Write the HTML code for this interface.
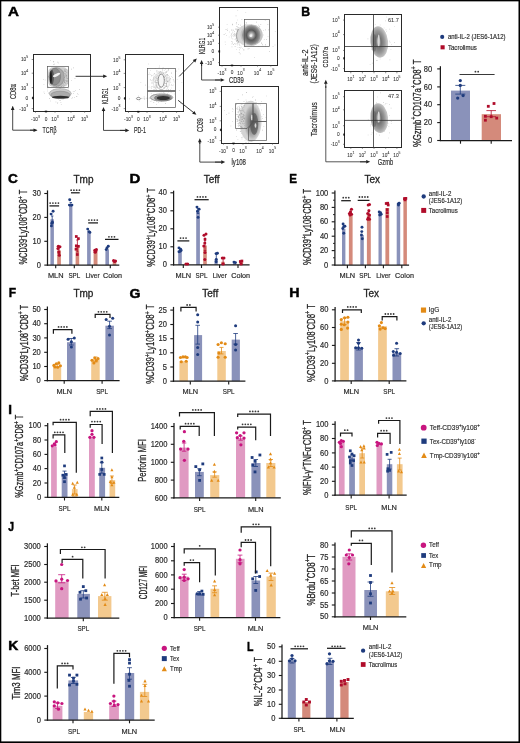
<!DOCTYPE html>
<html><head><meta charset="utf-8"><style>
html,body{margin:0;padding:0;background:#fff;}
svg{display:block;font-family:"Liberation Sans", sans-serif;will-change:transform;}
text{stroke:#2a2a2a;stroke-width:0.3px;}
text[font-weight="bold"]{stroke-width:0;}
</style></head><body>
<svg width="520" height="743" viewBox="0 0 520 743">
<defs>
<filter id="fb" x="-20%" y="-20%" width="140%" height="140%"><feGaussianBlur stdDeviation="0.55"/></filter>
<filter id="fb2" x="-20%" y="-20%" width="140%" height="140%"><feGaussianBlur stdDeviation="0.9"/></filter>
<radialGradient id="gsoft" cx="0.5" cy="0.5" r="0.5">
<stop offset="0" stop-color="#606060"/>
<stop offset="0.45" stop-color="#8a8a8a"/>
<stop offset="0.8" stop-color="#b8b8b8"/>
<stop offset="1" stop-color="#d8d8d8" stop-opacity="0.3"/>
</radialGradient>
<radialGradient id="gring" cx="0.5" cy="0.5" r="0.5">
<stop offset="0" stop-color="#f2f2f2"/>
<stop offset="0.2" stop-color="#b0b0b0"/>
<stop offset="0.5" stop-color="#585858"/>
<stop offset="0.75" stop-color="#7a7a7a"/>
<stop offset="1" stop-color="#a8a8a8"/>
</radialGradient>
<radialGradient id="gbean" cx="0.45" cy="0.5" r="0.5">
<stop offset="0" stop-color="#b4b4b4"/>
<stop offset="0.35" stop-color="#747474"/>
<stop offset="0.7" stop-color="#979797"/>
<stop offset="1" stop-color="#c2c2c2"/>
</radialGradient>
<radialGradient id="gcore" cx="0.5" cy="0.5" r="0.5">
<stop offset="0" stop-color="#f0f0f0"/>
<stop offset="0.18" stop-color="#9a9a9a"/>
<stop offset="0.45" stop-color="#4a4a4a"/>
<stop offset="0.75" stop-color="#8a8a8a"/>
<stop offset="1" stop-color="#cfcfcf" stop-opacity="0.3"/>
</radialGradient>
<radialGradient id="gdark" cx="0.5" cy="0.5" r="0.5">
<stop offset="0" stop-color="#333"/>
<stop offset="0.55" stop-color="#555"/>
<stop offset="1" stop-color="#aaa" stop-opacity="0.2"/>
</radialGradient>
<radialGradient id="ghalo" cx="0.5" cy="0.5" r="0.5">
<stop offset="0" stop-color="#9a9a9a" stop-opacity="0.9"/>
<stop offset="0.6" stop-color="#b5b5b5" stop-opacity="0.6"/>
<stop offset="1" stop-color="#e0e0e0" stop-opacity="0"/>
</radialGradient>
<radialGradient id="glight" cx="0.5" cy="0.5" r="0.5">
<stop offset="0" stop-color="#ffffff"/>
<stop offset="0.35" stop-color="#c8c8c8"/>
<stop offset="0.8" stop-color="#b0b0b0" stop-opacity="0.6"/>
<stop offset="1" stop-color="#e0e0e0" stop-opacity="0"/>
</radialGradient>
</defs>
<rect x="0" y="0" width="520" height="743" fill="#ffffff"/>
<text x="0" y="0" transform="translate(7.92 16.23) scale(1.15 1)" font-size="13.2" font-weight="bold" fill="#000" style="stroke:#000;stroke-width:0.45px">A</text>
<rect x="33.5" y="54.5" width="57" height="57" fill="none" stroke="#2a2a2a" stroke-width="1"/>
<line x1="31.7" y1="59.5" x2="33.1" y2="59.5" stroke="#444" stroke-width="0.6" />
<text x="28.2" y="59.9" font-size="4.8" text-anchor="end" dominant-baseline="central" fill="#333" style="stroke-width:0.06px">10<tspan font-size="3.46" dy="-2.64">5</tspan></text>
<line x1="31.7" y1="73.2" x2="33.1" y2="73.2" stroke="#444" stroke-width="0.6" />
<text x="28.2" y="73.6" font-size="4.8" text-anchor="end" dominant-baseline="central" fill="#333" style="stroke-width:0.06px">10<tspan font-size="3.46" dy="-2.64">4</tspan></text>
<line x1="31.7" y1="87.6" x2="33.1" y2="87.6" stroke="#444" stroke-width="0.6" />
<text x="28.2" y="88" font-size="4.8" text-anchor="end" dominant-baseline="central" fill="#333" style="stroke-width:0.06px">10<tspan font-size="3.46" dy="-2.64">3</tspan></text>
<line x1="31.7" y1="98" x2="33.1" y2="98" stroke="#444" stroke-width="0.6" />
<rect x="32.2" y="96.8" width="1.5" height="2.4" fill="#111" stroke="none" stroke-width="0"/>
<text x="28.2" y="98" font-size="4.8" text-anchor="end" dominant-baseline="central" fill="#333" style="stroke-width:0.06px">0</text>
<line x1="31.7" y1="108.6" x2="33.1" y2="108.6" stroke="#444" stroke-width="0.6" />
<text x="28.2" y="109" font-size="4.8" text-anchor="end" dominant-baseline="central" fill="#333" style="stroke-width:0.06px">-10<tspan font-size="3.46" dy="-2.64">3</tspan></text>
<line x1="35.5" y1="111.3" x2="35.5" y2="112.7" stroke="#444" stroke-width="0.6" />
<text x="35.5" y="119.7" font-size="4.8" text-anchor="middle" dominant-baseline="central" fill="#333" style="stroke-width:0.06px">-10<tspan font-size="3.46" dy="-2.64">3</tspan></text>
<line x1="46" y1="111.3" x2="46" y2="112.7" stroke="#444" stroke-width="0.6" />
<rect x="44.8" y="110.7" width="2.4" height="1.5" fill="#111" stroke="none" stroke-width="0"/>
<text x="46" y="119.3" font-size="4.8" text-anchor="middle" dominant-baseline="central" fill="#333" style="stroke-width:0.06px">0</text>
<line x1="55" y1="111.3" x2="55" y2="112.7" stroke="#444" stroke-width="0.6" />
<text x="55" y="119.7" font-size="4.8" text-anchor="middle" dominant-baseline="central" fill="#333" style="stroke-width:0.06px">10<tspan font-size="3.46" dy="-2.64">3</tspan></text>
<line x1="71" y1="111.3" x2="71" y2="112.7" stroke="#444" stroke-width="0.6" />
<text x="71" y="119.7" font-size="4.8" text-anchor="middle" dominant-baseline="central" fill="#333" style="stroke-width:0.06px">10<tspan font-size="3.46" dy="-2.64">4</tspan></text>
<line x1="84.6" y1="111.3" x2="84.6" y2="112.7" stroke="#444" stroke-width="0.6" />
<text x="84.6" y="119.7" font-size="4.8" text-anchor="middle" dominant-baseline="central" fill="#333" style="stroke-width:0.06px">10<tspan font-size="3.46" dy="-2.64">5</tspan></text>
<rect x="48.3" y="67.3" width="19.8" height="19.6" rx="5" fill="#cdcdcd" filter="url(#fb)"/>
<path d="M54.38 79.27h0.55v0.55h-0.55zM65.47 73.92h0.55v0.55h-0.55zM53.86 76.61h0.55v0.55h-0.55zM62.89 83.59h0.55v0.55h-0.55zM54.42 69.24h0.55v0.55h-0.55zM64.03 79.84h0.55v0.55h-0.55zM59.99 75.35h0.55v0.55h-0.55zM56.58 70.17h0.55v0.55h-0.55zM60.98 77.87h0.55v0.55h-0.55zM58.78 76.63h0.55v0.55h-0.55zM61.87 81.15h0.55v0.55h-0.55zM65.98 78.26h0.55v0.55h-0.55zM51.55 81.21h0.55v0.55h-0.55zM53.4 75.97h0.55v0.55h-0.55zM53.13 77.01h0.55v0.55h-0.55zM56.61 78.28h0.55v0.55h-0.55zM64.71 69.06h0.55v0.55h-0.55zM59.06 80.97h0.55v0.55h-0.55zM60.04 79.22h0.55v0.55h-0.55zM61.02 70.96h0.55v0.55h-0.55zM63.32 72.13h0.55v0.55h-0.55zM63.93 77.01h0.55v0.55h-0.55zM65.26 73.39h0.55v0.55h-0.55zM65.49 76.26h0.55v0.55h-0.55zM66.82 80.75h0.55v0.55h-0.55zM61.21 72.32h0.55v0.55h-0.55zM64.34 79.81h0.55v0.55h-0.55zM63.27 80.05h0.55v0.55h-0.55zM61.91 78.25h0.55v0.55h-0.55zM61.41 73.41h0.55v0.55h-0.55zM55.43 74.62h0.55v0.55h-0.55zM63.45 86.07h0.55v0.55h-0.55zM65.39 83.32h0.55v0.55h-0.55zM64.39 81.19h0.55v0.55h-0.55zM61.42 81.63h0.55v0.55h-0.55zM61.72 82.83h0.55v0.55h-0.55zM64.87 70.19h0.55v0.55h-0.55zM61.38 81.51h0.55v0.55h-0.55zM61.13 71.7h0.55v0.55h-0.55zM59.94 79.24h0.55v0.55h-0.55zM66.08 81.26h0.55v0.55h-0.55zM60.8 85.13h0.55v0.55h-0.55zM56.7 81.76h0.55v0.55h-0.55zM66.06 75.25h0.55v0.55h-0.55zM51.55 71.56h0.55v0.55h-0.55zM61.69 80.17h0.55v0.55h-0.55zM60.51 80.89h0.55v0.55h-0.55zM65.52 71.5h0.55v0.55h-0.55zM58.44 78.33h0.55v0.55h-0.55zM61.07 86.34h0.55v0.55h-0.55zM57.07 74.15h0.55v0.55h-0.55zM64.1 85.55h0.55v0.55h-0.55zM63.77 78.81h0.55v0.55h-0.55zM51.39 72.72h0.55v0.55h-0.55zM57.45 73.8h0.55v0.55h-0.55zM63.43 74.99h0.55v0.55h-0.55zM64.44 77.49h0.55v0.55h-0.55zM58.84 77.71h0.55v0.55h-0.55zM62.64 82.15h0.55v0.55h-0.55zM58.11 75.6h0.55v0.55h-0.55zM53.68 86.62h0.55v0.55h-0.55zM58.11 69.58h0.55v0.55h-0.55zM61.35 78.24h0.55v0.55h-0.55zM67.55 78.14h0.55v0.55h-0.55zM52.45 78.08h0.55v0.55h-0.55zM66.09 80.43h0.55v0.55h-0.55zM55.96 84.32h0.55v0.55h-0.55zM52.83 82.28h0.55v0.55h-0.55zM64.77 71.08h0.55v0.55h-0.55zM57.03 72.84h0.55v0.55h-0.55zM54.55 72.92h0.55v0.55h-0.55zM66.75 81.14h0.55v0.55h-0.55zM59.82 71.11h0.55v0.55h-0.55zM59.88 69.12h0.55v0.55h-0.55zM51.61 81.18h0.55v0.55h-0.55zM67.16 78.51h0.55v0.55h-0.55zM56.91 77.52h0.55v0.55h-0.55zM58.63 70.33h0.55v0.55h-0.55zM52.04 68.1h0.55v0.55h-0.55zM60.47 77.9h0.55v0.55h-0.55zM58.13 85.57h0.55v0.55h-0.55zM61.39 80.5h0.55v0.55h-0.55zM66.59 72.08h0.55v0.55h-0.55zM50.65 81.51h0.55v0.55h-0.55zM57.06 84.87h0.55v0.55h-0.55zM62.19 83.04h0.55v0.55h-0.55zM64.1 72.96h0.55v0.55h-0.55zM56.72 74.39h0.55v0.55h-0.55zM64.34 82.31h0.55v0.55h-0.55zM59.99 80.6h0.55v0.55h-0.55zM56.68 78.47h0.55v0.55h-0.55zM61.66 83.05h0.55v0.55h-0.55zM56.39 72.03h0.55v0.55h-0.55zM65.95 76.26h0.55v0.55h-0.55zM61.63 77.69h0.55v0.55h-0.55zM61.52 75.75h0.55v0.55h-0.55zM58.83 69.46h0.55v0.55h-0.55zM63.18 77.39h0.55v0.55h-0.55zM59.43 77.38h0.55v0.55h-0.55zM62.27 73.12h0.55v0.55h-0.55zM61.48 78.44h0.55v0.55h-0.55zM56.76 72.27h0.55v0.55h-0.55zM55.51 70.62h0.55v0.55h-0.55zM59.17 73.33h0.55v0.55h-0.55zM57.4 77.59h0.55v0.55h-0.55zM66.14 77.46h0.55v0.55h-0.55zM59.8 73.33h0.55v0.55h-0.55zM59.86 82.47h0.55v0.55h-0.55zM58.53 70.12h0.55v0.55h-0.55zM54.18 70.36h0.55v0.55h-0.55zM53.55 83.59h0.55v0.55h-0.55zM62.28 75.58h0.55v0.55h-0.55zM64.27 81.81h0.55v0.55h-0.55zM55.86 82.44h0.55v0.55h-0.55zM66.98 69.63h0.55v0.55h-0.55zM65.74 74.7h0.55v0.55h-0.55zM58.53 73.69h0.55v0.55h-0.55zM55.49 69.59h0.55v0.55h-0.55zM51.89 74.56h0.55v0.55h-0.55zM63.35 72.63h0.55v0.55h-0.55zM65.18 80.22h0.55v0.55h-0.55zM52.37 73.81h0.55v0.55h-0.55zM59.3 77.11h0.55v0.55h-0.55zM61.16 74.97h0.55v0.55h-0.55zM61.45 73.48h0.55v0.55h-0.55zM56.02 86.09h0.55v0.55h-0.55zM62.3 79.63h0.55v0.55h-0.55zM52.53 76h0.55v0.55h-0.55zM64.6 69.25h0.55v0.55h-0.55zM65.99 74.66h0.55v0.55h-0.55zM62.51 76.2h0.55v0.55h-0.55zM61.59 84.22h0.55v0.55h-0.55zM58.48 86.39h0.55v0.55h-0.55zM56.59 71.41h0.55v0.55h-0.55zM64.06 70.6h0.55v0.55h-0.55zM58.65 82.44h0.55v0.55h-0.55zM66.47 75.56h0.55v0.55h-0.55zM57.5 75.22h0.55v0.55h-0.55zM54.74 75.41h0.55v0.55h-0.55zM59.56 76.13h0.55v0.55h-0.55zM66.41 75.62h0.55v0.55h-0.55zM53.21 83.31h0.55v0.55h-0.55zM55.14 74.32h0.55v0.55h-0.55zM59.83 74.94h0.55v0.55h-0.55zM55.48 75.51h0.55v0.55h-0.55zM59.82 83.74h0.55v0.55h-0.55zM64.22 81.58h0.55v0.55h-0.55zM56.18 77.77h0.55v0.55h-0.55zM62.99 84.77h0.55v0.55h-0.55zM62.85 75.57h0.55v0.55h-0.55zM60.7 75.73h0.55v0.55h-0.55zM61.74 81.05h0.55v0.55h-0.55zM58.8 72.12h0.55v0.55h-0.55zM56.23 83.58h0.55v0.55h-0.55zM66.9 82.95h0.55v0.55h-0.55zM64.78 82h0.55v0.55h-0.55zM60.49 80.98h0.55v0.55h-0.55zM55.24 75.78h0.55v0.55h-0.55zM56.83 81.36h0.55v0.55h-0.55zM57.6 76.35h0.55v0.55h-0.55zM62.5 85.13h0.55v0.55h-0.55z" fill="#8a8a8a" opacity="0.9"/>
<path d="M51.37 70.61h0.6v0.6h-0.6zM65.86 68.94h0.6v0.6h-0.6zM62.57 74.3h0.6v0.6h-0.6zM57.55 61.79h0.6v0.6h-0.6zM64.92 75h0.6v0.6h-0.6zM50.41 100.77h0.6v0.6h-0.6zM62.17 76.52h0.6v0.6h-0.6zM59.47 96.07h0.6v0.6h-0.6zM58.26 84.51h0.6v0.6h-0.6zM63.15 70.9h0.6v0.6h-0.6zM59.66 74.97h0.6v0.6h-0.6zM47.29 88.72h0.6v0.6h-0.6zM64.49 80.75h0.6v0.6h-0.6zM50.33 59.94h0.6v0.6h-0.6zM62.87 79.02h0.6v0.6h-0.6zM43.35 79.4h0.6v0.6h-0.6zM44.81 79.73h0.6v0.6h-0.6zM59.79 83.55h0.6v0.6h-0.6zM60.45 81.71h0.6v0.6h-0.6zM48.24 76.16h0.6v0.6h-0.6zM53.9 77.64h0.6v0.6h-0.6zM60.93 86.19h0.6v0.6h-0.6zM62.11 78.02h0.6v0.6h-0.6zM78.99 89.34h0.6v0.6h-0.6zM43.62 84.02h0.6v0.6h-0.6zM53.81 89.94h0.6v0.6h-0.6zM49 78.98h0.6v0.6h-0.6zM57.32 79.03h0.6v0.6h-0.6zM53.24 61.62h0.6v0.6h-0.6zM62.64 89.99h0.6v0.6h-0.6zM57.89 69.83h0.6v0.6h-0.6zM60.33 85.65h0.6v0.6h-0.6zM56.92 79.86h0.6v0.6h-0.6zM71.18 68.81h0.6v0.6h-0.6zM53.48 60.94h0.6v0.6h-0.6zM52.2 72.6h0.6v0.6h-0.6zM49.86 73.06h0.6v0.6h-0.6zM74.67 78.04h0.6v0.6h-0.6zM57.47 101.98h0.6v0.6h-0.6zM57.95 62.66h0.6v0.6h-0.6zM62.13 70.63h0.6v0.6h-0.6zM73.25 67.54h0.6v0.6h-0.6zM53.28 63.94h0.6v0.6h-0.6zM59.38 69.84h0.6v0.6h-0.6zM57.91 76.23h0.6v0.6h-0.6zM52.98 89.43h0.6v0.6h-0.6zM66.92 80.62h0.6v0.6h-0.6zM50.4 69.3h0.6v0.6h-0.6zM60.93 103.91h0.6v0.6h-0.6zM54.39 72.15h0.6v0.6h-0.6zM52.22 69.05h0.6v0.6h-0.6zM49.75 77.95h0.6v0.6h-0.6zM71.4 79.99h0.6v0.6h-0.6zM53.9 63.85h0.6v0.6h-0.6zM60.42 79.73h0.6v0.6h-0.6zM47.46 69.13h0.6v0.6h-0.6zM58.12 90.12h0.6v0.6h-0.6zM64.14 82.06h0.6v0.6h-0.6z" fill="#9a9a9a" opacity="0.9"/>
<path d="M58.24 94.96h0.55v0.55h-0.55zM60.42 100.52h0.55v0.55h-0.55zM52.57 92.89h0.55v0.55h-0.55zM69.38 93.2h0.55v0.55h-0.55zM70.47 93.87h0.55v0.55h-0.55zM61.52 92.89h0.55v0.55h-0.55zM50.84 91.09h0.55v0.55h-0.55zM76.01 95.94h0.55v0.55h-0.55zM64.74 96.86h0.55v0.55h-0.55zM64.48 97.07h0.55v0.55h-0.55zM58.64 93.33h0.55v0.55h-0.55zM67.39 92.94h0.55v0.55h-0.55zM51.19 93.32h0.55v0.55h-0.55zM56.69 95.84h0.55v0.55h-0.55zM55.46 90.82h0.55v0.55h-0.55zM58.18 98.66h0.55v0.55h-0.55zM60.16 94.48h0.55v0.55h-0.55zM60.56 94.89h0.55v0.55h-0.55zM67 98.19h0.55v0.55h-0.55zM48.99 98.08h0.55v0.55h-0.55zM60.48 93.04h0.55v0.55h-0.55zM77.29 93.49h0.55v0.55h-0.55zM74.11 96.9h0.55v0.55h-0.55zM53.29 95.47h0.55v0.55h-0.55zM65.66 93.62h0.55v0.55h-0.55zM44.2 92.97h0.55v0.55h-0.55zM59.16 90.68h0.55v0.55h-0.55zM73.28 93.27h0.55v0.55h-0.55zM57.75 93.1h0.55v0.55h-0.55zM55.02 91.67h0.55v0.55h-0.55zM61.16 94.94h0.55v0.55h-0.55zM56.95 93.73h0.55v0.55h-0.55zM50.77 95.56h0.55v0.55h-0.55zM55.25 94.64h0.55v0.55h-0.55zM54.15 92.45h0.55v0.55h-0.55zM62.01 90.37h0.55v0.55h-0.55zM77.79 93.89h0.55v0.55h-0.55zM59.99 91.8h0.55v0.55h-0.55zM71.66 98.16h0.55v0.55h-0.55zM62.6 89.9h0.55v0.55h-0.55zM56.97 95.85h0.55v0.55h-0.55zM56.92 90.45h0.55v0.55h-0.55zM52.19 91.69h0.55v0.55h-0.55zM60.6 92.05h0.55v0.55h-0.55zM60.63 102.38h0.55v0.55h-0.55zM72.91 90.89h0.55v0.55h-0.55zM62.9 94.26h0.55v0.55h-0.55zM59.53 97.13h0.55v0.55h-0.55zM58.17 93.02h0.55v0.55h-0.55zM57.88 93.7h0.55v0.55h-0.55zM69.5 96.33h0.55v0.55h-0.55zM51.11 92.67h0.55v0.55h-0.55zM54.92 96.45h0.55v0.55h-0.55zM62.07 96.67h0.55v0.55h-0.55zM60.07 88.27h0.55v0.55h-0.55zM63.66 94.68h0.55v0.55h-0.55zM64.06 90.09h0.55v0.55h-0.55zM61.07 91.94h0.55v0.55h-0.55zM55.69 95.06h0.55v0.55h-0.55zM62.97 91.32h0.55v0.55h-0.55zM48.52 86.58h0.55v0.55h-0.55zM56.47 97.37h0.55v0.55h-0.55zM60.11 87.25h0.55v0.55h-0.55zM54.46 95.26h0.55v0.55h-0.55zM72.21 97.5h0.55v0.55h-0.55zM63.07 94.59h0.55v0.55h-0.55zM53.08 92.64h0.55v0.55h-0.55zM58.17 91.68h0.55v0.55h-0.55zM60.94 92.82h0.55v0.55h-0.55zM62.86 98.3h0.55v0.55h-0.55zM65.69 95.25h0.55v0.55h-0.55zM58.81 89.44h0.55v0.55h-0.55zM59.7 95.63h0.55v0.55h-0.55zM53.44 97.76h0.55v0.55h-0.55zM58.16 95.12h0.55v0.55h-0.55zM58.2 90.23h0.55v0.55h-0.55zM74.97 90.52h0.55v0.55h-0.55zM66.93 92.33h0.55v0.55h-0.55zM62.45 91.58h0.55v0.55h-0.55zM57.59 96.76h0.55v0.55h-0.55zM74.12 91.46h0.55v0.55h-0.55zM60.57 96.84h0.55v0.55h-0.55zM56.08 96.13h0.55v0.55h-0.55zM55.01 95.81h0.55v0.55h-0.55zM63.56 97.64h0.55v0.55h-0.55zM63.05 90.42h0.55v0.55h-0.55zM65.15 90.7h0.55v0.55h-0.55zM65.76 98.53h0.55v0.55h-0.55zM64.67 92.34h0.55v0.55h-0.55zM68.85 94.5h0.55v0.55h-0.55zM51.78 92.94h0.55v0.55h-0.55zM70.43 93.09h0.55v0.55h-0.55zM61.35 92.97h0.55v0.55h-0.55zM48.7 92.47h0.55v0.55h-0.55zM63 94.62h0.55v0.55h-0.55zM59.28 87.6h0.55v0.55h-0.55zM69.05 96.16h0.55v0.55h-0.55zM67.67 97.9h0.55v0.55h-0.55zM57.39 92.19h0.55v0.55h-0.55zM62.7 99.02h0.55v0.55h-0.55zM48.7 93.31h0.55v0.55h-0.55zM55.49 95.68h0.55v0.55h-0.55zM70.75 93.11h0.55v0.55h-0.55zM51.82 94.15h0.55v0.55h-0.55zM58.5 89.37h0.55v0.55h-0.55zM66.69 92.43h0.55v0.55h-0.55zM65.28 90.05h0.55v0.55h-0.55zM68.17 89.68h0.55v0.55h-0.55zM67.87 88.57h0.55v0.55h-0.55zM70.16 92.88h0.55v0.55h-0.55zM49.61 93.3h0.55v0.55h-0.55zM62.86 91.03h0.55v0.55h-0.55zM57.05 94.81h0.55v0.55h-0.55zM59.32 84.8h0.55v0.55h-0.55zM57.49 95.28h0.55v0.55h-0.55zM62.58 97.03h0.55v0.55h-0.55zM55.67 101.66h0.55v0.55h-0.55zM66.1 94.94h0.55v0.55h-0.55zM68.1 96.86h0.55v0.55h-0.55zM61.21 92.14h0.55v0.55h-0.55zM67.67 95.27h0.55v0.55h-0.55zM47.25 90.69h0.55v0.55h-0.55zM63.77 94.33h0.55v0.55h-0.55zM62.46 95.93h0.55v0.55h-0.55zM61.52 98.75h0.55v0.55h-0.55zM56.37 92.8h0.55v0.55h-0.55zM62.76 96.24h0.55v0.55h-0.55zM66.01 98.46h0.55v0.55h-0.55zM57.16 97.5h0.55v0.55h-0.55zM63.77 90.87h0.55v0.55h-0.55zM59.54 100.26h0.55v0.55h-0.55zM66 92.59h0.55v0.55h-0.55zM43.71 91.79h0.55v0.55h-0.55zM55.58 94.23h0.55v0.55h-0.55zM76.67 96.24h0.55v0.55h-0.55zM62.69 91.2h0.55v0.55h-0.55zM52.2 93.38h0.55v0.55h-0.55zM57.23 103.02h0.55v0.55h-0.55zM57.67 92.15h0.55v0.55h-0.55zM68.4 94.23h0.55v0.55h-0.55z" fill="#8a8a8a" opacity="0.9"/>
<g filter="url(#fb)">
<ellipse cx="56.5" cy="77" rx="7.8" ry="9.4" fill="#aaaaaa" stroke="#7a7a7a" stroke-width="0.4" opacity="1"/>
<ellipse cx="55" cy="76.6" rx="5.6" ry="8.4" fill="#8e8e8e" stroke="#666" stroke-width="0.4" opacity="1"/>
<ellipse cx="51.9" cy="77.2" rx="2" ry="7.4" fill="#555555" stroke="none" stroke-width="0.5" opacity="1"/>
<ellipse cx="50.9" cy="77.4" rx="1" ry="6.6" fill="#1a1a1a" stroke="none" stroke-width="0.5" opacity="1"/>
<ellipse cx="56.6" cy="75" rx="3.9" ry="1.3" fill="#f0f0f0" stroke="none" stroke-width="0.5" opacity="1" transform="rotate(-25 56.6 75)"/>
<ellipse cx="60.2" cy="93.6" rx="11" ry="5" fill="#cbcbcb" stroke="#888" stroke-width="0.4" opacity="1"/>
<ellipse cx="60.4" cy="94.8" rx="9.6" ry="3.6" fill="#ababab" stroke="#777" stroke-width="0.4" opacity="1"/>
<ellipse cx="60.6" cy="97.2" rx="8.8" ry="1.4" fill="#2e2e2e" stroke="none" stroke-width="0.5" opacity="1"/>
</g>
<rect x="47.5" y="66.5" width="21" height="21" fill="none" stroke="#555" stroke-width="0.7"/>
<line x1="75.6" y1="76.3" x2="104.8" y2="76.3" stroke="#222" stroke-width="0.9" />
<polygon points="107.2,76.3 103.2,74.5 103.2,78.1" fill="#222"/>
<text x="13.3" y="91.6" font-size="8.4" text-anchor="middle" dominant-baseline="central" fill="#2a2a2a" textLength="15" lengthAdjust="spacingAndGlyphs" transform="rotate(-90 13.3 91.6)" style="stroke-width:0.16px">CD8&#945;</text>
<polyline points="12.7,106.5 12.7,130.2 36.5,130.2" stroke="#333" stroke-width="0.9" fill="none" />
<line x1="12.7" y1="110" x2="12.7" y2="108.4" stroke="#222" stroke-width="0.9" />
<polygon points="12.7,106 10.9,110 14.5,110" fill="#222"/>
<line x1="30" y1="130.2" x2="35.1" y2="130.2" stroke="#222" stroke-width="0.9" />
<polygon points="37.5,130.2 33.5,128.4 33.5,132" fill="#222"/>
<text x="42.6" y="130.3" font-size="8.4" text-anchor="start" dominant-baseline="central" fill="#2a2a2a" textLength="13.9" lengthAdjust="spacingAndGlyphs" style="stroke-width:0.16px">TCR&#946;</text>
<rect x="125.5" y="54.5" width="58" height="57" fill="none" stroke="#2a2a2a" stroke-width="1"/>
<line x1="123.7" y1="59.8" x2="125.1" y2="59.8" stroke="#444" stroke-width="0.6" />
<text x="120.3" y="60.2" font-size="4.8" text-anchor="end" dominant-baseline="central" fill="#333" style="stroke-width:0.06px">10<tspan font-size="3.46" dy="-2.64">5</tspan></text>
<line x1="123.7" y1="73.4" x2="125.1" y2="73.4" stroke="#444" stroke-width="0.6" />
<text x="120.3" y="73.8" font-size="4.8" text-anchor="end" dominant-baseline="central" fill="#333" style="stroke-width:0.06px">10<tspan font-size="3.46" dy="-2.64">4</tspan></text>
<line x1="123.7" y1="87.6" x2="125.1" y2="87.6" stroke="#444" stroke-width="0.6" />
<text x="120.3" y="88" font-size="4.8" text-anchor="end" dominant-baseline="central" fill="#333" style="stroke-width:0.06px">10<tspan font-size="3.46" dy="-2.64">3</tspan></text>
<line x1="123.7" y1="98.4" x2="125.1" y2="98.4" stroke="#444" stroke-width="0.6" />
<rect x="124.2" y="97.2" width="1.5" height="2.4" fill="#111" stroke="none" stroke-width="0"/>
<text x="120.3" y="98.4" font-size="4.8" text-anchor="end" dominant-baseline="central" fill="#333" style="stroke-width:0.06px">0</text>
<line x1="123.7" y1="108.6" x2="125.1" y2="108.6" stroke="#444" stroke-width="0.6" />
<text x="120.3" y="109" font-size="4.8" text-anchor="end" dominant-baseline="central" fill="#333" style="stroke-width:0.06px">-10<tspan font-size="3.46" dy="-2.64">3</tspan></text>
<line x1="128.5" y1="111.5" x2="128.5" y2="112.9" stroke="#444" stroke-width="0.6" />
<text x="128.5" y="119.7" font-size="4.8" text-anchor="middle" dominant-baseline="central" fill="#333" style="stroke-width:0.06px">-10<tspan font-size="3.46" dy="-2.64">3</tspan></text>
<line x1="138.3" y1="111.5" x2="138.3" y2="112.9" stroke="#444" stroke-width="0.6" />
<rect x="137.1" y="110.9" width="2.4" height="1.5" fill="#111" stroke="none" stroke-width="0"/>
<text x="138.3" y="119.3" font-size="4.8" text-anchor="middle" dominant-baseline="central" fill="#333" style="stroke-width:0.06px">0</text>
<line x1="147" y1="111.5" x2="147" y2="112.9" stroke="#444" stroke-width="0.6" />
<text x="147" y="119.7" font-size="4.8" text-anchor="middle" dominant-baseline="central" fill="#333" style="stroke-width:0.06px">10<tspan font-size="3.46" dy="-2.64">3</tspan></text>
<line x1="163" y1="111.5" x2="163" y2="112.9" stroke="#444" stroke-width="0.6" />
<text x="163" y="119.7" font-size="4.8" text-anchor="middle" dominant-baseline="central" fill="#333" style="stroke-width:0.06px">10<tspan font-size="3.46" dy="-2.64">4</tspan></text>
<line x1="176.6" y1="111.5" x2="176.6" y2="112.9" stroke="#444" stroke-width="0.6" />
<text x="176.6" y="119.7" font-size="4.8" text-anchor="middle" dominant-baseline="central" fill="#333" style="stroke-width:0.06px">10<tspan font-size="3.46" dy="-2.64">5</tspan></text>
<path d="M153.47 89.53h0.6v0.6h-0.6zM159.47 71.2h0.6v0.6h-0.6zM163.59 83.92h0.6v0.6h-0.6zM159.3 85.38h0.6v0.6h-0.6zM166.83 74.32h0.6v0.6h-0.6zM148.13 63.75h0.6v0.6h-0.6zM160.67 89.11h0.6v0.6h-0.6zM168.02 90.24h0.6v0.6h-0.6zM173.56 80.61h0.6v0.6h-0.6zM168.36 69.8h0.6v0.6h-0.6zM165.98 83.25h0.6v0.6h-0.6zM160.89 77.4h0.6v0.6h-0.6zM154.25 81.48h0.6v0.6h-0.6zM169.8 77.93h0.6v0.6h-0.6zM164.95 75.85h0.6v0.6h-0.6zM163.15 73.45h0.6v0.6h-0.6zM163.96 78.97h0.6v0.6h-0.6zM163.55 76.25h0.6v0.6h-0.6zM153.85 78.2h0.6v0.6h-0.6zM168.24 91.55h0.6v0.6h-0.6zM159.39 86.1h0.6v0.6h-0.6zM166.43 83.25h0.6v0.6h-0.6zM151.42 82.77h0.6v0.6h-0.6zM155.2 88.73h0.6v0.6h-0.6zM166.62 84.82h0.6v0.6h-0.6zM145.02 84.85h0.6v0.6h-0.6zM166.05 71.56h0.6v0.6h-0.6zM167.81 81.03h0.6v0.6h-0.6zM160.31 75.51h0.6v0.6h-0.6zM154.88 77.46h0.6v0.6h-0.6zM181.56 81.92h0.6v0.6h-0.6zM162.85 75.96h0.6v0.6h-0.6zM157.49 76.64h0.6v0.6h-0.6zM155.74 86.63h0.6v0.6h-0.6zM159.74 86.56h0.6v0.6h-0.6zM153.99 87h0.6v0.6h-0.6zM161.32 85.17h0.6v0.6h-0.6zM160.82 74.28h0.6v0.6h-0.6zM169.37 77.45h0.6v0.6h-0.6zM160.54 74.3h0.6v0.6h-0.6zM162.83 77.77h0.6v0.6h-0.6zM163.33 82.91h0.6v0.6h-0.6zM157.02 70.63h0.6v0.6h-0.6zM164.31 86.92h0.6v0.6h-0.6zM166.03 72.48h0.6v0.6h-0.6zM165.43 83.19h0.6v0.6h-0.6zM163.34 83.51h0.6v0.6h-0.6zM159.4 82h0.6v0.6h-0.6zM167.52 76.97h0.6v0.6h-0.6zM152.14 79.77h0.6v0.6h-0.6zM162.78 67.59h0.6v0.6h-0.6zM157.1 84.63h0.6v0.6h-0.6zM160.52 81.15h0.6v0.6h-0.6zM153.31 86.84h0.6v0.6h-0.6zM172.9 79.1h0.6v0.6h-0.6zM156.74 72.4h0.6v0.6h-0.6zM167.29 81.23h0.6v0.6h-0.6zM156.34 89h0.6v0.6h-0.6zM166.47 84.72h0.6v0.6h-0.6zM150.06 79.77h0.6v0.6h-0.6zM165.57 71.93h0.6v0.6h-0.6zM167.54 90.51h0.6v0.6h-0.6zM168.22 75.45h0.6v0.6h-0.6zM156.9 87.09h0.6v0.6h-0.6zM167.96 89.1h0.6v0.6h-0.6zM169.3 79.8h0.6v0.6h-0.6zM158.84 67.51h0.6v0.6h-0.6zM166.6 96.43h0.6v0.6h-0.6zM158.49 77.17h0.6v0.6h-0.6zM165.72 83.12h0.6v0.6h-0.6zM152.59 75.5h0.6v0.6h-0.6zM154.36 94.65h0.6v0.6h-0.6zM156.84 86.48h0.6v0.6h-0.6zM173.97 93.76h0.6v0.6h-0.6zM170.77 91.91h0.6v0.6h-0.6zM153.47 78.08h0.6v0.6h-0.6zM156.77 78.47h0.6v0.6h-0.6zM178.54 68.75h0.6v0.6h-0.6zM165.13 71.85h0.6v0.6h-0.6zM170.2 89.6h0.6v0.6h-0.6zM158.17 94.99h0.6v0.6h-0.6zM161.99 89.62h0.6v0.6h-0.6zM163.52 76.58h0.6v0.6h-0.6zM159.03 79.67h0.6v0.6h-0.6zM165.51 81.38h0.6v0.6h-0.6zM176.84 79.15h0.6v0.6h-0.6zM158.47 75.46h0.6v0.6h-0.6zM156.45 70.42h0.6v0.6h-0.6zM155.1 86.84h0.6v0.6h-0.6zM161.89 79.3h0.6v0.6h-0.6zM163.78 87.97h0.6v0.6h-0.6zM165.5 85.91h0.6v0.6h-0.6zM157.86 78.67h0.6v0.6h-0.6zM156.45 79.82h0.6v0.6h-0.6zM156.19 77.89h0.6v0.6h-0.6zM160.36 78.99h0.6v0.6h-0.6zM159.77 77.06h0.6v0.6h-0.6zM170.01 78.1h0.6v0.6h-0.6zM154.93 81.85h0.6v0.6h-0.6zM154.42 72.99h0.6v0.6h-0.6zM162.05 68.83h0.6v0.6h-0.6zM140.57 82.52h0.6v0.6h-0.6zM168.23 68.8h0.6v0.6h-0.6zM155.67 84.54h0.6v0.6h-0.6zM148.58 74.38h0.6v0.6h-0.6zM153.67 79.11h0.6v0.6h-0.6zM148.68 86.76h0.6v0.6h-0.6zM160.56 82.62h0.6v0.6h-0.6zM159.37 65.65h0.6v0.6h-0.6zM160.51 71.12h0.6v0.6h-0.6zM161.57 74.53h0.6v0.6h-0.6zM159.44 79.02h0.6v0.6h-0.6zM166.52 85.87h0.6v0.6h-0.6zM154.97 80.38h0.6v0.6h-0.6zM170.99 83.96h0.6v0.6h-0.6zM156.76 79.65h0.6v0.6h-0.6zM159.24 87.09h0.6v0.6h-0.6zM161.72 83.13h0.6v0.6h-0.6zM175.87 70.85h0.6v0.6h-0.6zM154.91 68.38h0.6v0.6h-0.6zM151.15 86.5h0.6v0.6h-0.6zM163.4 91.92h0.6v0.6h-0.6zM148.67 74.33h0.6v0.6h-0.6zM170.88 87.7h0.6v0.6h-0.6zM167.25 86.6h0.6v0.6h-0.6zM161.71 80.43h0.6v0.6h-0.6zM161.71 86.4h0.6v0.6h-0.6zM160.44 82.74h0.6v0.6h-0.6zM170.95 72.62h0.6v0.6h-0.6zM156.62 84.45h0.6v0.6h-0.6z" fill="#a0a0a0" opacity="0.9"/>
<path d="M159.92 78.64h0.5v0.5h-0.5zM174.09 81.79h0.5v0.5h-0.5zM158.99 85.54h0.5v0.5h-0.5zM157.48 80.14h0.5v0.5h-0.5zM164.65 77.31h0.5v0.5h-0.5zM164.44 75.12h0.5v0.5h-0.5zM157.87 80.08h0.5v0.5h-0.5zM164.02 86.93h0.5v0.5h-0.5zM165.94 90.07h0.5v0.5h-0.5zM164.2 80.31h0.5v0.5h-0.5zM160.71 74.79h0.5v0.5h-0.5zM171.31 72.99h0.5v0.5h-0.5zM160.76 76.62h0.5v0.5h-0.5zM159.21 80.25h0.5v0.5h-0.5zM162.36 84.15h0.5v0.5h-0.5zM160.53 75.97h0.5v0.5h-0.5zM163.35 83.16h0.5v0.5h-0.5zM156.08 71.14h0.5v0.5h-0.5zM155.35 85.32h0.5v0.5h-0.5zM167.49 74.62h0.5v0.5h-0.5zM162.17 84.11h0.5v0.5h-0.5zM169.47 75.88h0.5v0.5h-0.5zM160.06 87.25h0.5v0.5h-0.5zM154.66 81.97h0.5v0.5h-0.5zM159.71 79.18h0.5v0.5h-0.5zM157.52 76.86h0.5v0.5h-0.5zM161.44 89.42h0.5v0.5h-0.5zM165.7 81.85h0.5v0.5h-0.5zM161.66 75.37h0.5v0.5h-0.5zM160.12 86.32h0.5v0.5h-0.5zM163.06 79.39h0.5v0.5h-0.5zM151.79 81.69h0.5v0.5h-0.5zM151.16 87.89h0.5v0.5h-0.5zM157.72 79.5h0.5v0.5h-0.5zM153.39 76.77h0.5v0.5h-0.5zM155.91 85.72h0.5v0.5h-0.5zM162.99 73.01h0.5v0.5h-0.5zM149.91 79.12h0.5v0.5h-0.5zM158.58 73.39h0.5v0.5h-0.5zM165.04 78.48h0.5v0.5h-0.5zM162.17 76.25h0.5v0.5h-0.5zM158.08 76.97h0.5v0.5h-0.5zM151.88 82.96h0.5v0.5h-0.5zM163.92 70.02h0.5v0.5h-0.5zM162.11 85.85h0.5v0.5h-0.5zM162.92 86.63h0.5v0.5h-0.5zM159.89 79.51h0.5v0.5h-0.5zM153.7 74.52h0.5v0.5h-0.5zM150.56 74.58h0.5v0.5h-0.5zM162.97 82.36h0.5v0.5h-0.5zM168.48 80.22h0.5v0.5h-0.5zM155.56 81.87h0.5v0.5h-0.5zM160.63 89.31h0.5v0.5h-0.5zM173.25 84.78h0.5v0.5h-0.5zM154.68 76.61h0.5v0.5h-0.5zM162.64 75.58h0.5v0.5h-0.5zM164.64 83.27h0.5v0.5h-0.5zM166.53 80.76h0.5v0.5h-0.5zM156.2 74.87h0.5v0.5h-0.5zM160.76 86.8h0.5v0.5h-0.5zM170.95 84.88h0.5v0.5h-0.5zM163.68 83.22h0.5v0.5h-0.5zM166.43 86.61h0.5v0.5h-0.5zM166.63 71.05h0.5v0.5h-0.5zM167.22 81.62h0.5v0.5h-0.5zM158.74 82.39h0.5v0.5h-0.5zM163.23 79.2h0.5v0.5h-0.5zM151.37 80.11h0.5v0.5h-0.5zM164.84 79.23h0.5v0.5h-0.5zM151.97 82.02h0.5v0.5h-0.5zM165.82 80.5h0.5v0.5h-0.5zM164.06 77.56h0.5v0.5h-0.5zM157.55 82.38h0.5v0.5h-0.5zM159.37 80.5h0.5v0.5h-0.5zM162.31 70.58h0.5v0.5h-0.5zM162.08 83.67h0.5v0.5h-0.5zM157.27 78.19h0.5v0.5h-0.5zM157.93 83.26h0.5v0.5h-0.5zM169.69 78.61h0.5v0.5h-0.5zM167.41 80.88h0.5v0.5h-0.5zM160.27 77.96h0.5v0.5h-0.5zM156.39 86.56h0.5v0.5h-0.5zM166.78 73.97h0.5v0.5h-0.5zM166.55 75.49h0.5v0.5h-0.5zM152.47 86.1h0.5v0.5h-0.5zM153.82 86.02h0.5v0.5h-0.5zM162.7 84.46h0.5v0.5h-0.5zM164.57 85.85h0.5v0.5h-0.5zM163.59 82.68h0.5v0.5h-0.5zM162.99 85.52h0.5v0.5h-0.5zM159.15 85.09h0.5v0.5h-0.5zM170.54 79.15h0.5v0.5h-0.5zM164.14 76.67h0.5v0.5h-0.5zM159.77 80.93h0.5v0.5h-0.5zM159.45 74.63h0.5v0.5h-0.5zM161.32 80.55h0.5v0.5h-0.5zM163.44 83.41h0.5v0.5h-0.5zM150.86 87.27h0.5v0.5h-0.5zM160.47 75.25h0.5v0.5h-0.5zM159.27 81.93h0.5v0.5h-0.5zM166.72 77.49h0.5v0.5h-0.5zM162.45 70.72h0.5v0.5h-0.5zM162.52 78.88h0.5v0.5h-0.5zM158.91 84.37h0.5v0.5h-0.5zM172.26 85.18h0.5v0.5h-0.5zM156.81 87.9h0.5v0.5h-0.5zM159.5 79.28h0.5v0.5h-0.5zM158.02 82.01h0.5v0.5h-0.5zM164.82 80.3h0.5v0.5h-0.5zM160.24 78.71h0.5v0.5h-0.5zM159.1 84.84h0.5v0.5h-0.5zM158.38 78.69h0.5v0.5h-0.5zM160.25 75.39h0.5v0.5h-0.5zM160.14 71.45h0.5v0.5h-0.5zM163.95 82.47h0.5v0.5h-0.5zM159.7 88.03h0.5v0.5h-0.5zM156.59 82.55h0.5v0.5h-0.5zM164.36 76.56h0.5v0.5h-0.5zM160.06 84.38h0.5v0.5h-0.5zM161.87 81.05h0.5v0.5h-0.5zM169.87 80.69h0.5v0.5h-0.5zM151.51 75.47h0.5v0.5h-0.5zM166.49 78.79h0.5v0.5h-0.5zM163.43 87.72h0.5v0.5h-0.5zM164.47 76.54h0.5v0.5h-0.5zM159.75 77.73h0.5v0.5h-0.5zM156.12 81.91h0.5v0.5h-0.5zM166.98 81.49h0.5v0.5h-0.5zM158.18 85.19h0.5v0.5h-0.5zM160.84 82.68h0.5v0.5h-0.5zM155.93 83.09h0.5v0.5h-0.5zM165.94 86.55h0.5v0.5h-0.5zM161.67 81.93h0.5v0.5h-0.5zM158.07 84.33h0.5v0.5h-0.5zM166.13 85.4h0.5v0.5h-0.5zM159.21 72.84h0.5v0.5h-0.5zM161.1 78.37h0.5v0.5h-0.5zM157.07 82.8h0.5v0.5h-0.5zM167.14 81.66h0.5v0.5h-0.5zM168.11 81.67h0.5v0.5h-0.5zM155.71 76.32h0.5v0.5h-0.5zM159.4 83.24h0.5v0.5h-0.5zM166.98 80.25h0.5v0.5h-0.5zM167.53 75.03h0.5v0.5h-0.5zM160.83 87.65h0.5v0.5h-0.5zM164.14 85.2h0.5v0.5h-0.5zM150.32 70.44h0.5v0.5h-0.5zM156.39 84.98h0.5v0.5h-0.5zM171.14 76.15h0.5v0.5h-0.5zM155.68 74h0.5v0.5h-0.5zM156.23 82.53h0.5v0.5h-0.5zM159.65 89.71h0.5v0.5h-0.5zM165.78 75.8h0.5v0.5h-0.5zM162.91 78.68h0.5v0.5h-0.5zM166.19 84.43h0.5v0.5h-0.5zM159.46 84.35h0.5v0.5h-0.5zM164.88 79.05h0.5v0.5h-0.5zM163.03 83.21h0.5v0.5h-0.5zM159.64 75.86h0.5v0.5h-0.5zM169.02 79.54h0.5v0.5h-0.5zM158.01 82.02h0.5v0.5h-0.5zM152.81 79.82h0.5v0.5h-0.5zM153.48 77.21h0.5v0.5h-0.5zM151 75.64h0.5v0.5h-0.5zM166.8 78.54h0.5v0.5h-0.5zM154.36 88.92h0.5v0.5h-0.5zM157.81 87.54h0.5v0.5h-0.5zM158.43 71.61h0.5v0.5h-0.5zM172.4 77.19h0.5v0.5h-0.5zM166.01 85.96h0.5v0.5h-0.5zM153.78 79.92h0.5v0.5h-0.5zM158.14 82.8h0.5v0.5h-0.5zM161.45 72.7h0.5v0.5h-0.5zM161.87 83.65h0.5v0.5h-0.5zM159.8 82.57h0.5v0.5h-0.5zM158.4 79.25h0.5v0.5h-0.5zM163.59 80.3h0.5v0.5h-0.5zM169 84.65h0.5v0.5h-0.5zM166.49 83.42h0.5v0.5h-0.5zM162.45 73.26h0.5v0.5h-0.5zM167.78 88.91h0.5v0.5h-0.5zM162.86 78.17h0.5v0.5h-0.5zM161.33 86.04h0.5v0.5h-0.5zM163.22 74.24h0.5v0.5h-0.5zM160.53 75.41h0.5v0.5h-0.5zM160.36 74.72h0.5v0.5h-0.5zM156.41 87.52h0.5v0.5h-0.5zM167.7 70.87h0.5v0.5h-0.5zM155.79 77.14h0.5v0.5h-0.5zM159.26 72.1h0.5v0.5h-0.5zM166.76 70.87h0.5v0.5h-0.5zM165.62 83.29h0.5v0.5h-0.5zM159.39 76.01h0.5v0.5h-0.5zM161.9 80.34h0.5v0.5h-0.5zM149.24 72.8h0.5v0.5h-0.5zM164.66 78.96h0.5v0.5h-0.5zM159.11 74.2h0.5v0.5h-0.5zM157.41 75.43h0.5v0.5h-0.5zM170.54 82.12h0.5v0.5h-0.5zM162.8 80.6h0.5v0.5h-0.5zM159.32 88.19h0.5v0.5h-0.5zM164.53 79.39h0.5v0.5h-0.5zM160.83 80.62h0.5v0.5h-0.5zM154.85 77.83h0.5v0.5h-0.5zM157.89 82.88h0.5v0.5h-0.5zM165.07 69.52h0.5v0.5h-0.5zM160.24 84.86h0.5v0.5h-0.5zM153.95 73.19h0.5v0.5h-0.5zM167.42 78.85h0.5v0.5h-0.5z" fill="#9a9a9a" opacity="0.9"/>
<path d="M156.11 93.96h0.6v0.6h-0.6zM161.57 95.89h0.6v0.6h-0.6zM161.94 98.77h0.6v0.6h-0.6zM166.26 96.57h0.6v0.6h-0.6zM155.45 97.61h0.6v0.6h-0.6zM159.21 98.03h0.6v0.6h-0.6zM155.41 96.83h0.6v0.6h-0.6zM154.92 95.8h0.6v0.6h-0.6zM161.45 100.91h0.6v0.6h-0.6zM155.36 99.24h0.6v0.6h-0.6zM163.11 97.85h0.6v0.6h-0.6zM166.05 95.89h0.6v0.6h-0.6zM165.03 98.4h0.6v0.6h-0.6zM129.35 98.57h0.6v0.6h-0.6zM165.35 103.26h0.6v0.6h-0.6zM150.73 97.81h0.6v0.6h-0.6zM163.17 94.68h0.6v0.6h-0.6zM170.64 98.84h0.6v0.6h-0.6zM153.06 94.01h0.6v0.6h-0.6zM156.39 104.49h0.6v0.6h-0.6zM179.08 90.25h0.6v0.6h-0.6zM144.03 99.49h0.6v0.6h-0.6zM159.12 95.66h0.6v0.6h-0.6zM165.4 97.81h0.6v0.6h-0.6zM162.6 98.3h0.6v0.6h-0.6zM150.48 101.39h0.6v0.6h-0.6zM156.02 100.85h0.6v0.6h-0.6zM166.17 97.64h0.6v0.6h-0.6zM161.3 97.39h0.6v0.6h-0.6zM143.83 96.57h0.6v0.6h-0.6zM163.85 92.78h0.6v0.6h-0.6zM146.92 100.7h0.6v0.6h-0.6zM167.21 92.97h0.6v0.6h-0.6zM164.13 97.38h0.6v0.6h-0.6zM168.69 96.57h0.6v0.6h-0.6zM158.1 95.31h0.6v0.6h-0.6zM161.65 97.15h0.6v0.6h-0.6zM154.28 96.5h0.6v0.6h-0.6zM153.4 99.36h0.6v0.6h-0.6zM150.94 92.93h0.6v0.6h-0.6zM151.53 100.71h0.6v0.6h-0.6zM155.57 99.43h0.6v0.6h-0.6zM166.56 96.02h0.6v0.6h-0.6zM166.75 99.01h0.6v0.6h-0.6zM159.67 95.44h0.6v0.6h-0.6zM159.52 93.73h0.6v0.6h-0.6zM157.61 95.8h0.6v0.6h-0.6zM163.93 98.53h0.6v0.6h-0.6zM154.37 100.07h0.6v0.6h-0.6zM170.62 97.71h0.6v0.6h-0.6zM153.49 99.01h0.6v0.6h-0.6zM138.4 95.79h0.6v0.6h-0.6zM165.21 103.43h0.6v0.6h-0.6zM153.5 102.03h0.6v0.6h-0.6zM180.7 103.09h0.6v0.6h-0.6zM139.11 100.77h0.6v0.6h-0.6zM161.75 100.52h0.6v0.6h-0.6zM158.46 95.69h0.6v0.6h-0.6zM158.02 101.96h0.6v0.6h-0.6zM167.51 96.65h0.6v0.6h-0.6z" fill="#a0a0a0" opacity="0.9"/>
<g filter="url(#fb)">
<ellipse cx="161.3" cy="82" rx="8" ry="10" fill="none" stroke="#c4c4c4" stroke-width="0.45" opacity="1"/>
<ellipse cx="161.3" cy="81.2" rx="5.6" ry="8.6" fill="none" stroke="#aaa" stroke-width="0.45" opacity="1"/>
<ellipse cx="161.2" cy="80.6" rx="3.1" ry="6.6" fill="#f6f6f6" stroke="#555" stroke-width="0.6" opacity="1"/>
<ellipse cx="161.5" cy="97.5" rx="11.3" ry="3.6" fill="#d2d2d2" stroke="#555" stroke-width="0.5" opacity="1"/>
<ellipse cx="163" cy="97.9" rx="8.6" ry="3" fill="#8a8a8a" stroke="#555" stroke-width="0.4" opacity="1"/>
<ellipse cx="163.3" cy="98" rx="6.6" ry="2.1" fill="#303030" stroke="none" stroke-width="0.5" opacity="1"/>
<ellipse cx="138.5" cy="98.6" rx="2.1" ry="1.1" fill="none" stroke="#555" stroke-width="0.6" opacity="1"/>
</g>
<line x1="141" y1="98.4" x2="150" y2="98.2" stroke="#999" stroke-width="0.5" stroke-dasharray="0.8 0.8"/>
<rect x="147.5" y="68.5" width="28" height="22.5" fill="none" stroke="#555" stroke-width="0.7"/>
<rect x="147.5" y="91" width="28" height="16.5" fill="none" stroke="#555" stroke-width="0.7"/>
<line x1="147.1" y1="91" x2="175.7" y2="91" stroke="#777" stroke-width="1.6" />
<line x1="179.2" y1="76.4" x2="195.12" y2="60.12" stroke="#222" stroke-width="0.9" />
<polygon points="196.8,58.4 195.29,62.52 192.72,60" fill="#222"/>
<line x1="178.1" y1="100.3" x2="194.52" y2="113.31" stroke="#222" stroke-width="0.9" />
<polygon points="196.4,114.8 192.15,113.73 194.38,110.91" fill="#222"/>
<text x="105.5" y="96.2" font-size="8.4" text-anchor="middle" dominant-baseline="central" fill="#2a2a2a" textLength="16.2" lengthAdjust="spacingAndGlyphs" transform="rotate(-90 105.5 96.2)" style="stroke-width:0.16px">KLRG1</text>
<polyline points="103.5,110 103.5,130.4 125,130.4" stroke="#333" stroke-width="0.9" fill="none" />
<line x1="103.5" y1="112" x2="103.5" y2="109.5" stroke="#222" stroke-width="0.9" />
<polygon points="103.5,107.1 101.7,111.1 105.3,111.1" fill="#222"/>
<line x1="120" y1="130.4" x2="126.9" y2="130.4" stroke="#222" stroke-width="0.9" />
<polygon points="129.3,130.4 125.3,128.6 125.3,132.2" fill="#222"/>
<text x="133.9" y="130.1" font-size="8.4" text-anchor="start" dominant-baseline="central" fill="#2a2a2a" textLength="12.2" lengthAdjust="spacingAndGlyphs" style="stroke-width:0.16px">PD-1</text>
<rect x="219.5" y="7.5" width="58" height="58" fill="none" stroke="#2a2a2a" stroke-width="1"/>
<line x1="218.1" y1="27.2" x2="219.5" y2="27.2" stroke="#444" stroke-width="0.6" />
<text x="214.2" y="27.6" font-size="4.8" text-anchor="end" dominant-baseline="central" fill="#333" style="stroke-width:0.06px">10<tspan font-size="3.46" dy="-2.64">5</tspan></text>
<line x1="218.1" y1="35.2" x2="219.5" y2="35.2" stroke="#444" stroke-width="0.6" />
<text x="214.2" y="35.6" font-size="4.8" text-anchor="end" dominant-baseline="central" fill="#333" style="stroke-width:0.06px">10<tspan font-size="3.46" dy="-2.64">4</tspan></text>
<line x1="218.1" y1="43.4" x2="219.5" y2="43.4" stroke="#444" stroke-width="0.6" />
<text x="214.2" y="43.8" font-size="4.8" text-anchor="end" dominant-baseline="central" fill="#333" style="stroke-width:0.06px">10<tspan font-size="3.46" dy="-2.64">3</tspan></text>
<line x1="218.1" y1="51.4" x2="219.5" y2="51.4" stroke="#444" stroke-width="0.6" />
<rect x="218.6" y="50.2" width="1.5" height="2.4" fill="#111" stroke="none" stroke-width="0"/>
<text x="214.2" y="51.4" font-size="4.8" text-anchor="end" dominant-baseline="central" fill="#333" style="stroke-width:0.06px">0</text>
<line x1="218.1" y1="62.6" x2="219.5" y2="62.6" stroke="#444" stroke-width="0.6" />
<text x="214.2" y="63" font-size="4.8" text-anchor="end" dominant-baseline="central" fill="#333" style="stroke-width:0.06px">-10<tspan font-size="3.46" dy="-2.64">3</tspan></text>
<line x1="222" y1="65.25" x2="222" y2="66.65" stroke="#444" stroke-width="0.6" />
<text x="222" y="73" font-size="4.8" text-anchor="middle" dominant-baseline="central" fill="#333" style="stroke-width:0.06px">-10<tspan font-size="3.46" dy="-2.64">3</tspan></text>
<line x1="232" y1="65.25" x2="232" y2="66.65" stroke="#444" stroke-width="0.6" />
<rect x="230.8" y="64.65" width="2.4" height="1.5" fill="#111" stroke="none" stroke-width="0"/>
<text x="232" y="72.6" font-size="4.8" text-anchor="middle" dominant-baseline="central" fill="#333" style="stroke-width:0.06px">0</text>
<line x1="241" y1="65.25" x2="241" y2="66.65" stroke="#444" stroke-width="0.6" />
<text x="241" y="73" font-size="4.8" text-anchor="middle" dominant-baseline="central" fill="#333" style="stroke-width:0.06px">10<tspan font-size="3.46" dy="-2.64">3</tspan></text>
<line x1="257.5" y1="65.25" x2="257.5" y2="66.65" stroke="#444" stroke-width="0.6" />
<text x="257.5" y="73" font-size="4.8" text-anchor="middle" dominant-baseline="central" fill="#333" style="stroke-width:0.06px">10<tspan font-size="3.46" dy="-2.64">4</tspan></text>
<line x1="270.8" y1="65.25" x2="270.8" y2="66.65" stroke="#444" stroke-width="0.6" />
<text x="270.8" y="73" font-size="4.8" text-anchor="middle" dominant-baseline="central" fill="#333" style="stroke-width:0.06px">10<tspan font-size="3.46" dy="-2.64">5</tspan></text>
<path d="M251.82 41.44h0.6v0.6h-0.6zM253.65 34.72h0.6v0.6h-0.6zM241.54 29.52h0.6v0.6h-0.6zM243.73 30.93h0.6v0.6h-0.6zM232.43 24.54h0.6v0.6h-0.6zM256.72 26.71h0.6v0.6h-0.6zM235.05 34.7h0.6v0.6h-0.6zM262.37 44.4h0.6v0.6h-0.6zM243.94 27.34h0.6v0.6h-0.6zM242.72 28.26h0.6v0.6h-0.6zM242.59 38.6h0.6v0.6h-0.6zM237.48 29.22h0.6v0.6h-0.6zM245.45 34.82h0.6v0.6h-0.6zM240.42 29.15h0.6v0.6h-0.6zM236.81 29.42h0.6v0.6h-0.6zM253.22 33.21h0.6v0.6h-0.6zM247.35 28.52h0.6v0.6h-0.6zM245.49 12.46h0.6v0.6h-0.6zM231.58 43.7h0.6v0.6h-0.6zM269.25 51.28h0.6v0.6h-0.6zM240.71 35.31h0.6v0.6h-0.6zM255.77 25.84h0.6v0.6h-0.6zM265.38 29.62h0.6v0.6h-0.6zM251.53 26.42h0.6v0.6h-0.6zM251.66 34.89h0.6v0.6h-0.6zM258.8 26.38h0.6v0.6h-0.6zM247.92 48.61h0.6v0.6h-0.6zM236.11 37.65h0.6v0.6h-0.6zM252.39 31.3h0.6v0.6h-0.6zM245.34 45.59h0.6v0.6h-0.6zM259.39 39.26h0.6v0.6h-0.6zM250.69 26.52h0.6v0.6h-0.6zM248.92 48.44h0.6v0.6h-0.6zM258.52 24.83h0.6v0.6h-0.6zM227.3 30.03h0.6v0.6h-0.6zM249.66 30.88h0.6v0.6h-0.6zM244.94 37.57h0.6v0.6h-0.6zM256.97 36.58h0.6v0.6h-0.6zM260.52 24.33h0.6v0.6h-0.6zM252.69 38.19h0.6v0.6h-0.6zM233.12 44.4h0.6v0.6h-0.6zM232.03 24.16h0.6v0.6h-0.6zM274.72 44.72h0.6v0.6h-0.6zM251.78 45.18h0.6v0.6h-0.6zM259.52 26.53h0.6v0.6h-0.6zM252.85 45.53h0.6v0.6h-0.6zM246.4 35.56h0.6v0.6h-0.6zM243.36 40.52h0.6v0.6h-0.6zM242.46 30.59h0.6v0.6h-0.6zM235.71 28.03h0.6v0.6h-0.6zM250.21 38.56h0.6v0.6h-0.6zM244.12 27.11h0.6v0.6h-0.6zM251.42 37.7h0.6v0.6h-0.6zM260.79 31.27h0.6v0.6h-0.6zM243.87 38.87h0.6v0.6h-0.6zM263.33 34.63h0.6v0.6h-0.6zM247.18 27.94h0.6v0.6h-0.6zM244.21 42.14h0.6v0.6h-0.6zM256.57 43.42h0.6v0.6h-0.6zM231.51 41.33h0.6v0.6h-0.6zM238.71 39.48h0.6v0.6h-0.6zM224.18 34.27h0.6v0.6h-0.6zM239.12 44.62h0.6v0.6h-0.6zM249.23 44.83h0.6v0.6h-0.6zM243.59 49.86h0.6v0.6h-0.6zM243.54 49.34h0.6v0.6h-0.6zM243.1 27.6h0.6v0.6h-0.6zM257.06 31.99h0.6v0.6h-0.6zM247.43 24.84h0.6v0.6h-0.6zM244.55 35.87h0.6v0.6h-0.6zM240.9 37.97h0.6v0.6h-0.6zM224.83 41.77h0.6v0.6h-0.6zM243.89 46.14h0.6v0.6h-0.6zM244.48 30.04h0.6v0.6h-0.6zM243.48 37.11h0.6v0.6h-0.6zM254.03 31.51h0.6v0.6h-0.6zM239.97 38.28h0.6v0.6h-0.6zM256.35 21.8h0.6v0.6h-0.6zM237.42 29.91h0.6v0.6h-0.6zM265.28 44.34h0.6v0.6h-0.6zM256.08 38.76h0.6v0.6h-0.6zM236.71 43.53h0.6v0.6h-0.6zM243.54 28.98h0.6v0.6h-0.6zM267.59 24.03h0.6v0.6h-0.6zM262.01 36.54h0.6v0.6h-0.6zM238.7 36.37h0.6v0.6h-0.6zM239.5 36.43h0.6v0.6h-0.6zM241.49 26.01h0.6v0.6h-0.6zM274.91 31.2h0.6v0.6h-0.6zM258.02 34.65h0.6v0.6h-0.6zM254.87 25.43h0.6v0.6h-0.6zM237.47 10.15h0.6v0.6h-0.6zM258.18 38.39h0.6v0.6h-0.6zM236.11 41.37h0.6v0.6h-0.6zM254.03 57.25h0.6v0.6h-0.6zM250.42 41.98h0.6v0.6h-0.6zM254.24 40.88h0.6v0.6h-0.6zM247.79 31.87h0.6v0.6h-0.6zM255.22 44.4h0.6v0.6h-0.6zM236.21 26.38h0.6v0.6h-0.6zM247.61 48.69h0.6v0.6h-0.6zM245.93 22.12h0.6v0.6h-0.6zM256.21 40.76h0.6v0.6h-0.6zM267.72 36.47h0.6v0.6h-0.6zM267.99 29.55h0.6v0.6h-0.6zM257.19 36.06h0.6v0.6h-0.6zM235.96 32.93h0.6v0.6h-0.6zM261.51 43.51h0.6v0.6h-0.6zM244.21 43.46h0.6v0.6h-0.6zM257.18 41.85h0.6v0.6h-0.6zM250.95 37.35h0.6v0.6h-0.6zM239.68 34.52h0.6v0.6h-0.6zM249.29 29.44h0.6v0.6h-0.6zM245.14 36.29h0.6v0.6h-0.6zM250.21 43.05h0.6v0.6h-0.6zM237.64 32.03h0.6v0.6h-0.6zM250.78 32.16h0.6v0.6h-0.6zM251.41 31.48h0.6v0.6h-0.6zM259.99 33.3h0.6v0.6h-0.6zM236.55 40.72h0.6v0.6h-0.6zM264.89 20.42h0.6v0.6h-0.6zM246.74 35.57h0.6v0.6h-0.6zM258.5 46.4h0.6v0.6h-0.6zM246.46 23.21h0.6v0.6h-0.6zM254.82 42.68h0.6v0.6h-0.6zM252.76 35.65h0.6v0.6h-0.6zM239.84 53.54h0.6v0.6h-0.6zM235.92 23.61h0.6v0.6h-0.6zM257.94 37.22h0.6v0.6h-0.6zM254.85 37.76h0.6v0.6h-0.6zM265.11 45.86h0.6v0.6h-0.6zM242.5 42.65h0.6v0.6h-0.6zM236.16 22.11h0.6v0.6h-0.6zM260.23 31.79h0.6v0.6h-0.6zM226.36 34.9h0.6v0.6h-0.6zM241.35 38.89h0.6v0.6h-0.6zM247.48 29.22h0.6v0.6h-0.6zM240.85 40.86h0.6v0.6h-0.6zM238.68 36.02h0.6v0.6h-0.6zM238.08 38.47h0.6v0.6h-0.6zM266.09 39.37h0.6v0.6h-0.6zM259.34 38.48h0.6v0.6h-0.6zM238.34 32.77h0.6v0.6h-0.6zM248.78 38.38h0.6v0.6h-0.6zM241.98 39.7h0.6v0.6h-0.6zM240.8 35.54h0.6v0.6h-0.6zM247.96 26.33h0.6v0.6h-0.6zM258.2 35.43h0.6v0.6h-0.6zM249.17 34.81h0.6v0.6h-0.6zM226.8 24.43h0.6v0.6h-0.6zM239.03 42.57h0.6v0.6h-0.6zM242.25 39.66h0.6v0.6h-0.6zM237.68 28.66h0.6v0.6h-0.6zM243.33 43.07h0.6v0.6h-0.6zM231.34 33.72h0.6v0.6h-0.6zM252.17 36.08h0.6v0.6h-0.6zM247.9 40.95h0.6v0.6h-0.6zM250.98 27.43h0.6v0.6h-0.6zM254.47 29.14h0.6v0.6h-0.6zM244.64 46.04h0.6v0.6h-0.6zM272.73 46.04h0.6v0.6h-0.6zM252.37 29.17h0.6v0.6h-0.6zM240.4 47.65h0.6v0.6h-0.6zM251.42 24.56h0.6v0.6h-0.6zM263.92 39.45h0.6v0.6h-0.6zM261.37 38.12h0.6v0.6h-0.6zM226.32 29.48h0.6v0.6h-0.6zM246.63 33.78h0.6v0.6h-0.6zM263.31 29.97h0.6v0.6h-0.6zM247.07 34.62h0.6v0.6h-0.6zM247.14 27.22h0.6v0.6h-0.6zM235.73 15.55h0.6v0.6h-0.6zM251.42 33.52h0.6v0.6h-0.6zM250.11 27.07h0.6v0.6h-0.6zM248.1 27.69h0.6v0.6h-0.6zM237.86 37.6h0.6v0.6h-0.6zM254.48 39.45h0.6v0.6h-0.6zM247.63 32.13h0.6v0.6h-0.6zM262.15 44.46h0.6v0.6h-0.6zM241.67 26.83h0.6v0.6h-0.6zM251.8 37.46h0.6v0.6h-0.6zM238.86 52.29h0.6v0.6h-0.6zM226.99 28.74h0.6v0.6h-0.6zM250.5 42.53h0.6v0.6h-0.6zM229.38 31.76h0.6v0.6h-0.6zM262.53 45.68h0.6v0.6h-0.6zM245.51 35.33h0.6v0.6h-0.6zM239.14 38.03h0.6v0.6h-0.6zM237.5 19.69h0.6v0.6h-0.6zM232.72 35.46h0.6v0.6h-0.6zM234.76 43.43h0.6v0.6h-0.6zM261 42.58h0.6v0.6h-0.6zM254.65 43.62h0.6v0.6h-0.6zM250.73 41.6h0.6v0.6h-0.6zM252.78 40.96h0.6v0.6h-0.6zM237.83 30.06h0.6v0.6h-0.6zM238.01 41.32h0.6v0.6h-0.6zM253.16 29.09h0.6v0.6h-0.6zM238.11 30.69h0.6v0.6h-0.6z" fill="#a0a0a0" opacity="0.9"/>
<path d="M242.43 34.35h0.55v0.55h-0.55zM236.82 30.86h0.55v0.55h-0.55zM237.43 44.69h0.55v0.55h-0.55zM234.57 32.9h0.55v0.55h-0.55zM246.58 39.39h0.55v0.55h-0.55zM232.3 41.63h0.55v0.55h-0.55zM231.68 38.41h0.55v0.55h-0.55zM225.31 29.02h0.55v0.55h-0.55zM242.65 31.44h0.55v0.55h-0.55zM234.39 35.36h0.55v0.55h-0.55zM238.05 32.21h0.55v0.55h-0.55zM234.63 45.91h0.55v0.55h-0.55zM245.56 37.03h0.55v0.55h-0.55zM232.24 31.85h0.55v0.55h-0.55zM236.57 37.98h0.55v0.55h-0.55zM246.1 31.9h0.55v0.55h-0.55zM238.78 32.44h0.55v0.55h-0.55zM238.75 30.88h0.55v0.55h-0.55zM239.94 42.05h0.55v0.55h-0.55zM236.04 33.06h0.55v0.55h-0.55zM238.62 27.1h0.55v0.55h-0.55zM247.16 26.95h0.55v0.55h-0.55zM236.23 29.7h0.55v0.55h-0.55zM245.59 32.11h0.55v0.55h-0.55zM235.49 46.46h0.55v0.55h-0.55zM237.43 30.34h0.55v0.55h-0.55zM238.01 36.22h0.55v0.55h-0.55zM234.28 33.94h0.55v0.55h-0.55zM236.98 39.41h0.55v0.55h-0.55zM241.9 40.08h0.55v0.55h-0.55zM237.42 39.87h0.55v0.55h-0.55zM236.97 42.05h0.55v0.55h-0.55zM240.07 32.48h0.55v0.55h-0.55zM244.24 25.9h0.55v0.55h-0.55zM233.16 30.23h0.55v0.55h-0.55zM237.38 27.62h0.55v0.55h-0.55zM231.99 23.64h0.55v0.55h-0.55zM238.61 30.4h0.55v0.55h-0.55zM249.07 39.72h0.55v0.55h-0.55zM232.28 43.02h0.55v0.55h-0.55zM238.57 41.55h0.55v0.55h-0.55zM232.45 42.05h0.55v0.55h-0.55zM243.57 32.53h0.55v0.55h-0.55zM233.76 32.76h0.55v0.55h-0.55zM239.37 49.59h0.55v0.55h-0.55zM247.14 44.1h0.55v0.55h-0.55zM236.94 33.07h0.55v0.55h-0.55zM239.89 33.39h0.55v0.55h-0.55zM235.69 33.79h0.55v0.55h-0.55zM242.29 34.64h0.55v0.55h-0.55zM239.24 33.46h0.55v0.55h-0.55zM237.06 33.05h0.55v0.55h-0.55zM244.39 36.45h0.55v0.55h-0.55zM245.56 34.02h0.55v0.55h-0.55zM243.39 26.7h0.55v0.55h-0.55zM236.01 34.68h0.55v0.55h-0.55zM234.85 34.35h0.55v0.55h-0.55zM233.39 34.06h0.55v0.55h-0.55zM234.68 35.03h0.55v0.55h-0.55zM236.55 29.01h0.55v0.55h-0.55zM235.98 35.22h0.55v0.55h-0.55zM231.64 35.63h0.55v0.55h-0.55zM244.32 33.68h0.55v0.55h-0.55zM240.8 38.8h0.55v0.55h-0.55zM234.01 43.02h0.55v0.55h-0.55zM250.66 28.86h0.55v0.55h-0.55zM248.83 30.77h0.55v0.55h-0.55zM245.37 24.12h0.55v0.55h-0.55zM243.75 35.88h0.55v0.55h-0.55zM231.59 30.08h0.55v0.55h-0.55zM232.77 29.62h0.55v0.55h-0.55zM239.94 33.96h0.55v0.55h-0.55zM225.43 33.17h0.55v0.55h-0.55zM240.39 35.58h0.55v0.55h-0.55zM246.54 23.96h0.55v0.55h-0.55zM239.26 35.23h0.55v0.55h-0.55zM241.67 26.96h0.55v0.55h-0.55zM231.46 34.02h0.55v0.55h-0.55zM238.42 24.11h0.55v0.55h-0.55zM239.88 35.01h0.55v0.55h-0.55zM241.73 19.29h0.55v0.55h-0.55zM240.56 29.68h0.55v0.55h-0.55zM235.64 39.76h0.55v0.55h-0.55zM246.54 35.97h0.55v0.55h-0.55zM237.49 42.94h0.55v0.55h-0.55zM233.54 34.11h0.55v0.55h-0.55zM235.5 29.11h0.55v0.55h-0.55zM239.01 47.34h0.55v0.55h-0.55zM239.28 38.05h0.55v0.55h-0.55zM237.88 41.85h0.55v0.55h-0.55zM238.94 29.72h0.55v0.55h-0.55zM238.54 43.72h0.55v0.55h-0.55zM237.61 42.28h0.55v0.55h-0.55zM237.68 47.28h0.55v0.55h-0.55zM239.45 39h0.55v0.55h-0.55zM236.58 40.09h0.55v0.55h-0.55zM236.9 26.11h0.55v0.55h-0.55zM239.56 27.76h0.55v0.55h-0.55zM245.48 39.83h0.55v0.55h-0.55zM238.12 39.2h0.55v0.55h-0.55zM225 44.31h0.55v0.55h-0.55zM234.77 39.09h0.55v0.55h-0.55zM250.93 25.29h0.55v0.55h-0.55zM235.95 37.11h0.55v0.55h-0.55zM240.15 24.85h0.55v0.55h-0.55zM233.35 44.02h0.55v0.55h-0.55zM235.01 38.39h0.55v0.55h-0.55zM231.15 29.54h0.55v0.55h-0.55zM228.87 36.67h0.55v0.55h-0.55zM243.86 35.61h0.55v0.55h-0.55zM236.66 36.5h0.55v0.55h-0.55zM240.39 33.29h0.55v0.55h-0.55zM240.83 46.83h0.55v0.55h-0.55zM249.22 31.59h0.55v0.55h-0.55zM231.69 46.62h0.55v0.55h-0.55zM242.98 42.39h0.55v0.55h-0.55zM241.08 33.68h0.55v0.55h-0.55zM242.95 41.8h0.55v0.55h-0.55zM243.96 28.5h0.55v0.55h-0.55zM243.22 32.93h0.55v0.55h-0.55zM236.24 37.18h0.55v0.55h-0.55zM236.3 49.04h0.55v0.55h-0.55zM240.88 36.67h0.55v0.55h-0.55zM237.09 36.56h0.55v0.55h-0.55zM236.89 38.57h0.55v0.55h-0.55zM242.39 40.12h0.55v0.55h-0.55zM231.73 33.05h0.55v0.55h-0.55zM238.47 27.68h0.55v0.55h-0.55zM239.95 34.19h0.55v0.55h-0.55zM238.34 37.36h0.55v0.55h-0.55zM234.92 44.45h0.55v0.55h-0.55zM243.26 31.74h0.55v0.55h-0.55zM240.39 39.54h0.55v0.55h-0.55zM234.2 32.91h0.55v0.55h-0.55zM241.56 19.49h0.55v0.55h-0.55zM231.42 37.04h0.55v0.55h-0.55zM241.17 29.47h0.55v0.55h-0.55zM242.36 48.42h0.55v0.55h-0.55zM239.1 34.82h0.55v0.55h-0.55zM238.4 28.95h0.55v0.55h-0.55zM240.82 36.15h0.55v0.55h-0.55zM241.8 43.67h0.55v0.55h-0.55zM238.24 36.16h0.55v0.55h-0.55zM239.69 45.56h0.55v0.55h-0.55zM230.73 35.05h0.55v0.55h-0.55zM234.9 35.83h0.55v0.55h-0.55zM242.24 35.49h0.55v0.55h-0.55zM241.75 36.2h0.55v0.55h-0.55zM234.47 31.09h0.55v0.55h-0.55zM231.11 36.42h0.55v0.55h-0.55zM236.08 40.14h0.55v0.55h-0.55zM242.92 29.73h0.55v0.55h-0.55zM232.6 38.73h0.55v0.55h-0.55zM233.64 36.33h0.55v0.55h-0.55zM241.12 32.74h0.55v0.55h-0.55zM247.01 30.39h0.55v0.55h-0.55zM240.2 32.59h0.55v0.55h-0.55zM223.58 34.04h0.55v0.55h-0.55zM237.26 38.57h0.55v0.55h-0.55zM237.39 30.67h0.55v0.55h-0.55z" fill="#a8a8a8" opacity="0.9"/>
<g filter="url(#fb)">
<ellipse cx="249.5" cy="35.2" rx="13.3" ry="11" fill="#d8d8d8" stroke="none" stroke-width="0.5" opacity="1"/>
<ellipse cx="251.5" cy="35" rx="11" ry="10.5" fill="#c4c4c4" stroke="none" stroke-width="0.5" opacity="1"/>
<path d="M238.5 29 Q234.5 36 238.5 42.5" fill="none" stroke="#666" stroke-width="0.5"/>
<ellipse cx="251.3" cy="35.1" rx="9.4" ry="10.1" fill="url(#gring)" stroke="none" stroke-width="0.5" opacity="1"/>
<ellipse cx="250.8" cy="35.8" rx="1.3" ry="1.3" fill="#f4f4f4" stroke="none" stroke-width="0.5" opacity="1"/>
</g>
<rect x="244.5" y="19.5" width="25" height="27" fill="none" stroke="#555" stroke-width="0.7"/>
<text x="202.1" y="45.9" font-size="8.4" text-anchor="middle" dominant-baseline="central" fill="#2a2a2a" textLength="16.4" lengthAdjust="spacingAndGlyphs" transform="rotate(-90 202.1 45.9)" style="stroke-width:0.16px">KLRG1</text>
<polyline points="201.6,64 201.6,80 220,80" stroke="#333" stroke-width="0.9" fill="none" />
<line x1="201.6" y1="66" x2="201.6" y2="62.3" stroke="#222" stroke-width="0.9" />
<polygon points="201.6,59.9 199.8,63.9 203.4,63.9" fill="#222"/>
<line x1="215" y1="80" x2="222.2" y2="80" stroke="#222" stroke-width="0.9" />
<polygon points="224.6,80 220.6,78.2 220.6,81.8" fill="#222"/>
<text x="228.9" y="80.3" font-size="8.4" text-anchor="start" dominant-baseline="central" fill="#2a2a2a" textLength="15" lengthAdjust="spacingAndGlyphs" style="stroke-width:0.16px">CD39</text>
<rect x="221.5" y="86.5" width="57" height="57" fill="none" stroke="#2a2a2a" stroke-width="1"/>
<line x1="219.7" y1="91.4" x2="221.1" y2="91.4" stroke="#444" stroke-width="0.6" />
<text x="216.4" y="91.8" font-size="4.8" text-anchor="end" dominant-baseline="central" fill="#333" style="stroke-width:0.06px">10<tspan font-size="3.46" dy="-2.64">5</tspan></text>
<line x1="219.7" y1="106.4" x2="221.1" y2="106.4" stroke="#444" stroke-width="0.6" />
<text x="216.4" y="106.8" font-size="4.8" text-anchor="end" dominant-baseline="central" fill="#333" style="stroke-width:0.06px">10<tspan font-size="3.46" dy="-2.64">4</tspan></text>
<line x1="219.7" y1="120.8" x2="221.1" y2="120.8" stroke="#444" stroke-width="0.6" />
<text x="216.4" y="121.2" font-size="4.8" text-anchor="end" dominant-baseline="central" fill="#333" style="stroke-width:0.06px">10<tspan font-size="3.46" dy="-2.64">3</tspan></text>
<line x1="219.7" y1="129.9" x2="221.1" y2="129.9" stroke="#444" stroke-width="0.6" />
<rect x="220.2" y="128.7" width="1.5" height="2.4" fill="#111" stroke="none" stroke-width="0"/>
<text x="216.4" y="129.9" font-size="4.8" text-anchor="end" dominant-baseline="central" fill="#333" style="stroke-width:0.06px">0</text>
<line x1="219.7" y1="140.6" x2="221.1" y2="140.6" stroke="#444" stroke-width="0.6" />
<text x="216.4" y="141" font-size="4.8" text-anchor="end" dominant-baseline="central" fill="#333" style="stroke-width:0.06px">-10<tspan font-size="3.46" dy="-2.64">3</tspan></text>
<line x1="223.5" y1="143.25" x2="223.5" y2="144.65" stroke="#444" stroke-width="0.6" />
<text x="223.5" y="151.1" font-size="4.8" text-anchor="middle" dominant-baseline="central" fill="#333" style="stroke-width:0.06px">-10<tspan font-size="3.46" dy="-2.64">3</tspan></text>
<line x1="233.5" y1="143.25" x2="233.5" y2="144.65" stroke="#444" stroke-width="0.6" />
<rect x="232.3" y="142.65" width="2.4" height="1.5" fill="#111" stroke="none" stroke-width="0"/>
<text x="233.5" y="150.7" font-size="4.8" text-anchor="middle" dominant-baseline="central" fill="#333" style="stroke-width:0.06px">0</text>
<line x1="243" y1="143.25" x2="243" y2="144.65" stroke="#444" stroke-width="0.6" />
<text x="243" y="151.1" font-size="4.8" text-anchor="middle" dominant-baseline="central" fill="#333" style="stroke-width:0.06px">10<tspan font-size="3.46" dy="-2.64">3</tspan></text>
<line x1="260" y1="143.25" x2="260" y2="144.65" stroke="#444" stroke-width="0.6" />
<text x="260" y="151.1" font-size="4.8" text-anchor="middle" dominant-baseline="central" fill="#333" style="stroke-width:0.06px">10<tspan font-size="3.46" dy="-2.64">4</tspan></text>
<line x1="272.5" y1="143.25" x2="272.5" y2="144.65" stroke="#444" stroke-width="0.6" />
<text x="272.5" y="151.1" font-size="4.8" text-anchor="middle" dominant-baseline="central" fill="#333" style="stroke-width:0.06px">10<tspan font-size="3.46" dy="-2.64">5</tspan></text>
<path d="M245.2 117.47h0.6v0.6h-0.6zM254.8 117.82h0.6v0.6h-0.6zM258.38 131.47h0.6v0.6h-0.6zM243.5 133.59h0.6v0.6h-0.6zM232.04 121.47h0.6v0.6h-0.6zM241.71 119.96h0.6v0.6h-0.6zM257.79 121.15h0.6v0.6h-0.6zM247.83 136.57h0.6v0.6h-0.6zM243.35 111.15h0.6v0.6h-0.6zM256.43 128.54h0.6v0.6h-0.6zM238.33 122.96h0.6v0.6h-0.6zM254.97 119.18h0.6v0.6h-0.6zM246.05 122.78h0.6v0.6h-0.6zM250.69 112.66h0.6v0.6h-0.6zM255.39 102.13h0.6v0.6h-0.6zM241.1 120.69h0.6v0.6h-0.6zM231.96 111.15h0.6v0.6h-0.6zM240.41 121.88h0.6v0.6h-0.6zM242.13 120.79h0.6v0.6h-0.6zM250.72 128.89h0.6v0.6h-0.6zM255.82 102.31h0.6v0.6h-0.6zM265.59 117.42h0.6v0.6h-0.6zM243.69 101.31h0.6v0.6h-0.6zM245.74 99.77h0.6v0.6h-0.6zM250.48 113.91h0.6v0.6h-0.6zM251.52 111.63h0.6v0.6h-0.6zM257.89 123.06h0.6v0.6h-0.6zM241.66 138.72h0.6v0.6h-0.6zM236.32 104.11h0.6v0.6h-0.6zM258.83 113.9h0.6v0.6h-0.6zM259.22 128.02h0.6v0.6h-0.6zM253.47 113.52h0.6v0.6h-0.6zM253.52 138h0.6v0.6h-0.6zM246.22 116.67h0.6v0.6h-0.6zM248.62 116.88h0.6v0.6h-0.6zM257.65 105.83h0.6v0.6h-0.6zM252.36 97.19h0.6v0.6h-0.6zM232.69 108.89h0.6v0.6h-0.6zM243.4 110.29h0.6v0.6h-0.6zM243.76 128.44h0.6v0.6h-0.6zM253.4 122.02h0.6v0.6h-0.6zM250.53 112.71h0.6v0.6h-0.6zM241.62 103.95h0.6v0.6h-0.6zM245.91 107.42h0.6v0.6h-0.6zM246.59 129.77h0.6v0.6h-0.6zM253.16 137.01h0.6v0.6h-0.6zM242.02 94.61h0.6v0.6h-0.6zM254.28 115.75h0.6v0.6h-0.6zM258.95 116.05h0.6v0.6h-0.6zM261.58 116.17h0.6v0.6h-0.6zM245.97 129.41h0.6v0.6h-0.6zM240.41 119.04h0.6v0.6h-0.6zM263.57 126.27h0.6v0.6h-0.6zM240.72 118h0.6v0.6h-0.6zM248.81 111.91h0.6v0.6h-0.6zM252.1 136.03h0.6v0.6h-0.6zM249.36 131.67h0.6v0.6h-0.6zM251.22 122.67h0.6v0.6h-0.6zM243.36 132.58h0.6v0.6h-0.6zM259.17 115.59h0.6v0.6h-0.6zM242.42 127.28h0.6v0.6h-0.6zM249.78 134.54h0.6v0.6h-0.6zM252.7 119.44h0.6v0.6h-0.6zM238.59 128.46h0.6v0.6h-0.6zM249.74 105.77h0.6v0.6h-0.6zM237.81 99.04h0.6v0.6h-0.6zM253.67 115.75h0.6v0.6h-0.6zM224.04 110.42h0.6v0.6h-0.6zM244.21 119.65h0.6v0.6h-0.6zM249.26 116.91h0.6v0.6h-0.6zM254.57 133.31h0.6v0.6h-0.6zM247.31 139.95h0.6v0.6h-0.6zM248.04 110.59h0.6v0.6h-0.6zM250.15 103.76h0.6v0.6h-0.6zM246.74 108.25h0.6v0.6h-0.6zM245.76 123.35h0.6v0.6h-0.6zM230.58 125.7h0.6v0.6h-0.6zM250.95 118.37h0.6v0.6h-0.6zM254.36 125.1h0.6v0.6h-0.6zM246.25 108.9h0.6v0.6h-0.6zM254.48 130.09h0.6v0.6h-0.6zM237.9 112.21h0.6v0.6h-0.6zM240.09 130.95h0.6v0.6h-0.6zM244.66 105.93h0.6v0.6h-0.6zM260.31 126.43h0.6v0.6h-0.6zM250.74 123.91h0.6v0.6h-0.6zM247.64 121.36h0.6v0.6h-0.6zM255.7 126.28h0.6v0.6h-0.6zM245.53 122.11h0.6v0.6h-0.6zM263.05 114.27h0.6v0.6h-0.6zM239.05 122.34h0.6v0.6h-0.6zM253.66 127.99h0.6v0.6h-0.6zM241.3 120.32h0.6v0.6h-0.6zM236.4 135.88h0.6v0.6h-0.6zM248.38 142.22h0.6v0.6h-0.6zM246.87 108.36h0.6v0.6h-0.6zM243.65 130.6h0.6v0.6h-0.6zM242.75 124.04h0.6v0.6h-0.6zM243.5 112.33h0.6v0.6h-0.6zM244.73 140.49h0.6v0.6h-0.6zM240.84 124.78h0.6v0.6h-0.6zM255 111.93h0.6v0.6h-0.6zM237.6 139.02h0.6v0.6h-0.6zM262.02 117.89h0.6v0.6h-0.6zM239.89 131.39h0.6v0.6h-0.6zM248.64 110.96h0.6v0.6h-0.6zM246.02 92.04h0.6v0.6h-0.6zM242.78 106.2h0.6v0.6h-0.6zM238.98 127.93h0.6v0.6h-0.6zM250.93 141.35h0.6v0.6h-0.6zM228.66 112.83h0.6v0.6h-0.6zM242.56 136.87h0.6v0.6h-0.6zM256.74 122.31h0.6v0.6h-0.6zM249.6 111.75h0.6v0.6h-0.6zM244.99 115.45h0.6v0.6h-0.6zM258.23 126.82h0.6v0.6h-0.6zM255.19 100.39h0.6v0.6h-0.6zM241.23 131.12h0.6v0.6h-0.6zM246.01 101.25h0.6v0.6h-0.6zM248.79 105.22h0.6v0.6h-0.6zM248.88 139.76h0.6v0.6h-0.6zM240.29 115.35h0.6v0.6h-0.6zM253.05 120.47h0.6v0.6h-0.6zM250.27 110.56h0.6v0.6h-0.6zM246.31 91.91h0.6v0.6h-0.6zM247.52 136.35h0.6v0.6h-0.6zM240.37 118.52h0.6v0.6h-0.6zM254.23 135.58h0.6v0.6h-0.6zM257.68 110.01h0.6v0.6h-0.6zM245.69 142.08h0.6v0.6h-0.6zM245.32 124.24h0.6v0.6h-0.6zM242.44 112.77h0.6v0.6h-0.6zM226.34 114.13h0.6v0.6h-0.6zM232.16 108.44h0.6v0.6h-0.6zM241.4 137.18h0.6v0.6h-0.6zM254.64 125.62h0.6v0.6h-0.6zM244.9 103.84h0.6v0.6h-0.6zM252.47 110.66h0.6v0.6h-0.6zM247.95 132.18h0.6v0.6h-0.6zM247.39 120.38h0.6v0.6h-0.6zM241.26 133.45h0.6v0.6h-0.6zM252.85 129.33h0.6v0.6h-0.6zM261.16 100.95h0.6v0.6h-0.6zM249.01 128.51h0.6v0.6h-0.6zM251.35 124.42h0.6v0.6h-0.6zM252.36 102.08h0.6v0.6h-0.6zM248.21 134.85h0.6v0.6h-0.6zM248.4 118.3h0.6v0.6h-0.6zM255.23 99.42h0.6v0.6h-0.6zM251.82 139.16h0.6v0.6h-0.6zM246.87 110.67h0.6v0.6h-0.6zM252.8 115.17h0.6v0.6h-0.6zM242.58 122.7h0.6v0.6h-0.6zM236.19 128.84h0.6v0.6h-0.6zM239.7 114h0.6v0.6h-0.6zM254.32 120.3h0.6v0.6h-0.6zM250.78 137.44h0.6v0.6h-0.6zM244.62 131.86h0.6v0.6h-0.6zM236.23 130.43h0.6v0.6h-0.6zM258.72 111.85h0.6v0.6h-0.6zM252.33 130.9h0.6v0.6h-0.6zM247.58 112.94h0.6v0.6h-0.6zM260.27 104.64h0.6v0.6h-0.6zM250.05 132.3h0.6v0.6h-0.6zM250.59 139.94h0.6v0.6h-0.6zM260.07 126.4h0.6v0.6h-0.6zM262.29 129.83h0.6v0.6h-0.6zM239.44 116.74h0.6v0.6h-0.6zM250.86 123.03h0.6v0.6h-0.6zM236.92 106.94h0.6v0.6h-0.6zM252.21 123.13h0.6v0.6h-0.6zM260.49 123.43h0.6v0.6h-0.6zM251.67 129.57h0.6v0.6h-0.6zM243.24 104.95h0.6v0.6h-0.6zM245.3 133.1h0.6v0.6h-0.6zM246.66 135.94h0.6v0.6h-0.6zM244.63 129.92h0.6v0.6h-0.6zM249.04 130.98h0.6v0.6h-0.6zM248.91 123.17h0.6v0.6h-0.6zM245.28 135.93h0.6v0.6h-0.6zM248.57 126.84h0.6v0.6h-0.6zM253.79 109.88h0.6v0.6h-0.6zM242.53 120.23h0.6v0.6h-0.6zM258.53 107.91h0.6v0.6h-0.6zM241.1 108.73h0.6v0.6h-0.6zM245.87 107.78h0.6v0.6h-0.6zM242.63 127.19h0.6v0.6h-0.6zM240.57 120.65h0.6v0.6h-0.6zM239.9 118.32h0.6v0.6h-0.6zM252.8 96.39h0.6v0.6h-0.6zM249.26 123.51h0.6v0.6h-0.6zM248.4 123.9h0.6v0.6h-0.6zM252 105h0.6v0.6h-0.6zM247.92 128.62h0.6v0.6h-0.6zM258.67 104.23h0.6v0.6h-0.6zM244.34 104.17h0.6v0.6h-0.6zM248.72 107.79h0.6v0.6h-0.6zM241.39 130.15h0.6v0.6h-0.6zM265.9 95.75h0.6v0.6h-0.6zM261.35 109.64h0.6v0.6h-0.6zM254.04 125.07h0.6v0.6h-0.6zM258.24 118.28h0.6v0.6h-0.6zM242.57 120.04h0.6v0.6h-0.6zM254.85 109.96h0.6v0.6h-0.6zM251.97 120.71h0.6v0.6h-0.6zM250.23 120.92h0.6v0.6h-0.6zM253.45 130.57h0.6v0.6h-0.6zM246.68 116.53h0.6v0.6h-0.6z" fill="#9a9a9a" opacity="0.9"/>
<path d="M238.02 111.23h0.55v0.55h-0.55zM245.33 124.91h0.55v0.55h-0.55zM248.46 109.98h0.55v0.55h-0.55zM244.01 125.52h0.55v0.55h-0.55zM239.07 115.04h0.55v0.55h-0.55zM237.38 111.69h0.55v0.55h-0.55zM246.15 117.63h0.55v0.55h-0.55zM241.27 112.37h0.55v0.55h-0.55zM249.84 122.98h0.55v0.55h-0.55zM241.06 115.67h0.55v0.55h-0.55zM240.71 112.27h0.55v0.55h-0.55zM245.84 105.2h0.55v0.55h-0.55zM243.08 114.26h0.55v0.55h-0.55zM250.86 120.05h0.55v0.55h-0.55zM244.92 121.15h0.55v0.55h-0.55zM245.64 117.89h0.55v0.55h-0.55zM241.49 122.59h0.55v0.55h-0.55zM244.35 112.49h0.55v0.55h-0.55zM238.89 108.7h0.55v0.55h-0.55zM244.24 116.05h0.55v0.55h-0.55zM238.92 113.96h0.55v0.55h-0.55zM244.53 111.54h0.55v0.55h-0.55zM242.37 112h0.55v0.55h-0.55zM243.23 123.46h0.55v0.55h-0.55zM248.86 111.06h0.55v0.55h-0.55zM245.65 119.07h0.55v0.55h-0.55zM243.3 123.6h0.55v0.55h-0.55zM246.91 106.71h0.55v0.55h-0.55zM249.64 115.49h0.55v0.55h-0.55zM239.93 111.34h0.55v0.55h-0.55zM241.93 107.86h0.55v0.55h-0.55zM247.88 120.37h0.55v0.55h-0.55zM238.87 123.55h0.55v0.55h-0.55zM244.02 117.57h0.55v0.55h-0.55zM247.31 116.17h0.55v0.55h-0.55zM241.77 120.97h0.55v0.55h-0.55zM245.25 125.53h0.55v0.55h-0.55zM239.95 114.65h0.55v0.55h-0.55zM250.94 124.54h0.55v0.55h-0.55zM245.85 118.08h0.55v0.55h-0.55zM237.56 107.96h0.55v0.55h-0.55zM250.97 121.76h0.55v0.55h-0.55zM244.61 120.81h0.55v0.55h-0.55zM244.05 117.45h0.55v0.55h-0.55zM246.15 111.53h0.55v0.55h-0.55zM244.19 118.28h0.55v0.55h-0.55zM246.48 108.08h0.55v0.55h-0.55zM244.07 115.89h0.55v0.55h-0.55zM245.81 121.27h0.55v0.55h-0.55zM243.8 120.64h0.55v0.55h-0.55zM244.35 121.23h0.55v0.55h-0.55zM238.74 115.28h0.55v0.55h-0.55zM246.44 125.37h0.55v0.55h-0.55zM238.55 116.6h0.55v0.55h-0.55zM241.73 117.37h0.55v0.55h-0.55zM240.79 113.53h0.55v0.55h-0.55zM242.68 117.94h0.55v0.55h-0.55zM247.56 110.1h0.55v0.55h-0.55zM238.62 123.27h0.55v0.55h-0.55zM245.23 115.43h0.55v0.55h-0.55zM237.75 125.39h0.55v0.55h-0.55zM238.11 126.02h0.55v0.55h-0.55zM244.09 115.74h0.55v0.55h-0.55zM242.19 123.5h0.55v0.55h-0.55zM244.77 124.35h0.55v0.55h-0.55zM247.62 106.13h0.55v0.55h-0.55zM239.03 125.31h0.55v0.55h-0.55zM251.6 116.9h0.55v0.55h-0.55zM245.83 123.39h0.55v0.55h-0.55zM240.8 115.33h0.55v0.55h-0.55zM243.31 114.19h0.55v0.55h-0.55zM240.48 112.31h0.55v0.55h-0.55zM240.28 126.81h0.55v0.55h-0.55zM244.76 125.13h0.55v0.55h-0.55zM242.66 124.61h0.55v0.55h-0.55zM241.99 112.13h0.55v0.55h-0.55zM244.75 112.67h0.55v0.55h-0.55zM239.16 114.46h0.55v0.55h-0.55zM243.2 117h0.55v0.55h-0.55zM247.01 117.09h0.55v0.55h-0.55zM241.93 114.76h0.55v0.55h-0.55zM242.31 111.31h0.55v0.55h-0.55zM239.54 120.33h0.55v0.55h-0.55zM239.88 121.16h0.55v0.55h-0.55zM242.74 108.09h0.55v0.55h-0.55zM241.98 112.78h0.55v0.55h-0.55zM244.81 127.6h0.55v0.55h-0.55zM243.63 118.83h0.55v0.55h-0.55zM240.54 119.62h0.55v0.55h-0.55zM242.29 106.65h0.55v0.55h-0.55zM244.91 118.3h0.55v0.55h-0.55zM247.87 118.98h0.55v0.55h-0.55zM246.08 106.17h0.55v0.55h-0.55zM241.47 119.82h0.55v0.55h-0.55zM242.35 115.58h0.55v0.55h-0.55zM243.14 118.95h0.55v0.55h-0.55zM243.86 119.47h0.55v0.55h-0.55zM240.69 116.18h0.55v0.55h-0.55zM236.32 107.97h0.55v0.55h-0.55zM241.73 120.36h0.55v0.55h-0.55zM239.55 105.63h0.55v0.55h-0.55zM247.27 110.23h0.55v0.55h-0.55zM239.6 110.34h0.55v0.55h-0.55zM248.11 117.62h0.55v0.55h-0.55zM237.63 116.43h0.55v0.55h-0.55zM245.23 118.53h0.55v0.55h-0.55zM237.67 109.46h0.55v0.55h-0.55zM250.97 116.16h0.55v0.55h-0.55zM241.76 125.55h0.55v0.55h-0.55zM238.49 117.81h0.55v0.55h-0.55zM238.8 117.95h0.55v0.55h-0.55zM244.39 116.99h0.55v0.55h-0.55zM241.52 118.92h0.55v0.55h-0.55zM241.87 112.89h0.55v0.55h-0.55zM245.8 123.76h0.55v0.55h-0.55zM236.88 108.87h0.55v0.55h-0.55zM239.46 119.29h0.55v0.55h-0.55zM243.16 118.18h0.55v0.55h-0.55zM246.89 110.96h0.55v0.55h-0.55zM244.64 120.2h0.55v0.55h-0.55zM248.78 108.55h0.55v0.55h-0.55zM249.2 121.72h0.55v0.55h-0.55zM244.1 125.47h0.55v0.55h-0.55zM241.85 115.41h0.55v0.55h-0.55zM246.74 114.15h0.55v0.55h-0.55zM243.96 118.39h0.55v0.55h-0.55zM240.07 109.64h0.55v0.55h-0.55zM249.46 108.73h0.55v0.55h-0.55zM243.37 119.34h0.55v0.55h-0.55zM238.96 111.54h0.55v0.55h-0.55zM252.14 125.09h0.55v0.55h-0.55zM248.92 113.49h0.55v0.55h-0.55zM249.58 108.88h0.55v0.55h-0.55zM248.16 119.4h0.55v0.55h-0.55zM246.61 124.75h0.55v0.55h-0.55zM251.56 112.06h0.55v0.55h-0.55zM243.04 127.14h0.55v0.55h-0.55zM241.88 121.43h0.55v0.55h-0.55zM240.56 124.14h0.55v0.55h-0.55zM240.6 104.82h0.55v0.55h-0.55zM240.8 117.91h0.55v0.55h-0.55zM245.26 119.76h0.55v0.55h-0.55zM245.43 108.69h0.55v0.55h-0.55zM240.36 111h0.55v0.55h-0.55zM241.1 120.65h0.55v0.55h-0.55zM249.06 115.27h0.55v0.55h-0.55zM247.84 126.01h0.55v0.55h-0.55zM237.93 110.64h0.55v0.55h-0.55zM243.77 106.13h0.55v0.55h-0.55zM237.58 123.4h0.55v0.55h-0.55zM239.74 122.84h0.55v0.55h-0.55zM238.67 125.61h0.55v0.55h-0.55zM240.48 122.96h0.55v0.55h-0.55zM247.61 105.22h0.55v0.55h-0.55zM238.13 124.53h0.55v0.55h-0.55zM242.97 123.96h0.55v0.55h-0.55zM249.5 125.46h0.55v0.55h-0.55zM246.36 113.78h0.55v0.55h-0.55zM241.38 119.76h0.55v0.55h-0.55zM247.02 125.89h0.55v0.55h-0.55zM244.47 114.9h0.55v0.55h-0.55zM239.93 124.24h0.55v0.55h-0.55zM244.12 123.33h0.55v0.55h-0.55zM239.77 119.95h0.55v0.55h-0.55zM242.85 115.04h0.55v0.55h-0.55zM237.79 105.97h0.55v0.55h-0.55zM241.65 121.63h0.55v0.55h-0.55zM244.32 119.2h0.55v0.55h-0.55zM244.6 106.5h0.55v0.55h-0.55zM247.92 117.83h0.55v0.55h-0.55zM239.79 112.92h0.55v0.55h-0.55zM247.59 118.82h0.55v0.55h-0.55zM246.97 109.29h0.55v0.55h-0.55zM248.74 127.34h0.55v0.55h-0.55zM247.85 122.48h0.55v0.55h-0.55zM244.62 119.02h0.55v0.55h-0.55zM240.78 119.49h0.55v0.55h-0.55z" fill="#9a9a9a" opacity="0.9"/>
<g filter="url(#fb)">
<ellipse cx="250.5" cy="121.3" rx="11" ry="20.5" fill="#d4d4d4" stroke="none" stroke-width="0.5" opacity="1"/>
<ellipse cx="252.3" cy="122" rx="9" ry="19" fill="url(#gsoft)" stroke="none" stroke-width="0.5" opacity="1"/>
<ellipse cx="254.2" cy="124" rx="4" ry="11" fill="#555555" stroke="none" stroke-width="0.5" opacity="0.7"/>
<ellipse cx="252" cy="117.5" rx="1" ry="3" fill="#e4e4e4" stroke="none" stroke-width="0.5" opacity="1"/>
<ellipse cx="255.5" cy="125.5" rx="0.9" ry="2.2" fill="#d8d8d8" stroke="none" stroke-width="0.5" opacity="1"/>
</g>
<path d="M241.23 105.93h0.55v0.55h-0.55zM240.09 112.41h0.55v0.55h-0.55zM237.75 114.64h0.55v0.55h-0.55zM239.45 107.57h0.55v0.55h-0.55zM242.5 118.15h0.55v0.55h-0.55zM242.81 117.21h0.55v0.55h-0.55zM243.66 114.46h0.55v0.55h-0.55zM237.68 118.93h0.55v0.55h-0.55zM238.62 113.77h0.55v0.55h-0.55zM241.51 109.82h0.55v0.55h-0.55zM244.26 105.58h0.55v0.55h-0.55zM243.29 118.33h0.55v0.55h-0.55zM241.5 106.71h0.55v0.55h-0.55zM239.35 109.74h0.55v0.55h-0.55zM238.86 115.39h0.55v0.55h-0.55zM238.6 117.26h0.55v0.55h-0.55zM240.31 113.03h0.55v0.55h-0.55zM242.38 119.53h0.55v0.55h-0.55zM236.87 114.1h0.55v0.55h-0.55zM242.6 110.12h0.55v0.55h-0.55zM244.24 127h0.55v0.55h-0.55zM242.98 115.37h0.55v0.55h-0.55zM243.02 114.16h0.55v0.55h-0.55zM242.39 118.88h0.55v0.55h-0.55zM244.06 111.75h0.55v0.55h-0.55zM243.08 120.69h0.55v0.55h-0.55zM241.26 126.11h0.55v0.55h-0.55zM237.74 118.98h0.55v0.55h-0.55zM237.99 117.35h0.55v0.55h-0.55zM236.33 118.96h0.55v0.55h-0.55zM240.31 109.96h0.55v0.55h-0.55zM239.36 114.4h0.55v0.55h-0.55zM244.04 117.94h0.55v0.55h-0.55zM240.48 117.39h0.55v0.55h-0.55zM243.96 119.53h0.55v0.55h-0.55zM243.74 117.15h0.55v0.55h-0.55zM239.13 120.44h0.55v0.55h-0.55zM243.79 123.1h0.55v0.55h-0.55zM242.67 110.18h0.55v0.55h-0.55zM241.67 118.95h0.55v0.55h-0.55zM241.62 127.15h0.55v0.55h-0.55zM241.34 113.17h0.55v0.55h-0.55zM242.04 121.65h0.55v0.55h-0.55zM241.62 104.64h0.55v0.55h-0.55zM239.86 123.26h0.55v0.55h-0.55zM238.78 122.25h0.55v0.55h-0.55zM241.67 110.75h0.55v0.55h-0.55zM242.81 114.37h0.55v0.55h-0.55zM243.14 115.75h0.55v0.55h-0.55zM241.55 112.65h0.55v0.55h-0.55zM239.88 123.15h0.55v0.55h-0.55zM243.57 107.04h0.55v0.55h-0.55zM243.53 109.74h0.55v0.55h-0.55zM243.49 117.8h0.55v0.55h-0.55zM240.12 123.03h0.55v0.55h-0.55zM241.52 113.56h0.55v0.55h-0.55zM241.15 127.34h0.55v0.55h-0.55zM239.76 120.24h0.55v0.55h-0.55zM241.95 116.87h0.55v0.55h-0.55zM237.57 120.61h0.55v0.55h-0.55zM237.66 121.31h0.55v0.55h-0.55zM240.85 117.25h0.55v0.55h-0.55zM239.68 110.37h0.55v0.55h-0.55zM237.89 116.37h0.55v0.55h-0.55zM240.87 118.26h0.55v0.55h-0.55zM240.22 121.64h0.55v0.55h-0.55zM241.59 117.13h0.55v0.55h-0.55zM240.37 116.17h0.55v0.55h-0.55zM243.19 111.44h0.55v0.55h-0.55zM237.33 118.96h0.55v0.55h-0.55zM242.46 116.49h0.55v0.55h-0.55zM241.9 107.29h0.55v0.55h-0.55zM238.07 116.27h0.55v0.55h-0.55zM241.03 107.72h0.55v0.55h-0.55zM239.36 109.08h0.55v0.55h-0.55zM236.88 114.08h0.55v0.55h-0.55zM241.66 114.22h0.55v0.55h-0.55zM241.06 106.31h0.55v0.55h-0.55zM244.46 118.44h0.55v0.55h-0.55zM243.1 123.74h0.55v0.55h-0.55zM244.3 125.23h0.55v0.55h-0.55zM243.28 116.22h0.55v0.55h-0.55zM241.44 110.47h0.55v0.55h-0.55zM240.87 113.54h0.55v0.55h-0.55zM244.6 112.59h0.55v0.55h-0.55zM244.58 117.67h0.55v0.55h-0.55zM240.21 118.79h0.55v0.55h-0.55zM243.47 121.35h0.55v0.55h-0.55zM240.3 126.34h0.55v0.55h-0.55zM243.22 120.01h0.55v0.55h-0.55zM237.94 120.23h0.55v0.55h-0.55zM237.04 119.73h0.55v0.55h-0.55zM241.32 121.19h0.55v0.55h-0.55zM236.55 118.51h0.55v0.55h-0.55zM238.67 111.98h0.55v0.55h-0.55zM243.77 115.69h0.55v0.55h-0.55zM242.39 116.37h0.55v0.55h-0.55zM242.31 126.97h0.55v0.55h-0.55zM241.5 114.28h0.55v0.55h-0.55zM241.19 121.2h0.55v0.55h-0.55zM240.88 119.24h0.55v0.55h-0.55zM240.25 108.25h0.55v0.55h-0.55zM238.46 115.67h0.55v0.55h-0.55zM236.34 114.38h0.55v0.55h-0.55zM238.94 124.93h0.55v0.55h-0.55zM241.55 120.87h0.55v0.55h-0.55zM244.45 105.43h0.55v0.55h-0.55zM239.85 114.88h0.55v0.55h-0.55zM241.5 114.22h0.55v0.55h-0.55zM244.48 115.56h0.55v0.55h-0.55zM238.86 106.76h0.55v0.55h-0.55zM239.94 109.71h0.55v0.55h-0.55zM240.23 113.98h0.55v0.55h-0.55zM242.16 108.62h0.55v0.55h-0.55zM241.98 123.37h0.55v0.55h-0.55zM239.3 108h0.55v0.55h-0.55zM241.21 116.38h0.55v0.55h-0.55zM239.08 119.14h0.55v0.55h-0.55zM241.33 120.9h0.55v0.55h-0.55zM236.74 121.45h0.55v0.55h-0.55z" fill="#8e8e8e" opacity="0.9"/>
<polygon points="235.5,103.5 253,103.5 253,122.5 247,128.5 235.5,128.5" stroke="#555" stroke-width="0.7" fill="none" />
<polygon points="253,103.5 266.5,103.5 266.5,121.5 253,121.5" stroke="#555" stroke-width="0.7" fill="none" />
<polygon points="253,121.5 266.5,121.5 266.5,140.5 248.5,140.5 248.5,128.5" stroke="#555" stroke-width="0.7" fill="none" />
<text x="200.3" y="125.1" font-size="8.4" text-anchor="middle" dominant-baseline="central" fill="#2a2a2a" textLength="13.8" lengthAdjust="spacingAndGlyphs" transform="rotate(-90 200.3 125.1)" style="stroke-width:0.16px">CD39</text>
<polyline points="199.8,142 199.8,162.1 221,162.1" stroke="#333" stroke-width="0.9" fill="none" />
<line x1="199.8" y1="144" x2="199.8" y2="140.7" stroke="#222" stroke-width="0.9" />
<polygon points="199.8,138.3 198,142.3 201.6,142.3" fill="#222"/>
<line x1="215" y1="162.1" x2="222.8" y2="162.1" stroke="#222" stroke-width="0.9" />
<polygon points="225.2,162.1 221.2,160.3 221.2,163.9" fill="#222"/>
<text x="231.5" y="161.9" font-size="8.4" text-anchor="start" dominant-baseline="central" fill="#2a2a2a" textLength="14.5" lengthAdjust="spacingAndGlyphs" style="stroke-width:0.16px">ly108</text>
<text x="0" y="0" transform="translate(301.27 16.13) scale(0.93 1)" font-size="13.2" font-weight="bold" fill="#000" style="stroke:#000;stroke-width:0.45px">B</text>
<rect x="344.5" y="14.5" width="57" height="57" fill="none" stroke="#2a2a2a" stroke-width="1"/>
<line x1="343" y1="20.1" x2="344.4" y2="20.1" stroke="#444" stroke-width="0.6" />
<text x="339.6" y="20.5" font-size="4.8" text-anchor="end" dominant-baseline="central" fill="#333" style="stroke-width:0.06px">10<tspan font-size="3.46" dy="-2.64">5</tspan></text>
<line x1="343" y1="34.6" x2="344.4" y2="34.6" stroke="#444" stroke-width="0.6" />
<text x="339.6" y="35" font-size="4.8" text-anchor="end" dominant-baseline="central" fill="#333" style="stroke-width:0.06px">10<tspan font-size="3.46" dy="-2.64">4</tspan></text>
<line x1="343" y1="50.4" x2="344.4" y2="50.4" stroke="#444" stroke-width="0.6" />
<text x="339.6" y="50.8" font-size="4.8" text-anchor="end" dominant-baseline="central" fill="#333" style="stroke-width:0.06px">10<tspan font-size="3.46" dy="-2.64">3</tspan></text>
<line x1="343" y1="58.3" x2="344.4" y2="58.3" stroke="#444" stroke-width="0.6" />
<rect x="343.5" y="57.1" width="1.5" height="2.4" fill="#111" stroke="none" stroke-width="0"/>
<text x="339.6" y="58.3" font-size="4.8" text-anchor="end" dominant-baseline="central" fill="#333" style="stroke-width:0.06px">0</text>
<line x1="343" y1="68.6" x2="344.4" y2="68.6" stroke="#444" stroke-width="0.6" />
<text x="339.6" y="69" font-size="4.8" text-anchor="end" dominant-baseline="central" fill="#333" style="stroke-width:0.06px">-10<tspan font-size="3.46" dy="-2.64">3</tspan></text>
<line x1="350.8" y1="71.9" x2="350.8" y2="73.3" stroke="#444" stroke-width="0.6" />
<text x="350.8" y="79.5" font-size="4.8" text-anchor="middle" dominant-baseline="central" fill="#333" style="stroke-width:0.06px">10<tspan font-size="3.46" dy="-2.64">1</tspan></text>
<line x1="362.4" y1="71.9" x2="362.4" y2="73.3" stroke="#444" stroke-width="0.6" />
<text x="362.4" y="79.5" font-size="4.8" text-anchor="middle" dominant-baseline="central" fill="#333" style="stroke-width:0.06px">10<tspan font-size="3.46" dy="-2.64">2</tspan></text>
<line x1="374" y1="71.9" x2="374" y2="73.3" stroke="#444" stroke-width="0.6" />
<text x="374" y="79.5" font-size="4.8" text-anchor="middle" dominant-baseline="central" fill="#333" style="stroke-width:0.06px">10<tspan font-size="3.46" dy="-2.64">3</tspan></text>
<line x1="385.7" y1="71.9" x2="385.7" y2="73.3" stroke="#444" stroke-width="0.6" />
<text x="385.7" y="79.5" font-size="4.8" text-anchor="middle" dominant-baseline="central" fill="#333" style="stroke-width:0.06px">10<tspan font-size="3.46" dy="-2.64">4</tspan></text>
<line x1="396.9" y1="71.9" x2="396.9" y2="73.3" stroke="#444" stroke-width="0.6" />
<text x="396.9" y="79.5" font-size="4.8" text-anchor="middle" dominant-baseline="central" fill="#333" style="stroke-width:0.06px">10<tspan font-size="3.46" dy="-2.64">5</tspan></text>
<path d="M390.97 44.25h0.6v0.6h-0.6zM373.09 32.67h0.6v0.6h-0.6zM376.11 36.39h0.6v0.6h-0.6zM378.87 44.83h0.6v0.6h-0.6zM379.06 39.33h0.6v0.6h-0.6zM374.92 23.93h0.6v0.6h-0.6zM376.3 31.21h0.6v0.6h-0.6zM384.97 20.6h0.6v0.6h-0.6zM386.4 16.66h0.6v0.6h-0.6zM379.09 42.29h0.6v0.6h-0.6zM374.09 33.45h0.6v0.6h-0.6zM384.94 32.51h0.6v0.6h-0.6zM379.65 42.56h0.6v0.6h-0.6zM383.74 30.88h0.6v0.6h-0.6zM387.35 40.79h0.6v0.6h-0.6zM385.69 29.53h0.6v0.6h-0.6zM386.12 41.32h0.6v0.6h-0.6zM384.42 36.45h0.6v0.6h-0.6zM384.87 42.46h0.6v0.6h-0.6zM369.8 64.49h0.6v0.6h-0.6zM376.52 46.33h0.6v0.6h-0.6zM379.09 38.11h0.6v0.6h-0.6zM378.12 50.38h0.6v0.6h-0.6zM385.27 50.46h0.6v0.6h-0.6zM371.24 49.44h0.6v0.6h-0.6zM371.93 62.85h0.6v0.6h-0.6zM382.27 52.33h0.6v0.6h-0.6zM380.14 43.41h0.6v0.6h-0.6zM376.28 60.03h0.6v0.6h-0.6zM378.36 51.97h0.6v0.6h-0.6zM375.72 40.84h0.6v0.6h-0.6zM378.03 41.18h0.6v0.6h-0.6zM377.37 47.88h0.6v0.6h-0.6zM383.77 27.76h0.6v0.6h-0.6zM377.75 30.37h0.6v0.6h-0.6zM386.04 30.89h0.6v0.6h-0.6zM382.73 43.52h0.6v0.6h-0.6zM379.86 24.67h0.6v0.6h-0.6zM389.48 40.86h0.6v0.6h-0.6zM383.9 51.65h0.6v0.6h-0.6zM374.68 33.27h0.6v0.6h-0.6zM389.6 59.59h0.6v0.6h-0.6zM375.66 41.44h0.6v0.6h-0.6zM385.38 40.84h0.6v0.6h-0.6zM387.4 47.6h0.6v0.6h-0.6zM379.77 48.2h0.6v0.6h-0.6zM377.56 53.54h0.6v0.6h-0.6zM376.55 53.94h0.6v0.6h-0.6zM393.96 26.45h0.6v0.6h-0.6zM389.51 28.86h0.6v0.6h-0.6zM379.8 58.67h0.6v0.6h-0.6zM386.14 48.25h0.6v0.6h-0.6zM382.24 43.78h0.6v0.6h-0.6zM382.72 40.42h0.6v0.6h-0.6zM378.62 31.12h0.6v0.6h-0.6zM389.76 42.02h0.6v0.6h-0.6zM390.65 48.89h0.6v0.6h-0.6zM382.69 32.32h0.6v0.6h-0.6zM378.77 42.61h0.6v0.6h-0.6zM379.52 39.48h0.6v0.6h-0.6zM367.64 38.55h0.6v0.6h-0.6zM378.8 37.87h0.6v0.6h-0.6zM378.45 28.13h0.6v0.6h-0.6zM375.49 55.49h0.6v0.6h-0.6zM375 37.48h0.6v0.6h-0.6zM375.64 40.73h0.6v0.6h-0.6zM377.33 60.25h0.6v0.6h-0.6zM374.47 54.43h0.6v0.6h-0.6zM377.61 46.24h0.6v0.6h-0.6zM394.15 42.1h0.6v0.6h-0.6z" fill="#aaaaaa" opacity="0.9"/>
<g filter="url(#fb)">
<ellipse cx="379.2" cy="41.9" rx="8.8" ry="15.8" fill="url(#gbean)" stroke="none" stroke-width="0.5" opacity="1" transform="rotate(-6 379.2 41.9)"/>
<ellipse cx="374.8" cy="42.9" rx="1.6" ry="8.8" fill="#606060" stroke="none" stroke-width="0.5" opacity="0.6"/>
<ellipse cx="378.7" cy="40.9" rx="1.1" ry="6.3" fill="#d8d8d8" stroke="none" stroke-width="0.5" opacity="1"/>
</g>
<line x1="373.5" y1="14.4" x2="373.5" y2="71.9" stroke="#333" stroke-width="0.8" />
<line x1="344.4" y1="46.5" x2="401.9" y2="46.5" stroke="#333" stroke-width="0.8" />
<text x="393.4" y="20.2" font-size="5.6" text-anchor="middle" dominant-baseline="central" fill="#333" style="stroke-width:0.05px">61.7</text>
<rect x="344.5" y="90.5" width="57" height="57" fill="none" stroke="#2a2a2a" stroke-width="1"/>
<line x1="343" y1="96.7" x2="344.4" y2="96.7" stroke="#444" stroke-width="0.6" />
<text x="339.6" y="97.1" font-size="4.8" text-anchor="end" dominant-baseline="central" fill="#333" style="stroke-width:0.06px">10<tspan font-size="3.46" dy="-2.64">5</tspan></text>
<line x1="343" y1="109.8" x2="344.4" y2="109.8" stroke="#444" stroke-width="0.6" />
<text x="339.6" y="110.2" font-size="4.8" text-anchor="end" dominant-baseline="central" fill="#333" style="stroke-width:0.06px">10<tspan font-size="3.46" dy="-2.64">4</tspan></text>
<line x1="343" y1="125.7" x2="344.4" y2="125.7" stroke="#444" stroke-width="0.6" />
<text x="339.6" y="126.1" font-size="4.8" text-anchor="end" dominant-baseline="central" fill="#333" style="stroke-width:0.06px">10<tspan font-size="3.46" dy="-2.64">3</tspan></text>
<line x1="343" y1="134.6" x2="344.4" y2="134.6" stroke="#444" stroke-width="0.6" />
<rect x="343.5" y="133.4" width="1.5" height="2.4" fill="#111" stroke="none" stroke-width="0"/>
<text x="339.6" y="134.6" font-size="4.8" text-anchor="end" dominant-baseline="central" fill="#333" style="stroke-width:0.06px">0</text>
<line x1="343" y1="144.3" x2="344.4" y2="144.3" stroke="#444" stroke-width="0.6" />
<text x="339.6" y="144.7" font-size="4.8" text-anchor="end" dominant-baseline="central" fill="#333" style="stroke-width:0.06px">-10<tspan font-size="3.46" dy="-2.64">3</tspan></text>
<line x1="350.8" y1="147.5" x2="350.8" y2="148.9" stroke="#444" stroke-width="0.6" />
<text x="350.8" y="155.4" font-size="4.8" text-anchor="middle" dominant-baseline="central" fill="#333" style="stroke-width:0.06px">10<tspan font-size="3.46" dy="-2.64">1</tspan></text>
<line x1="362.4" y1="147.5" x2="362.4" y2="148.9" stroke="#444" stroke-width="0.6" />
<text x="362.4" y="155.4" font-size="4.8" text-anchor="middle" dominant-baseline="central" fill="#333" style="stroke-width:0.06px">10<tspan font-size="3.46" dy="-2.64">2</tspan></text>
<line x1="374" y1="147.5" x2="374" y2="148.9" stroke="#444" stroke-width="0.6" />
<text x="374" y="155.4" font-size="4.8" text-anchor="middle" dominant-baseline="central" fill="#333" style="stroke-width:0.06px">10<tspan font-size="3.46" dy="-2.64">3</tspan></text>
<line x1="385.7" y1="147.5" x2="385.7" y2="148.9" stroke="#444" stroke-width="0.6" />
<text x="385.7" y="155.4" font-size="4.8" text-anchor="middle" dominant-baseline="central" fill="#333" style="stroke-width:0.06px">10<tspan font-size="3.46" dy="-2.64">4</tspan></text>
<line x1="396.9" y1="147.5" x2="396.9" y2="148.9" stroke="#444" stroke-width="0.6" />
<text x="396.9" y="155.4" font-size="4.8" text-anchor="middle" dominant-baseline="central" fill="#333" style="stroke-width:0.06px">10<tspan font-size="3.46" dy="-2.64">5</tspan></text>
<path d="M380.16 92.61h0.6v0.6h-0.6zM378.33 116.39h0.6v0.6h-0.6zM380.91 120.55h0.6v0.6h-0.6zM374.16 109.96h0.6v0.6h-0.6zM384.43 116.02h0.6v0.6h-0.6zM380.41 124.43h0.6v0.6h-0.6zM380.8 119.83h0.6v0.6h-0.6zM374.26 118.47h0.6v0.6h-0.6zM370.87 134.41h0.6v0.6h-0.6zM375.98 133.63h0.6v0.6h-0.6zM377.49 117.25h0.6v0.6h-0.6zM387.41 120.38h0.6v0.6h-0.6zM381.24 116.05h0.6v0.6h-0.6zM378.81 111.85h0.6v0.6h-0.6zM376 102.38h0.6v0.6h-0.6zM379.41 111.43h0.6v0.6h-0.6zM388 137.64h0.6v0.6h-0.6zM390.76 107.79h0.6v0.6h-0.6zM378.27 117.35h0.6v0.6h-0.6zM371.8 132.6h0.6v0.6h-0.6zM384.2 121.18h0.6v0.6h-0.6zM390.94 122.97h0.6v0.6h-0.6zM378.62 121.07h0.6v0.6h-0.6zM377.7 122.87h0.6v0.6h-0.6zM373.05 123.16h0.6v0.6h-0.6zM378.65 114.71h0.6v0.6h-0.6zM378.17 117.44h0.6v0.6h-0.6zM370.67 123.97h0.6v0.6h-0.6zM379.2 134.78h0.6v0.6h-0.6zM380.2 127.09h0.6v0.6h-0.6zM380.12 117.36h0.6v0.6h-0.6zM373.57 114.38h0.6v0.6h-0.6zM377.07 96.75h0.6v0.6h-0.6zM378.66 112.08h0.6v0.6h-0.6zM381.98 127.9h0.6v0.6h-0.6zM378.63 129.3h0.6v0.6h-0.6zM387.16 125.49h0.6v0.6h-0.6zM378.47 119.54h0.6v0.6h-0.6zM389.34 132.57h0.6v0.6h-0.6zM386.62 103.01h0.6v0.6h-0.6zM367.79 134.68h0.6v0.6h-0.6zM384.26 130.79h0.6v0.6h-0.6zM383.51 115.9h0.6v0.6h-0.6zM382.86 118.22h0.6v0.6h-0.6zM388.59 126.24h0.6v0.6h-0.6zM375.08 111.77h0.6v0.6h-0.6zM385.93 126.61h0.6v0.6h-0.6zM381.92 121.75h0.6v0.6h-0.6zM373.43 110.91h0.6v0.6h-0.6zM383.24 102.1h0.6v0.6h-0.6zM383.05 123.92h0.6v0.6h-0.6zM383.95 126.32h0.6v0.6h-0.6zM390.89 121.31h0.6v0.6h-0.6zM375.84 103.22h0.6v0.6h-0.6zM367.9 119.55h0.6v0.6h-0.6zM385.26 103.53h0.6v0.6h-0.6zM381.32 112.2h0.6v0.6h-0.6zM378.94 120.63h0.6v0.6h-0.6zM380.56 107.95h0.6v0.6h-0.6zM384.53 117.46h0.6v0.6h-0.6zM369.98 125.67h0.6v0.6h-0.6zM389.07 115.16h0.6v0.6h-0.6zM389.23 104.36h0.6v0.6h-0.6zM378.97 130.45h0.6v0.6h-0.6zM387.61 123.36h0.6v0.6h-0.6zM386.24 114.96h0.6v0.6h-0.6zM384.35 127.36h0.6v0.6h-0.6zM385.61 122.1h0.6v0.6h-0.6zM385.01 122.61h0.6v0.6h-0.6zM383.73 104.66h0.6v0.6h-0.6z" fill="#aaaaaa" opacity="0.9"/>
<g filter="url(#fb)">
<ellipse cx="379.2" cy="118.1" rx="8.8" ry="15" fill="url(#gbean)" stroke="none" stroke-width="0.5" opacity="1" transform="rotate(-6 379.2 118.1)"/>
<ellipse cx="374.8" cy="119.1" rx="1.6" ry="8" fill="#606060" stroke="none" stroke-width="0.5" opacity="0.6"/>
<ellipse cx="378.7" cy="117.1" rx="1.1" ry="5.5" fill="#d8d8d8" stroke="none" stroke-width="0.5" opacity="1"/>
</g>
<line x1="373.5" y1="90.25" x2="373.5" y2="147.5" stroke="#333" stroke-width="0.8" />
<line x1="344.4" y1="120.4" x2="401.9" y2="120.4" stroke="#333" stroke-width="0.8" />
<text x="393.4" y="96.05" font-size="5.6" text-anchor="middle" dominant-baseline="central" fill="#333" style="stroke-width:0.05px">47.3</text>
<text x="305.5" y="62.8" font-size="8.4" text-anchor="middle" dominant-baseline="central" fill="#2a2a2a" textLength="26.4" lengthAdjust="spacingAndGlyphs" transform="rotate(-90 305.5 62.8)" style="stroke-width:0.16px">anti-IL-2</text>
<text x="313.6" y="63.9" font-size="8.4" text-anchor="middle" dominant-baseline="central" fill="#2a2a2a" textLength="39.4" lengthAdjust="spacingAndGlyphs" transform="rotate(-90 313.6 63.9)" style="stroke-width:0.16px">(JES6-1A12)</text>
<text x="325.5" y="57.2" font-size="7.6" text-anchor="middle" dominant-baseline="central" fill="#2a2a2a" textLength="20.4" lengthAdjust="spacingAndGlyphs" transform="rotate(-90 325.5 57.2)" style="stroke-width:0.16px">CD107a</text>
<text x="313.8" y="119.3" font-size="8.4" text-anchor="middle" dominant-baseline="central" fill="#2a2a2a" textLength="34" lengthAdjust="spacingAndGlyphs" transform="rotate(-90 313.8 119.3)" style="stroke-width:0.16px">Tacrolimus</text>
<polyline points="325.8,86 325.8,161.8 366,161.8" stroke="#444" stroke-width="0.9" fill="none" />
<line x1="325.8" y1="88" x2="325.8" y2="82.2" stroke="#222" stroke-width="0.9" />
<polygon points="325.8,79.8 324,83.8 327.6,83.8" fill="#222"/>
<line x1="360" y1="161.8" x2="367.8" y2="161.8" stroke="#222" stroke-width="0.9" />
<polygon points="370.2,161.8 366.2,160 366.2,163.6" fill="#222"/>
<text x="377.8" y="161.5" font-size="8.4" text-anchor="start" dominant-baseline="central" fill="#2a2a2a" textLength="15.3" lengthAdjust="spacingAndGlyphs" style="stroke-width:0.16px">Gzmb</text>
<circle cx="442.2" cy="36.9" r="2.05" fill="#1e3b7d"/>
<text x="448" y="36.9" font-size="6.6" text-anchor="start" dominant-baseline="central" fill="#2a2a2a" textLength="57.5" lengthAdjust="spacingAndGlyphs" style="stroke-width:0.16px">anti-IL-2 (JES6-1A12)</text>
<rect x="440.55" y="45.25" width="4.1" height="4.1" fill="#b00c2a"/>
<text x="448" y="47.1" font-size="6.6" text-anchor="start" dominant-baseline="central" fill="#2a2a2a" textLength="28.8" lengthAdjust="spacingAndGlyphs" style="stroke-width:0.16px">Tacrolimus</text>
<rect x="451" y="90.6" width="19" height="49.9" fill="#8a92ba" stroke="none" stroke-width="0"/>
<rect x="481.7" y="114.2" width="19.3" height="26.3" fill="#d48a7b" stroke="none" stroke-width="0"/>
<line x1="440.4" y1="66.2" x2="440.4" y2="141.12" stroke="#1a1a1a" stroke-width="1.25" />
<line x1="439.77" y1="140.5" x2="512" y2="140.5" stroke="#1a1a1a" stroke-width="1.25" />
<line x1="437.2" y1="68.9" x2="440.4" y2="68.9" stroke="#1a1a1a" stroke-width="1.12" />
<text x="0" y="0" transform="translate(432.2 68.9) scale(0.92 1)" font-size="8.2" text-anchor="end" dominant-baseline="central" fill="#2a2a2a" style="stroke-width:0.18px">80</text>
<line x1="437.2" y1="86.9" x2="440.4" y2="86.9" stroke="#1a1a1a" stroke-width="1.12" />
<text x="0" y="0" transform="translate(432.2 86.9) scale(0.92 1)" font-size="8.2" text-anchor="end" dominant-baseline="central" fill="#2a2a2a" style="stroke-width:0.18px">60</text>
<line x1="437.2" y1="104.7" x2="440.4" y2="104.7" stroke="#1a1a1a" stroke-width="1.12" />
<text x="0" y="0" transform="translate(432.2 104.7) scale(0.92 1)" font-size="8.2" text-anchor="end" dominant-baseline="central" fill="#2a2a2a" style="stroke-width:0.18px">40</text>
<line x1="437.2" y1="122.6" x2="440.4" y2="122.6" stroke="#1a1a1a" stroke-width="1.12" />
<text x="0" y="0" transform="translate(432.2 122.6) scale(0.92 1)" font-size="8.2" text-anchor="end" dominant-baseline="central" fill="#2a2a2a" style="stroke-width:0.18px">20</text>
<line x1="437.2" y1="140.5" x2="440.4" y2="140.5" stroke="#1a1a1a" stroke-width="1.12" />
<text x="0" y="0" transform="translate(432.2 140.5) scale(0.92 1)" font-size="8.2" text-anchor="end" dominant-baseline="central" fill="#2a2a2a" style="stroke-width:0.18px">0</text>
<line x1="460.5" y1="140.5" x2="460.5" y2="143.7" stroke="#1a1a1a" stroke-width="1.12" />
<line x1="491.2" y1="140.5" x2="491.2" y2="143.7" stroke="#1a1a1a" stroke-width="1.12" />
<line x1="460.3" y1="85.4" x2="460.3" y2="94.1" stroke="#1e3b7d" stroke-width="0.8" />
<line x1="455.3" y1="85.4" x2="465.3" y2="85.4" stroke="#1e3b7d" stroke-width="0.8" />
<line x1="455.3" y1="94.1" x2="465.3" y2="94.1" stroke="#1e3b7d" stroke-width="0.8" />
<circle cx="460.3" cy="80.6" r="1.62" fill="#1e3b7d"/>
<circle cx="460.3" cy="85.4" r="1.62" fill="#1e3b7d"/>
<circle cx="457.7" cy="98.1" r="1.62" fill="#1e3b7d"/>
<circle cx="463.1" cy="95.6" r="1.62" fill="#1e3b7d"/>
<line x1="491.2" y1="110.6" x2="491.2" y2="116.7" stroke="#b00c2a" stroke-width="0.8" />
<line x1="486.4" y1="110.6" x2="496" y2="110.6" stroke="#b00c2a" stroke-width="0.8" />
<line x1="486.4" y1="116.7" x2="496" y2="116.7" stroke="#b00c2a" stroke-width="0.8" />
<rect x="486.9" y="104.9" width="2.81" height="2.81" fill="#b00c2a"/>
<rect x="492.6" y="102.1" width="2.81" height="2.81" fill="#b00c2a"/>
<rect x="484" y="114.9" width="2.81" height="2.81" fill="#b00c2a"/>
<rect x="489.8" y="115.3" width="2.81" height="2.81" fill="#b00c2a"/>
<rect x="495.3" y="116.7" width="2.81" height="2.81" fill="#b00c2a"/>
<rect x="484" y="118.8" width="2.81" height="2.81" fill="#b00c2a"/>
<line x1="459.5" y1="74.5" x2="494.6" y2="74.5" stroke="#222" stroke-width="0.9" />
<circle cx="475.43" cy="71.7" r="0.9" fill="#3a3a3a"/>
<circle cx="478.18" cy="71.7" r="0.9" fill="#3a3a3a"/>
<text x="416.6" y="103.3" font-size="10.62" text-anchor="middle" dominant-baseline="central" fill="#222" textLength="87.5" lengthAdjust="spacingAndGlyphs" transform="rotate(-90 416.6 103.3)">%Gzmb<tspan font-size="7.65" dy="-3.19">+</tspan><tspan dy="3.19">&#8203;</tspan>CD107a<tspan font-size="7.65" dy="-3.19">+</tspan><tspan dy="3.19">&#8203;</tspan>CD8<tspan font-size="7.65" dy="-3.19">+</tspan><tspan dy="3.19">&#8203;</tspan> T</text>
<text x="0" y="0" transform="translate(7.94 183.43) scale(1.03 1)" font-size="13.2" font-weight="bold" fill="#000" style="stroke:#000;stroke-width:0.45px">C</text>
<text x="83.5" y="179.8" font-size="10" text-anchor="middle" dominant-baseline="central" fill="#1a1a1a">Tmp</text>
<rect x="50.4" y="219.3" width="3.5" height="45.8" fill="#8a92ba" stroke="none" stroke-width="0"/>
<rect x="57.2" y="250.4" width="3.7" height="14.7" fill="#d48a7b" stroke="none" stroke-width="0"/>
<rect x="69.1" y="204.6" width="3.3" height="60.5" fill="#8a92ba" stroke="none" stroke-width="0"/>
<rect x="75.6" y="246.3" width="3.6" height="18.8" fill="#d48a7b" stroke="none" stroke-width="0"/>
<rect x="87.1" y="231.6" width="3.6" height="33.5" fill="#8a92ba" stroke="none" stroke-width="0"/>
<rect x="93.6" y="251.2" width="3.9" height="13.9" fill="#d48a7b" stroke="none" stroke-width="0"/>
<rect x="105.4" y="249.2" width="3.6" height="15.9" fill="#8a92ba" stroke="none" stroke-width="0"/>
<rect x="112.7" y="261" width="3.6" height="4.1" fill="#d48a7b" stroke="none" stroke-width="0"/>
<line x1="47.5" y1="190.4" x2="47.5" y2="265.73" stroke="#1a1a1a" stroke-width="1.25" />
<line x1="46.88" y1="265.1" x2="119.3" y2="265.1" stroke="#1a1a1a" stroke-width="1.25" />
<line x1="44.3" y1="193.5" x2="47.5" y2="193.5" stroke="#1a1a1a" stroke-width="1.12" />
<text x="0" y="0" transform="translate(40.9 193.5) scale(0.92 1)" font-size="8.2" text-anchor="end" dominant-baseline="central" fill="#2a2a2a" style="stroke-width:0.18px">30</text>
<line x1="44.3" y1="217.4" x2="47.5" y2="217.4" stroke="#1a1a1a" stroke-width="1.12" />
<text x="0" y="0" transform="translate(40.9 217.4) scale(0.92 1)" font-size="8.2" text-anchor="end" dominant-baseline="central" fill="#2a2a2a" style="stroke-width:0.18px">20</text>
<line x1="44.3" y1="241.3" x2="47.5" y2="241.3" stroke="#1a1a1a" stroke-width="1.12" />
<text x="0" y="0" transform="translate(40.9 241.3) scale(0.92 1)" font-size="8.2" text-anchor="end" dominant-baseline="central" fill="#2a2a2a" style="stroke-width:0.18px">10</text>
<line x1="44.3" y1="265.1" x2="47.5" y2="265.1" stroke="#1a1a1a" stroke-width="1.12" />
<text x="0" y="0" transform="translate(40.9 265.1) scale(0.92 1)" font-size="8.2" text-anchor="end" dominant-baseline="central" fill="#2a2a2a" style="stroke-width:0.18px">0</text>
<line x1="55.7" y1="265.1" x2="55.7" y2="268.3" stroke="#1a1a1a" stroke-width="1.12" />
<line x1="74.3" y1="265.1" x2="74.3" y2="268.3" stroke="#1a1a1a" stroke-width="1.12" />
<line x1="92.3" y1="265.1" x2="92.3" y2="268.3" stroke="#1a1a1a" stroke-width="1.12" />
<line x1="110.3" y1="265.1" x2="110.3" y2="268.3" stroke="#1a1a1a" stroke-width="1.12" />
<line x1="52.2" y1="216" x2="52.2" y2="223.5" stroke="#1e3b7d" stroke-width="0.8" />
<line x1="51" y1="216" x2="53.4" y2="216" stroke="#1e3b7d" stroke-width="0.8" />
<line x1="51" y1="223.5" x2="53.4" y2="223.5" stroke="#1e3b7d" stroke-width="0.8" />
<circle cx="51.1" cy="214.1" r="1.46" fill="#1e3b7d"/>
<circle cx="53.1" cy="211.2" r="1.46" fill="#1e3b7d"/>
<circle cx="51.8" cy="223.4" r="1.46" fill="#1e3b7d"/>
<circle cx="51.4" cy="225.9" r="1.46" fill="#1e3b7d"/>
<circle cx="52.4" cy="222.3" r="1.46" fill="#1e3b7d"/>
<line x1="59" y1="247.5" x2="59" y2="253.5" stroke="#b00c2a" stroke-width="0.8" />
<line x1="57.8" y1="247.5" x2="60.2" y2="247.5" stroke="#b00c2a" stroke-width="0.8" />
<line x1="57.8" y1="253.5" x2="60.2" y2="253.5" stroke="#b00c2a" stroke-width="0.8" />
<circle cx="58.3" cy="246.3" r="1.57" fill="#b00c2a"/>
<circle cx="59.9" cy="246.8" r="1.57" fill="#b00c2a"/>
<circle cx="58.8" cy="252" r="1.57" fill="#b00c2a"/>
<circle cx="59.3" cy="255.3" r="1.57" fill="#b00c2a"/>
<circle cx="58" cy="248.5" r="1.57" fill="#b00c2a"/>
<line x1="70.8" y1="202.5" x2="70.8" y2="206" stroke="#1e3b7d" stroke-width="0.8" />
<line x1="69.6" y1="202.5" x2="72" y2="202.5" stroke="#1e3b7d" stroke-width="0.8" />
<line x1="69.6" y1="206" x2="72" y2="206" stroke="#1e3b7d" stroke-width="0.8" />
<circle cx="69.7" cy="199.7" r="1.46" fill="#1e3b7d"/>
<circle cx="69.4" cy="205.1" r="1.46" fill="#1e3b7d"/>
<circle cx="71.9" cy="205.1" r="1.46" fill="#1e3b7d"/>
<line x1="77.4" y1="240" x2="77.4" y2="252" stroke="#b00c2a" stroke-width="0.8" />
<line x1="76.2" y1="240" x2="78.6" y2="240" stroke="#b00c2a" stroke-width="0.8" />
<line x1="76.2" y1="252" x2="78.6" y2="252" stroke="#b00c2a" stroke-width="0.8" />
<rect x="74.95" y="235.15" width="2.7" height="2.7" fill="#b00c2a"/>
<rect x="77.05" y="237.25" width="2.7" height="2.7" fill="#b00c2a"/>
<rect x="74.95" y="244.45" width="2.7" height="2.7" fill="#b00c2a"/>
<rect x="77.05" y="244.95" width="2.7" height="2.7" fill="#b00c2a"/>
<rect x="74.65" y="247.85" width="2.7" height="2.7" fill="#b00c2a"/>
<rect x="75.95" y="253.15" width="2.7" height="2.7" fill="#b00c2a"/>
<circle cx="87.7" cy="229.1" r="1.46" fill="#1e3b7d"/>
<circle cx="89" cy="231.6" r="1.46" fill="#1e3b7d"/>
<circle cx="89.9" cy="232.4" r="1.46" fill="#1e3b7d"/>
<circle cx="94.8" cy="250.4" r="1.57" fill="#b00c2a"/>
<circle cx="96.4" cy="249.6" r="1.57" fill="#b00c2a"/>
<circle cx="95.2" cy="252.3" r="1.57" fill="#b00c2a"/>
<circle cx="95.8" cy="251" r="1.57" fill="#b00c2a"/>
<circle cx="106.2" cy="249.6" r="1.46" fill="#1e3b7d"/>
<circle cx="108.3" cy="246.3" r="1.46" fill="#1e3b7d"/>
<circle cx="107" cy="247.9" r="1.46" fill="#1e3b7d"/>
<circle cx="113.6" cy="260.5" r="1.57" fill="#b00c2a"/>
<circle cx="115.5" cy="261" r="1.57" fill="#b00c2a"/>
<circle cx="114.5" cy="261.5" r="1.57" fill="#b00c2a"/>
<line x1="49.5" y1="205.9" x2="59.1" y2="205.9" stroke="#1a1a1a" stroke-width="1.25" />
<circle cx="50.17" cy="203.1" r="0.9" fill="#3a3a3a"/>
<circle cx="52.92" cy="203.1" r="0.9" fill="#3a3a3a"/>
<circle cx="55.67" cy="203.1" r="0.9" fill="#3a3a3a"/>
<circle cx="58.42" cy="203.1" r="0.9" fill="#3a3a3a"/>
<line x1="71" y1="192.8" x2="79.7" y2="192.8" stroke="#1a1a1a" stroke-width="1.25" />
<circle cx="71.17" cy="190.2" r="0.9" fill="#3a3a3a"/>
<circle cx="73.92" cy="190.2" r="0.9" fill="#3a3a3a"/>
<circle cx="76.67" cy="190.2" r="0.9" fill="#3a3a3a"/>
<circle cx="79.42" cy="190.2" r="0.9" fill="#3a3a3a"/>
<line x1="88.2" y1="222.9" x2="98" y2="222.9" stroke="#1a1a1a" stroke-width="1.25" />
<circle cx="88.97" cy="220.1" r="0.9" fill="#3a3a3a"/>
<circle cx="91.72" cy="220.1" r="0.9" fill="#3a3a3a"/>
<circle cx="94.47" cy="220.1" r="0.9" fill="#3a3a3a"/>
<circle cx="97.22" cy="220.1" r="0.9" fill="#3a3a3a"/>
<line x1="105" y1="239.4" x2="118.5" y2="239.4" stroke="#1a1a1a" stroke-width="1.25" />
<circle cx="108.95" cy="236.8" r="0.9" fill="#3a3a3a"/>
<circle cx="111.7" cy="236.8" r="0.9" fill="#3a3a3a"/>
<circle cx="114.45" cy="236.8" r="0.9" fill="#3a3a3a"/>
<text x="55.7" y="275.3" font-size="7.9" text-anchor="middle" dominant-baseline="central" fill="#2a2a2a" textLength="15.6" lengthAdjust="spacingAndGlyphs" style="stroke-width:0.2px">MLN</text>
<text x="74.3" y="275.3" font-size="7.9" text-anchor="middle" dominant-baseline="central" fill="#2a2a2a" textLength="11.8" lengthAdjust="spacingAndGlyphs" style="stroke-width:0.2px">SPL</text>
<text x="92.5" y="275.3" font-size="7.9" text-anchor="middle" dominant-baseline="central" fill="#2a2a2a" textLength="14.2" lengthAdjust="spacingAndGlyphs" style="stroke-width:0.2px">Liver</text>
<text x="112.5" y="275.3" font-size="7.9" text-anchor="middle" dominant-baseline="central" fill="#2a2a2a" textLength="18.8" lengthAdjust="spacingAndGlyphs" style="stroke-width:0.2px">Colon</text>
<text x="23" y="227.1" font-size="10.62" text-anchor="middle" dominant-baseline="central" fill="#222" textLength="75" lengthAdjust="spacingAndGlyphs" transform="rotate(-90 23 227.1)">%CD39<tspan font-size="7.65" dy="-3.19">-</tspan><tspan dy="3.19">&#8203;</tspan>Ly108<tspan font-size="7.65" dy="-3.19">+</tspan><tspan dy="3.19">&#8203;</tspan>CD8<tspan font-size="7.65" dy="-3.19">+</tspan><tspan dy="3.19">&#8203;</tspan> T</text>
<text x="0" y="0" transform="translate(129.39 183.33) scale(1.14 1)" font-size="13.2" font-weight="bold" fill="#000" style="stroke:#000;stroke-width:0.45px">D</text>
<text x="211.6" y="179" font-size="10" text-anchor="middle" dominant-baseline="central" fill="#1a1a1a">Teff</text>
<rect x="178.2" y="251.2" width="3.6" height="13.6" fill="#8a92ba" stroke="none" stroke-width="0"/>
<rect x="184.7" y="263.3" width="4.1" height="1.5" fill="#d48a7b" stroke="none" stroke-width="0"/>
<rect x="196.2" y="211.2" width="3.7" height="53.6" fill="#8a92ba" stroke="none" stroke-width="0"/>
<rect x="203.2" y="245.5" width="3.6" height="19.3" fill="#d48a7b" stroke="none" stroke-width="0"/>
<rect x="214.5" y="259.4" width="3.2" height="5.4" fill="#8a92ba" stroke="none" stroke-width="0"/>
<rect x="221.2" y="261.8" width="3.6" height="3" fill="#d48a7b" stroke="none" stroke-width="0"/>
<rect x="232.9" y="262.6" width="3.3" height="2.2" fill="#8a92ba" stroke="none" stroke-width="0"/>
<rect x="239.5" y="261.8" width="3.6" height="3" fill="#d48a7b" stroke="none" stroke-width="0"/>
<line x1="173.6" y1="190.7" x2="173.6" y2="265.43" stroke="#1a1a1a" stroke-width="1.25" />
<line x1="172.97" y1="264.8" x2="249.6" y2="264.8" stroke="#1a1a1a" stroke-width="1.25" />
<line x1="170.4" y1="192.8" x2="173.6" y2="192.8" stroke="#1a1a1a" stroke-width="1.12" />
<text x="0" y="0" transform="translate(167 192.8) scale(0.92 1)" font-size="8.2" text-anchor="end" dominant-baseline="central" fill="#2a2a2a" style="stroke-width:0.18px">40</text>
<line x1="170.4" y1="210.8" x2="173.6" y2="210.8" stroke="#1a1a1a" stroke-width="1.12" />
<text x="0" y="0" transform="translate(167 210.8) scale(0.92 1)" font-size="8.2" text-anchor="end" dominant-baseline="central" fill="#2a2a2a" style="stroke-width:0.18px">30</text>
<line x1="170.4" y1="228.8" x2="173.6" y2="228.8" stroke="#1a1a1a" stroke-width="1.12" />
<text x="0" y="0" transform="translate(167 228.8) scale(0.92 1)" font-size="8.2" text-anchor="end" dominant-baseline="central" fill="#2a2a2a" style="stroke-width:0.18px">20</text>
<line x1="170.4" y1="246.8" x2="173.6" y2="246.8" stroke="#1a1a1a" stroke-width="1.12" />
<text x="0" y="0" transform="translate(167 246.8) scale(0.92 1)" font-size="8.2" text-anchor="end" dominant-baseline="central" fill="#2a2a2a" style="stroke-width:0.18px">10</text>
<line x1="170.4" y1="264.8" x2="173.6" y2="264.8" stroke="#1a1a1a" stroke-width="1.12" />
<text x="0" y="0" transform="translate(167 264.8) scale(0.92 1)" font-size="8.2" text-anchor="end" dominant-baseline="central" fill="#2a2a2a" style="stroke-width:0.18px">0</text>
<line x1="183.3" y1="264.8" x2="183.3" y2="268" stroke="#1a1a1a" stroke-width="1.12" />
<line x1="201.5" y1="264.8" x2="201.5" y2="268" stroke="#1a1a1a" stroke-width="1.12" />
<line x1="219.6" y1="264.8" x2="219.6" y2="268" stroke="#1a1a1a" stroke-width="1.12" />
<line x1="238" y1="264.8" x2="238" y2="268" stroke="#1a1a1a" stroke-width="1.12" />
<circle cx="179" cy="247.9" r="1.46" fill="#1e3b7d"/>
<circle cx="180.6" cy="249.2" r="1.46" fill="#1e3b7d"/>
<circle cx="180.1" cy="251.2" r="1.46" fill="#1e3b7d"/>
<circle cx="179" cy="251.7" r="1.46" fill="#1e3b7d"/>
<circle cx="181.1" cy="250.4" r="1.46" fill="#1e3b7d"/>
<circle cx="186" cy="264" r="1.51" fill="#b00c2a"/>
<circle cx="187.7" cy="264" r="1.51" fill="#b00c2a"/>
<line x1="198" y1="208.5" x2="198" y2="213.5" stroke="#1e3b7d" stroke-width="0.8" />
<line x1="196.8" y1="208.5" x2="199.2" y2="208.5" stroke="#1e3b7d" stroke-width="0.8" />
<line x1="196.8" y1="213.5" x2="199.2" y2="213.5" stroke="#1e3b7d" stroke-width="0.8" />
<circle cx="197" cy="207.1" r="1.46" fill="#1e3b7d"/>
<circle cx="199.1" cy="209.2" r="1.46" fill="#1e3b7d"/>
<circle cx="197.5" cy="211.2" r="1.46" fill="#1e3b7d"/>
<circle cx="198.1" cy="217.4" r="1.46" fill="#1e3b7d"/>
<line x1="205" y1="240.5" x2="205" y2="250.5" stroke="#b00c2a" stroke-width="0.8" />
<line x1="203.8" y1="240.5" x2="206.2" y2="240.5" stroke="#b00c2a" stroke-width="0.8" />
<line x1="203.8" y1="250.5" x2="206.2" y2="250.5" stroke="#b00c2a" stroke-width="0.8" />
<circle cx="204" cy="235.2" r="1.51" fill="#b00c2a"/>
<circle cx="206" cy="234" r="1.51" fill="#b00c2a"/>
<circle cx="204.8" cy="243" r="1.51" fill="#b00c2a"/>
<circle cx="203.8" cy="246" r="1.51" fill="#b00c2a"/>
<circle cx="205" cy="252.5" r="1.51" fill="#b00c2a"/>
<circle cx="204.8" cy="259.4" r="1.51" fill="#b00c2a"/>
<circle cx="205" cy="239" r="1.51" fill="#b00c2a"/>
<line x1="216.3" y1="254" x2="216.3" y2="262" stroke="#1e3b7d" stroke-width="0.8" />
<line x1="215.1" y1="254" x2="217.5" y2="254" stroke="#1e3b7d" stroke-width="0.8" />
<line x1="215.1" y1="262" x2="217.5" y2="262" stroke="#1e3b7d" stroke-width="0.8" />
<circle cx="216.1" cy="253.6" r="1.46" fill="#1e3b7d"/>
<circle cx="217.4" cy="253.3" r="1.46" fill="#1e3b7d"/>
<circle cx="216.3" cy="259.4" r="1.46" fill="#1e3b7d"/>
<circle cx="216.1" cy="261.8" r="1.46" fill="#1e3b7d"/>
<line x1="223.1" y1="258.1" x2="223.1" y2="264" stroke="#b00c2a" stroke-width="0.8" />
<line x1="221.5" y1="258.1" x2="224.7" y2="258.1" stroke="#b00c2a" stroke-width="0.8" />
<line x1="221.5" y1="264" x2="224.7" y2="264" stroke="#b00c2a" stroke-width="0.8" />
<circle cx="222.3" cy="258.1" r="1.51" fill="#b00c2a"/>
<circle cx="224" cy="258.1" r="1.51" fill="#b00c2a"/>
<circle cx="223.1" cy="264" r="1.51" fill="#b00c2a"/>
<circle cx="234" cy="262.1" r="1.46" fill="#1e3b7d"/>
<circle cx="235.4" cy="262.6" r="1.46" fill="#1e3b7d"/>
<rect x="238.95" y="260.15" width="2.7" height="2.7" fill="#b00c2a"/>
<rect x="240.55" y="259.65" width="2.7" height="2.7" fill="#b00c2a"/>
<rect x="239.75" y="262.65" width="2.7" height="2.7" fill="#b00c2a"/>
<line x1="177.4" y1="240.9" x2="189.3" y2="240.9" stroke="#1a1a1a" stroke-width="1.25" />
<circle cx="180.55" cy="238.1" r="0.9" fill="#3a3a3a"/>
<circle cx="183.3" cy="238.1" r="0.9" fill="#3a3a3a"/>
<circle cx="186.05" cy="238.1" r="0.9" fill="#3a3a3a"/>
<line x1="194.5" y1="199.7" x2="208.7" y2="199.7" stroke="#1a1a1a" stroke-width="1.25" />
<circle cx="197.47" cy="196.9" r="0.9" fill="#3a3a3a"/>
<circle cx="200.22" cy="196.9" r="0.9" fill="#3a3a3a"/>
<circle cx="202.97" cy="196.9" r="0.9" fill="#3a3a3a"/>
<circle cx="205.72" cy="196.9" r="0.9" fill="#3a3a3a"/>
<text x="183.3" y="275.3" font-size="7.9" text-anchor="middle" dominant-baseline="central" fill="#2a2a2a" textLength="15.6" lengthAdjust="spacingAndGlyphs" style="stroke-width:0.2px">MLN</text>
<text x="201.5" y="275.3" font-size="7.9" text-anchor="middle" dominant-baseline="central" fill="#2a2a2a" textLength="11.8" lengthAdjust="spacingAndGlyphs" style="stroke-width:0.2px">SPL</text>
<text x="219.8" y="275.3" font-size="7.9" text-anchor="middle" dominant-baseline="central" fill="#2a2a2a" textLength="14.2" lengthAdjust="spacingAndGlyphs" style="stroke-width:0.2px">Liver</text>
<text x="240.6" y="275.3" font-size="7.9" text-anchor="middle" dominant-baseline="central" fill="#2a2a2a" textLength="18.8" lengthAdjust="spacingAndGlyphs" style="stroke-width:0.2px">Colon</text>
<text x="150.9" y="227.3" font-size="10.62" text-anchor="middle" dominant-baseline="central" fill="#222" textLength="78.9" lengthAdjust="spacingAndGlyphs" transform="rotate(-90 150.9 227.3)">%CD39<tspan font-size="7.65" dy="-3.19">+</tspan><tspan dy="3.19">&#8203;</tspan>Ly108<tspan font-size="7.65" dy="-3.19">+</tspan><tspan dy="3.19">&#8203;</tspan>CD8<tspan font-size="7.65" dy="-3.19">+</tspan><tspan dy="3.19">&#8203;</tspan> T</text>
<text x="0" y="0" transform="translate(289.32 183.33) scale(0.88 1)" font-size="13.2" font-weight="bold" fill="#000" style="stroke:#000;stroke-width:0.45px">E</text>
<text x="372.2" y="179.5" font-size="10" text-anchor="middle" dominant-baseline="central" fill="#1a1a1a">Tex</text>
<rect x="342" y="228.8" width="3.4" height="36.2" fill="#8a92ba" stroke="none" stroke-width="0"/>
<rect x="348.9" y="213.5" width="3.7" height="51.5" fill="#d48a7b" stroke="none" stroke-width="0"/>
<rect x="360.3" y="235" width="3.5" height="30" fill="#8a92ba" stroke="none" stroke-width="0"/>
<rect x="366.9" y="214.6" width="3.9" height="50.4" fill="#d48a7b" stroke="none" stroke-width="0"/>
<rect x="378.5" y="212.7" width="3.3" height="52.3" fill="#8a92ba" stroke="none" stroke-width="0"/>
<rect x="385.4" y="208" width="3.8" height="57" fill="#d48a7b" stroke="none" stroke-width="0"/>
<rect x="396.7" y="204.5" width="3.5" height="60.5" fill="#8a92ba" stroke="none" stroke-width="0"/>
<rect x="403.4" y="199.1" width="3.5" height="65.9" fill="#d48a7b" stroke="none" stroke-width="0"/>
<line x1="334.9" y1="190.4" x2="334.9" y2="265.62" stroke="#1a1a1a" stroke-width="1.25" />
<line x1="334.27" y1="265" x2="409.1" y2="265" stroke="#1a1a1a" stroke-width="1.25" />
<line x1="331.7" y1="193" x2="334.9" y2="193" stroke="#1a1a1a" stroke-width="1.12" />
<text x="0" y="0" transform="translate(328.3 193) scale(0.92 1)" font-size="8.2" text-anchor="end" dominant-baseline="central" fill="#2a2a2a" style="stroke-width:0.18px">100</text>
<line x1="331.7" y1="207.4" x2="334.9" y2="207.4" stroke="#1a1a1a" stroke-width="1.12" />
<text x="0" y="0" transform="translate(328.3 207.4) scale(0.92 1)" font-size="8.2" text-anchor="end" dominant-baseline="central" fill="#2a2a2a" style="stroke-width:0.18px">80</text>
<line x1="331.7" y1="221.8" x2="334.9" y2="221.8" stroke="#1a1a1a" stroke-width="1.12" />
<text x="0" y="0" transform="translate(328.3 221.8) scale(0.92 1)" font-size="8.2" text-anchor="end" dominant-baseline="central" fill="#2a2a2a" style="stroke-width:0.18px">60</text>
<line x1="331.7" y1="236.2" x2="334.9" y2="236.2" stroke="#1a1a1a" stroke-width="1.12" />
<text x="0" y="0" transform="translate(328.3 236.2) scale(0.92 1)" font-size="8.2" text-anchor="end" dominant-baseline="central" fill="#2a2a2a" style="stroke-width:0.18px">40</text>
<line x1="331.7" y1="250.6" x2="334.9" y2="250.6" stroke="#1a1a1a" stroke-width="1.12" />
<text x="0" y="0" transform="translate(328.3 250.6) scale(0.92 1)" font-size="8.2" text-anchor="end" dominant-baseline="central" fill="#2a2a2a" style="stroke-width:0.18px">20</text>
<line x1="331.7" y1="265" x2="334.9" y2="265" stroke="#1a1a1a" stroke-width="1.12" />
<text x="0" y="0" transform="translate(328.3 265) scale(0.92 1)" font-size="8.2" text-anchor="end" dominant-baseline="central" fill="#2a2a2a" style="stroke-width:0.18px">0</text>
<line x1="347.4" y1="265" x2="347.4" y2="268.2" stroke="#1a1a1a" stroke-width="1.12" />
<line x1="365.4" y1="265" x2="365.4" y2="268.2" stroke="#1a1a1a" stroke-width="1.12" />
<line x1="383.4" y1="265" x2="383.4" y2="268.2" stroke="#1a1a1a" stroke-width="1.12" />
<line x1="401.8" y1="265" x2="401.8" y2="268.2" stroke="#1a1a1a" stroke-width="1.12" />
<line x1="333" y1="200.2" x2="334.9" y2="200.2" stroke="#1a1a1a" stroke-width="0.9" />
<line x1="333" y1="214.6" x2="334.9" y2="214.6" stroke="#1a1a1a" stroke-width="0.9" />
<line x1="333" y1="229" x2="334.9" y2="229" stroke="#1a1a1a" stroke-width="0.9" />
<line x1="333" y1="243.4" x2="334.9" y2="243.4" stroke="#1a1a1a" stroke-width="0.9" />
<line x1="333" y1="257.8" x2="334.9" y2="257.8" stroke="#1a1a1a" stroke-width="0.9" />
<circle cx="343.1" cy="223.9" r="1.46" fill="#1e3b7d"/>
<circle cx="343.8" cy="226.5" r="1.46" fill="#1e3b7d"/>
<circle cx="344.9" cy="226.2" r="1.46" fill="#1e3b7d"/>
<circle cx="342.8" cy="228.5" r="1.46" fill="#1e3b7d"/>
<circle cx="343.8" cy="233.2" r="1.46" fill="#1e3b7d"/>
<circle cx="351.5" cy="209.2" r="1.57" fill="#b00c2a"/>
<circle cx="350.5" cy="211.9" r="1.57" fill="#b00c2a"/>
<circle cx="349.5" cy="213.5" r="1.57" fill="#b00c2a"/>
<circle cx="351.5" cy="214.2" r="1.57" fill="#b00c2a"/>
<circle cx="350" cy="215" r="1.57" fill="#b00c2a"/>
<circle cx="362" cy="227.3" r="1.46" fill="#1e3b7d"/>
<circle cx="361.8" cy="231.6" r="1.46" fill="#1e3b7d"/>
<circle cx="361.5" cy="235" r="1.46" fill="#1e3b7d"/>
<circle cx="362.3" cy="238.8" r="1.46" fill="#1e3b7d"/>
<line x1="368.9" y1="210" x2="368.9" y2="219" stroke="#b00c2a" stroke-width="0.8" />
<line x1="367.7" y1="210" x2="370.1" y2="210" stroke="#b00c2a" stroke-width="0.8" />
<line x1="367.7" y1="219" x2="370.1" y2="219" stroke="#b00c2a" stroke-width="0.8" />
<circle cx="368.2" cy="205" r="1.51" fill="#b00c2a"/>
<circle cx="369.5" cy="204.5" r="1.51" fill="#b00c2a"/>
<circle cx="368.9" cy="210.8" r="1.51" fill="#b00c2a"/>
<circle cx="367.7" cy="213.5" r="1.51" fill="#b00c2a"/>
<circle cx="369.5" cy="215" r="1.51" fill="#b00c2a"/>
<circle cx="368.2" cy="218" r="1.51" fill="#b00c2a"/>
<circle cx="369.5" cy="219.2" r="1.51" fill="#b00c2a"/>
<circle cx="367.7" cy="219.2" r="1.51" fill="#b00c2a"/>
<circle cx="379.2" cy="211.9" r="1.46" fill="#1e3b7d"/>
<circle cx="380.5" cy="212.7" r="1.46" fill="#1e3b7d"/>
<circle cx="381.2" cy="214.2" r="1.46" fill="#1e3b7d"/>
<circle cx="379.7" cy="215" r="1.46" fill="#1e3b7d"/>
<rect x="384.85" y="202.15" width="2.7" height="2.7" fill="#b00c2a"/>
<rect x="386.35" y="201.85" width="2.7" height="2.7" fill="#b00c2a"/>
<rect x="386.85" y="203.65" width="2.7" height="2.7" fill="#b00c2a"/>
<rect x="385.85" y="208.25" width="2.7" height="2.7" fill="#b00c2a"/>
<rect x="385.85" y="211.35" width="2.7" height="2.7" fill="#b00c2a"/>
<rect x="385.85" y="215.15" width="2.7" height="2.7" fill="#b00c2a"/>
<circle cx="398.2" cy="204" r="1.46" fill="#1e3b7d"/>
<circle cx="399.2" cy="203.2" r="1.46" fill="#1e3b7d"/>
<circle cx="398.5" cy="205" r="1.46" fill="#1e3b7d"/>
<rect x="403.1" y="197.2" width="2.81" height="2.81" fill="#b00c2a"/>
<rect x="404.4" y="197" width="2.81" height="2.81" fill="#b00c2a"/>
<rect x="403.6" y="198.4" width="2.81" height="2.81" fill="#b00c2a"/>
<line x1="341.2" y1="200.7" x2="350.8" y2="200.7" stroke="#1a1a1a" stroke-width="1.25" />
<circle cx="343.25" cy="197.7" r="0.9" fill="#3a3a3a"/>
<circle cx="346" cy="197.7" r="0.9" fill="#3a3a3a"/>
<circle cx="348.75" cy="197.7" r="0.9" fill="#3a3a3a"/>
<line x1="357.7" y1="200.4" x2="369.5" y2="200.4" stroke="#1a1a1a" stroke-width="1.25" />
<circle cx="359.48" cy="197" r="0.9" fill="#3a3a3a"/>
<circle cx="362.23" cy="197" r="0.9" fill="#3a3a3a"/>
<circle cx="364.98" cy="197" r="0.9" fill="#3a3a3a"/>
<circle cx="367.73" cy="197" r="0.9" fill="#3a3a3a"/>
<text x="347.3" y="275.4" font-size="7.9" text-anchor="middle" dominant-baseline="central" fill="#2a2a2a" textLength="15.6" lengthAdjust="spacingAndGlyphs" style="stroke-width:0.2px">MLN</text>
<text x="365.2" y="275.4" font-size="7.9" text-anchor="middle" dominant-baseline="central" fill="#2a2a2a" textLength="11.8" lengthAdjust="spacingAndGlyphs" style="stroke-width:0.2px">SPL</text>
<text x="383.4" y="275.4" font-size="7.9" text-anchor="middle" dominant-baseline="central" fill="#2a2a2a" textLength="14.2" lengthAdjust="spacingAndGlyphs" style="stroke-width:0.2px">Liver</text>
<text x="404.5" y="275.4" font-size="7.9" text-anchor="middle" dominant-baseline="central" fill="#2a2a2a" textLength="18.8" lengthAdjust="spacingAndGlyphs" style="stroke-width:0.2px">Colon</text>
<text x="306.8" y="227" font-size="10.62" text-anchor="middle" dominant-baseline="central" fill="#222" textLength="76" lengthAdjust="spacingAndGlyphs" transform="rotate(-90 306.8 227)">%CD39<tspan font-size="7.65" dy="-3.19">+</tspan><tspan dy="3.19">&#8203;</tspan>Ly108<tspan font-size="7.65" dy="-3.19">-</tspan><tspan dy="3.19">&#8203;</tspan>CD8<tspan font-size="7.65" dy="-3.19">+</tspan><tspan dy="3.19">&#8203;</tspan> T</text>
<circle cx="423.7" cy="196.5" r="2.16" fill="#1e3b7d"/>
<text x="428.8" y="193.1" font-size="6.7" text-anchor="start" dominant-baseline="central" fill="#2a2a2a" textLength="22.5" lengthAdjust="spacingAndGlyphs" style="stroke-width:0.16px">anti-IL-2</text>
<text x="428.8" y="200.6" font-size="6.7" text-anchor="start" dominant-baseline="central" fill="#2a2a2a" textLength="33.5" lengthAdjust="spacingAndGlyphs" style="stroke-width:0.16px">(JES6-1A12)</text>
<rect x="421.22" y="207.92" width="4.97" height="4.97" fill="#b00c2a"/>
<text x="428.8" y="210.4" font-size="6.7" text-anchor="start" dominant-baseline="central" fill="#2a2a2a" textLength="28.9" lengthAdjust="spacingAndGlyphs" style="stroke-width:0.16px">Tacrolimus</text>
<text x="0" y="0" transform="translate(8.69 297.33) scale(0.91 1)" font-size="13.2" font-weight="bold" fill="#000" style="stroke:#000;stroke-width:0.45px">F</text>
<text x="83.4" y="293.8" font-size="10" text-anchor="middle" dominant-baseline="central" fill="#1a1a1a">Tmp</text>
<rect x="53.1" y="366.2" width="8.1" height="14.4" fill="#f3c98e" stroke="none" stroke-width="0"/>
<rect x="67" y="342.2" width="8.6" height="38.4" fill="#8a92ba" stroke="none" stroke-width="0"/>
<rect x="91.2" y="359.2" width="8.5" height="21.4" fill="#f3c98e" stroke="none" stroke-width="0"/>
<rect x="105.4" y="325.7" width="8.5" height="54.9" fill="#8a92ba" stroke="none" stroke-width="0"/>
<line x1="47.4" y1="306.5" x2="47.4" y2="381.23" stroke="#1a1a1a" stroke-width="1.25" />
<line x1="46.77" y1="380.6" x2="119.6" y2="380.6" stroke="#1a1a1a" stroke-width="1.25" />
<line x1="44.2" y1="309.5" x2="47.4" y2="309.5" stroke="#1a1a1a" stroke-width="1.12" />
<text x="0" y="0" transform="translate(40.8 309.5) scale(0.92 1)" font-size="8.2" text-anchor="end" dominant-baseline="central" fill="#2a2a2a" style="stroke-width:0.18px">50</text>
<line x1="44.2" y1="323.7" x2="47.4" y2="323.7" stroke="#1a1a1a" stroke-width="1.12" />
<text x="0" y="0" transform="translate(40.8 323.7) scale(0.92 1)" font-size="8.2" text-anchor="end" dominant-baseline="central" fill="#2a2a2a" style="stroke-width:0.18px">40</text>
<line x1="44.2" y1="337.9" x2="47.4" y2="337.9" stroke="#1a1a1a" stroke-width="1.12" />
<text x="0" y="0" transform="translate(40.8 337.9) scale(0.92 1)" font-size="8.2" text-anchor="end" dominant-baseline="central" fill="#2a2a2a" style="stroke-width:0.18px">30</text>
<line x1="44.2" y1="352.3" x2="47.4" y2="352.3" stroke="#1a1a1a" stroke-width="1.12" />
<text x="0" y="0" transform="translate(40.8 352.3) scale(0.92 1)" font-size="8.2" text-anchor="end" dominant-baseline="central" fill="#2a2a2a" style="stroke-width:0.18px">20</text>
<line x1="44.2" y1="366.5" x2="47.4" y2="366.5" stroke="#1a1a1a" stroke-width="1.12" />
<text x="0" y="0" transform="translate(40.8 366.5) scale(0.92 1)" font-size="8.2" text-anchor="end" dominant-baseline="central" fill="#2a2a2a" style="stroke-width:0.18px">10</text>
<line x1="44.2" y1="380.6" x2="47.4" y2="380.6" stroke="#1a1a1a" stroke-width="1.12" />
<text x="0" y="0" transform="translate(40.8 380.6) scale(0.92 1)" font-size="8.2" text-anchor="end" dominant-baseline="central" fill="#2a2a2a" style="stroke-width:0.18px">0</text>
<line x1="64.2" y1="380.6" x2="64.2" y2="383.8" stroke="#1a1a1a" stroke-width="1.12" />
<line x1="102.1" y1="380.6" x2="102.1" y2="383.8" stroke="#1a1a1a" stroke-width="1.12" />
<line x1="57.2" y1="364" x2="57.2" y2="367.5" stroke="#e38b16" stroke-width="0.8" />
<line x1="55.2" y1="364" x2="59.2" y2="364" stroke="#e38b16" stroke-width="0.8" />
<line x1="55.2" y1="367.5" x2="59.2" y2="367.5" stroke="#e38b16" stroke-width="0.8" />
<circle cx="53.9" cy="365.4" r="1.57" fill="#e38b16"/>
<circle cx="56.3" cy="363.7" r="1.57" fill="#e38b16"/>
<circle cx="58.8" cy="362.9" r="1.57" fill="#e38b16"/>
<circle cx="60.4" cy="365.7" r="1.57" fill="#e38b16"/>
<circle cx="57.7" cy="367.3" r="1.57" fill="#e38b16"/>
<circle cx="55" cy="367" r="1.57" fill="#e38b16"/>
<line x1="71.3" y1="338.5" x2="71.3" y2="345" stroke="#1e3b7d" stroke-width="0.8" />
<line x1="69" y1="338.5" x2="73.6" y2="338.5" stroke="#1e3b7d" stroke-width="0.8" />
<line x1="69" y1="345" x2="73.6" y2="345" stroke="#1e3b7d" stroke-width="0.8" />
<circle cx="68.1" cy="339.2" r="1.51" fill="#1e3b7d"/>
<circle cx="74.3" cy="337.9" r="1.51" fill="#1e3b7d"/>
<circle cx="71.4" cy="341.7" r="1.51" fill="#1e3b7d"/>
<circle cx="71.4" cy="346.9" r="1.51" fill="#1e3b7d"/>
<line x1="95.5" y1="357" x2="95.5" y2="362" stroke="#e38b16" stroke-width="0.8" />
<line x1="93.5" y1="357" x2="97.5" y2="357" stroke="#e38b16" stroke-width="0.8" />
<line x1="93.5" y1="362" x2="97.5" y2="362" stroke="#e38b16" stroke-width="0.8" />
<circle cx="92" cy="360.2" r="1.57" fill="#e38b16"/>
<circle cx="94.8" cy="358" r="1.57" fill="#e38b16"/>
<circle cx="98" cy="358.5" r="1.57" fill="#e38b16"/>
<circle cx="93.9" cy="362.9" r="1.57" fill="#e38b16"/>
<circle cx="96.4" cy="360.5" r="1.57" fill="#e38b16"/>
<line x1="109.6" y1="321.2" x2="109.6" y2="328.6" stroke="#1e3b7d" stroke-width="0.8" />
<line x1="107.3" y1="321.2" x2="111.9" y2="321.2" stroke="#1e3b7d" stroke-width="0.8" />
<line x1="107.3" y1="328.6" x2="111.9" y2="328.6" stroke="#1e3b7d" stroke-width="0.8" />
<circle cx="106.2" cy="319.6" r="1.51" fill="#1e3b7d"/>
<circle cx="112.7" cy="318.3" r="1.51" fill="#1e3b7d"/>
<circle cx="109.5" cy="326.2" r="1.51" fill="#1e3b7d"/>
<circle cx="109.5" cy="335.1" r="1.51" fill="#1e3b7d"/>
<polyline points="53.4,333.8 53.4,329.7 71.9,329.7 71.9,333.8" stroke="#1a1a1a" stroke-width="1.2" fill="none" />
<circle cx="58.58" cy="326.9" r="0.9" fill="#3a3a3a"/>
<circle cx="61.33" cy="326.9" r="0.9" fill="#3a3a3a"/>
<circle cx="64.08" cy="326.9" r="0.9" fill="#3a3a3a"/>
<circle cx="66.83" cy="326.9" r="0.9" fill="#3a3a3a"/>
<polyline points="95.2,318 95.2,314.4 110,314.4 110,318" stroke="#1a1a1a" stroke-width="1.2" fill="none" />
<circle cx="98.47" cy="311.8" r="0.9" fill="#3a3a3a"/>
<circle cx="101.22" cy="311.8" r="0.9" fill="#3a3a3a"/>
<circle cx="103.97" cy="311.8" r="0.9" fill="#3a3a3a"/>
<circle cx="106.72" cy="311.8" r="0.9" fill="#3a3a3a"/>
<text x="64.2" y="391.4" font-size="7.9" text-anchor="middle" dominant-baseline="central" fill="#2a2a2a" textLength="15.6" lengthAdjust="spacingAndGlyphs" style="stroke-width:0.2px">MLN</text>
<text x="102.1" y="391.4" font-size="7.9" text-anchor="middle" dominant-baseline="central" fill="#2a2a2a" textLength="11.8" lengthAdjust="spacingAndGlyphs" style="stroke-width:0.2px">SPL</text>
<text x="23.5" y="343" font-size="10.62" text-anchor="middle" dominant-baseline="central" fill="#222" textLength="76.4" lengthAdjust="spacingAndGlyphs" transform="rotate(-90 23.5 343)">%CD39<tspan font-size="7.65" dy="-3.19">-</tspan><tspan dy="3.19">&#8203;</tspan>Ly108<tspan font-size="7.65" dy="-3.19">+</tspan><tspan dy="3.19">&#8203;</tspan>CD8<tspan font-size="7.65" dy="-3.19">+</tspan><tspan dy="3.19">&#8203;</tspan> T</text>
<text x="0" y="0" transform="translate(129.42 297.53) scale(1.07 1)" font-size="13.2" font-weight="bold" fill="#000" style="stroke:#000;stroke-width:0.45px">G</text>
<text x="210.2" y="293.8" font-size="10" text-anchor="middle" dominant-baseline="central" fill="#1a1a1a">Teff</text>
<rect x="179.4" y="361.3" width="8.5" height="19.9" fill="#f3c98e" stroke="none" stroke-width="0"/>
<rect x="194.1" y="335.1" width="8" height="46.1" fill="#8a92ba" stroke="none" stroke-width="0"/>
<rect x="217.3" y="351" width="8.5" height="30.2" fill="#f3c98e" stroke="none" stroke-width="0"/>
<rect x="231.7" y="339.6" width="8.2" height="41.6" fill="#8a92ba" stroke="none" stroke-width="0"/>
<line x1="173.5" y1="306.9" x2="173.5" y2="381.82" stroke="#1a1a1a" stroke-width="1.25" />
<line x1="172.88" y1="381.2" x2="245.4" y2="381.2" stroke="#1a1a1a" stroke-width="1.25" />
<line x1="170.3" y1="310.1" x2="173.5" y2="310.1" stroke="#1a1a1a" stroke-width="1.12" />
<text x="0" y="0" transform="translate(166.9 310.1) scale(0.92 1)" font-size="8.2" text-anchor="end" dominant-baseline="central" fill="#2a2a2a" style="stroke-width:0.18px">25</text>
<line x1="170.3" y1="324.5" x2="173.5" y2="324.5" stroke="#1a1a1a" stroke-width="1.12" />
<text x="0" y="0" transform="translate(166.9 324.5) scale(0.92 1)" font-size="8.2" text-anchor="end" dominant-baseline="central" fill="#2a2a2a" style="stroke-width:0.18px">20</text>
<line x1="170.3" y1="338.7" x2="173.5" y2="338.7" stroke="#1a1a1a" stroke-width="1.12" />
<text x="0" y="0" transform="translate(166.9 338.7) scale(0.92 1)" font-size="8.2" text-anchor="end" dominant-baseline="central" fill="#2a2a2a" style="stroke-width:0.18px">15</text>
<line x1="170.3" y1="352.8" x2="173.5" y2="352.8" stroke="#1a1a1a" stroke-width="1.12" />
<text x="0" y="0" transform="translate(166.9 352.8) scale(0.92 1)" font-size="8.2" text-anchor="end" dominant-baseline="central" fill="#2a2a2a" style="stroke-width:0.18px">10</text>
<line x1="170.3" y1="367" x2="173.5" y2="367" stroke="#1a1a1a" stroke-width="1.12" />
<text x="0" y="0" transform="translate(166.9 367) scale(0.92 1)" font-size="8.2" text-anchor="end" dominant-baseline="central" fill="#2a2a2a" style="stroke-width:0.18px">5</text>
<line x1="170.3" y1="381.2" x2="173.5" y2="381.2" stroke="#1a1a1a" stroke-width="1.12" />
<text x="0" y="0" transform="translate(166.9 381.2) scale(0.92 1)" font-size="8.2" text-anchor="end" dominant-baseline="central" fill="#2a2a2a" style="stroke-width:0.18px">0</text>
<line x1="190.3" y1="381.2" x2="190.3" y2="384.4" stroke="#1a1a1a" stroke-width="1.12" />
<line x1="228.7" y1="381.2" x2="228.7" y2="384.4" stroke="#1a1a1a" stroke-width="1.12" />
<circle cx="180.5" cy="357.5" r="1.57" fill="#e38b16"/>
<circle cx="183" cy="356.9" r="1.57" fill="#e38b16"/>
<circle cx="185.4" cy="356.9" r="1.57" fill="#e38b16"/>
<circle cx="187.1" cy="357.5" r="1.57" fill="#e38b16"/>
<circle cx="181.3" cy="361.8" r="1.57" fill="#e38b16"/>
<circle cx="186.2" cy="361.3" r="1.57" fill="#e38b16"/>
<line x1="197.7" y1="325.3" x2="197.7" y2="344.1" stroke="#1e3b7d" stroke-width="0.8" />
<line x1="195.4" y1="325.3" x2="200" y2="325.3" stroke="#1e3b7d" stroke-width="0.8" />
<line x1="195.4" y1="344.1" x2="200" y2="344.1" stroke="#1e3b7d" stroke-width="0.8" />
<circle cx="197.7" cy="314.7" r="1.51" fill="#1e3b7d"/>
<circle cx="197.7" cy="322.1" r="1.51" fill="#1e3b7d"/>
<circle cx="197.7" cy="347.4" r="1.51" fill="#1e3b7d"/>
<circle cx="197.7" cy="354.4" r="1.51" fill="#1e3b7d"/>
<line x1="221.5" y1="347.4" x2="221.5" y2="353.9" stroke="#e38b16" stroke-width="0.8" />
<line x1="219.5" y1="347.4" x2="223.5" y2="347.4" stroke="#e38b16" stroke-width="0.8" />
<line x1="219.5" y1="353.9" x2="223.5" y2="353.9" stroke="#e38b16" stroke-width="0.8" />
<circle cx="218.1" cy="344.5" r="1.57" fill="#e38b16"/>
<circle cx="221.4" cy="342.8" r="1.57" fill="#e38b16"/>
<circle cx="225.2" cy="343.8" r="1.57" fill="#e38b16"/>
<circle cx="218.9" cy="353.1" r="1.57" fill="#e38b16"/>
<circle cx="225.2" cy="357.2" r="1.57" fill="#e38b16"/>
<circle cx="218.1" cy="357.2" r="1.57" fill="#e38b16"/>
<line x1="235.6" y1="333.5" x2="235.6" y2="344.1" stroke="#1e3b7d" stroke-width="0.8" />
<line x1="233.3" y1="333.5" x2="237.9" y2="333.5" stroke="#1e3b7d" stroke-width="0.8" />
<line x1="233.3" y1="344.1" x2="237.9" y2="344.1" stroke="#1e3b7d" stroke-width="0.8" />
<circle cx="235.6" cy="325.7" r="1.51" fill="#1e3b7d"/>
<circle cx="235.6" cy="344.5" r="1.51" fill="#1e3b7d"/>
<circle cx="235.6" cy="349.9" r="1.51" fill="#1e3b7d"/>
<polyline points="180.9,311.4 180.9,307.4 196.1,307.4 196.1,311.4" stroke="#1a1a1a" stroke-width="1.2" fill="none" />
<circle cx="187.12" cy="305" r="0.9" fill="#3a3a3a"/>
<circle cx="189.88" cy="305" r="0.9" fill="#3a3a3a"/>
<text x="190.3" y="391.4" font-size="7.9" text-anchor="middle" dominant-baseline="central" fill="#2a2a2a" textLength="15.6" lengthAdjust="spacingAndGlyphs" style="stroke-width:0.2px">MLN</text>
<text x="228.7" y="391.4" font-size="7.9" text-anchor="middle" dominant-baseline="central" fill="#2a2a2a" textLength="11.8" lengthAdjust="spacingAndGlyphs" style="stroke-width:0.2px">SPL</text>
<text x="149.8" y="344.1" font-size="10.62" text-anchor="middle" dominant-baseline="central" fill="#222" textLength="79.4" lengthAdjust="spacingAndGlyphs" transform="rotate(-90 149.8 344.1)">%CD39<tspan font-size="7.65" dy="-3.19">+</tspan><tspan dy="3.19">&#8203;</tspan>Ly108<tspan font-size="7.65" dy="-3.19">+</tspan><tspan dy="3.19">&#8203;</tspan>CD8<tspan font-size="7.65" dy="-3.19">+</tspan><tspan dy="3.19">&#8203;</tspan> T</text>
<text x="0" y="0" transform="translate(289.14 297.33) scale(1.08 1)" font-size="13.2" font-weight="bold" fill="#000" style="stroke:#000;stroke-width:0.45px">H</text>
<text x="371.2" y="293.8" font-size="10" text-anchor="middle" dominant-baseline="central" fill="#1a1a1a">Tex</text>
<rect x="340.2" y="321.2" width="8.7" height="59.7" fill="#f3c98e" stroke="none" stroke-width="0"/>
<rect x="354.4" y="347.4" width="8.5" height="33.5" fill="#8a92ba" stroke="none" stroke-width="0"/>
<rect x="378.1" y="326.2" width="8.7" height="54.7" fill="#f3c98e" stroke="none" stroke-width="0"/>
<rect x="392.5" y="353.1" width="8.7" height="27.8" fill="#8a92ba" stroke="none" stroke-width="0"/>
<line x1="335.1" y1="306.9" x2="335.1" y2="381.52" stroke="#1a1a1a" stroke-width="1.25" />
<line x1="334.48" y1="380.9" x2="406.4" y2="380.9" stroke="#1a1a1a" stroke-width="1.25" />
<line x1="331.9" y1="309.8" x2="335.1" y2="309.8" stroke="#1a1a1a" stroke-width="1.12" />
<text x="0" y="0" transform="translate(328.5 309.8) scale(0.92 1)" font-size="8.2" text-anchor="end" dominant-baseline="central" fill="#2a2a2a" style="stroke-width:0.18px">80</text>
<line x1="331.9" y1="327.5" x2="335.1" y2="327.5" stroke="#1a1a1a" stroke-width="1.12" />
<text x="0" y="0" transform="translate(328.5 327.5) scale(0.92 1)" font-size="8.2" text-anchor="end" dominant-baseline="central" fill="#2a2a2a" style="stroke-width:0.18px">60</text>
<line x1="331.9" y1="345.4" x2="335.1" y2="345.4" stroke="#1a1a1a" stroke-width="1.12" />
<text x="0" y="0" transform="translate(328.5 345.4) scale(0.92 1)" font-size="8.2" text-anchor="end" dominant-baseline="central" fill="#2a2a2a" style="stroke-width:0.18px">40</text>
<line x1="331.9" y1="363.3" x2="335.1" y2="363.3" stroke="#1a1a1a" stroke-width="1.12" />
<text x="0" y="0" transform="translate(328.5 363.3) scale(0.92 1)" font-size="8.2" text-anchor="end" dominant-baseline="central" fill="#2a2a2a" style="stroke-width:0.18px">20</text>
<line x1="331.9" y1="380.9" x2="335.1" y2="380.9" stroke="#1a1a1a" stroke-width="1.12" />
<text x="0" y="0" transform="translate(328.5 380.9) scale(0.92 1)" font-size="8.2" text-anchor="end" dominant-baseline="central" fill="#2a2a2a" style="stroke-width:0.18px">0</text>
<line x1="351.2" y1="380.9" x2="351.2" y2="384.1" stroke="#1a1a1a" stroke-width="1.12" />
<line x1="389.2" y1="380.9" x2="389.2" y2="384.1" stroke="#1a1a1a" stroke-width="1.12" />
<line x1="344.6" y1="318" x2="344.6" y2="324.5" stroke="#e38b16" stroke-width="0.8" />
<line x1="342.6" y1="318" x2="346.6" y2="318" stroke="#e38b16" stroke-width="0.8" />
<line x1="342.6" y1="324.5" x2="346.6" y2="324.5" stroke="#e38b16" stroke-width="0.8" />
<circle cx="341.3" cy="319.6" r="1.57" fill="#e38b16"/>
<circle cx="344.6" cy="317.7" r="1.57" fill="#e38b16"/>
<circle cx="347.9" cy="317.2" r="1.57" fill="#e38b16"/>
<circle cx="341.3" cy="324.2" r="1.57" fill="#e38b16"/>
<circle cx="344.3" cy="324.8" r="1.57" fill="#e38b16"/>
<circle cx="347.9" cy="322.1" r="1.57" fill="#e38b16"/>
<circle cx="341.3" cy="329.4" r="1.57" fill="#e38b16"/>
<circle cx="347.6" cy="328.1" r="1.57" fill="#e38b16"/>
<line x1="358.5" y1="342.5" x2="358.5" y2="350" stroke="#1e3b7d" stroke-width="0.8" />
<line x1="356.2" y1="342.5" x2="360.8" y2="342.5" stroke="#1e3b7d" stroke-width="0.8" />
<line x1="356.2" y1="350" x2="360.8" y2="350" stroke="#1e3b7d" stroke-width="0.8" />
<circle cx="358.5" cy="340" r="1.51" fill="#1e3b7d"/>
<circle cx="358.5" cy="343.3" r="1.51" fill="#1e3b7d"/>
<circle cx="355.7" cy="347.7" r="1.51" fill="#1e3b7d"/>
<circle cx="361.8" cy="348.2" r="1.51" fill="#1e3b7d"/>
<circle cx="358.5" cy="347.7" r="1.51" fill="#1e3b7d"/>
<circle cx="381.4" cy="322.6" r="1.57" fill="#e38b16"/>
<circle cx="379.4" cy="325.8" r="1.57" fill="#e38b16"/>
<circle cx="383" cy="327.8" r="1.57" fill="#e38b16"/>
<circle cx="385.2" cy="328.6" r="1.57" fill="#e38b16"/>
<circle cx="380.2" cy="329.1" r="1.57" fill="#e38b16"/>
<line x1="396.8" y1="348.7" x2="396.8" y2="356" stroke="#1e3b7d" stroke-width="0.8" />
<line x1="394.5" y1="348.7" x2="399.1" y2="348.7" stroke="#1e3b7d" stroke-width="0.8" />
<line x1="394.5" y1="356" x2="399.1" y2="356" stroke="#1e3b7d" stroke-width="0.8" />
<circle cx="396.6" cy="343.3" r="1.51" fill="#1e3b7d"/>
<circle cx="393.3" cy="351.5" r="1.51" fill="#1e3b7d"/>
<circle cx="396.6" cy="352.3" r="1.51" fill="#1e3b7d"/>
<circle cx="400.2" cy="353.6" r="1.51" fill="#1e3b7d"/>
<circle cx="393.6" cy="355.2" r="1.51" fill="#1e3b7d"/>
<polyline points="342.5,313.1 342.5,309.8 361.3,309.8 361.3,313.1" stroke="#1a1a1a" stroke-width="1.2" fill="none" />
<circle cx="347.77" cy="306.9" r="0.9" fill="#3a3a3a"/>
<circle cx="350.52" cy="306.9" r="0.9" fill="#3a3a3a"/>
<circle cx="353.27" cy="306.9" r="0.9" fill="#3a3a3a"/>
<circle cx="356.02" cy="306.9" r="0.9" fill="#3a3a3a"/>
<polyline points="382.2,320.4 382.2,316.7 396.9,316.7 396.9,320.4" stroke="#1a1a1a" stroke-width="1.2" fill="none" />
<circle cx="385.38" cy="314" r="0.9" fill="#3a3a3a"/>
<circle cx="388.12" cy="314" r="0.9" fill="#3a3a3a"/>
<circle cx="390.88" cy="314" r="0.9" fill="#3a3a3a"/>
<circle cx="393.62" cy="314" r="0.9" fill="#3a3a3a"/>
<text x="351.2" y="391.4" font-size="7.9" text-anchor="middle" dominant-baseline="central" fill="#2a2a2a" textLength="15.6" lengthAdjust="spacingAndGlyphs" style="stroke-width:0.2px">MLN</text>
<text x="389.2" y="391.4" font-size="7.9" text-anchor="middle" dominant-baseline="central" fill="#2a2a2a" textLength="11.8" lengthAdjust="spacingAndGlyphs" style="stroke-width:0.2px">SPL</text>
<text x="310.5" y="343" font-size="10.62" text-anchor="middle" dominant-baseline="central" fill="#222" textLength="78" lengthAdjust="spacingAndGlyphs" transform="rotate(-90 310.5 343)">%CD39<tspan font-size="7.65" dy="-3.19">+</tspan><tspan dy="3.19">&#8203;</tspan>Ly108<tspan font-size="7.65" dy="-3.19">-</tspan><tspan dy="3.19">&#8203;</tspan>CD8<tspan font-size="7.65" dy="-3.19">+</tspan><tspan dy="3.19">&#8203;</tspan> T</text>
<rect x="420.91" y="307.51" width="5.18" height="5.18" fill="#e38b16"/>
<text x="428.8" y="309.6" font-size="7.4" text-anchor="start" dominant-baseline="central" fill="#2a2a2a" textLength="10.4" lengthAdjust="spacingAndGlyphs" style="stroke-width:0.16px">IgG</text>
<circle cx="423.7" cy="323.3" r="2.16" fill="#1e3b7d"/>
<text x="428.8" y="319.3" font-size="6.7" text-anchor="start" dominant-baseline="central" fill="#2a2a2a" textLength="22.5" lengthAdjust="spacingAndGlyphs" style="stroke-width:0.16px">anti-IL-2</text>
<text x="428.8" y="326.8" font-size="6.7" text-anchor="start" dominant-baseline="central" fill="#2a2a2a" textLength="33.5" lengthAdjust="spacingAndGlyphs" style="stroke-width:0.16px">(JES6-1A12)</text>
<text x="0" y="0" transform="translate(8.31 413.63) scale(1.01 1)" font-size="13.2" font-weight="bold" fill="#000" style="stroke:#000;stroke-width:0.45px">I</text>
<rect x="51.1" y="446.6" width="5.7" height="50.7" fill="#e09ac2" stroke="none" stroke-width="0"/>
<rect x="61.7" y="474.4" width="5.8" height="22.9" fill="#8a92ba" stroke="none" stroke-width="0"/>
<rect x="71.9" y="489.1" width="5.7" height="8.2" fill="#f3c98e" stroke="none" stroke-width="0"/>
<rect x="89" y="437.6" width="5.8" height="59.7" fill="#e09ac2" stroke="none" stroke-width="0"/>
<rect x="99.2" y="467.8" width="5.9" height="29.5" fill="#8a92ba" stroke="none" stroke-width="0"/>
<rect x="109.5" y="480.1" width="5.7" height="17.2" fill="#f3c98e" stroke="none" stroke-width="0"/>
<line x1="47.7" y1="422.9" x2="47.7" y2="497.93" stroke="#1a1a1a" stroke-width="1.25" />
<line x1="47.08" y1="497.3" x2="119.3" y2="497.3" stroke="#1a1a1a" stroke-width="1.25" />
<line x1="44.5" y1="425.7" x2="47.7" y2="425.7" stroke="#1a1a1a" stroke-width="1.12" />
<text x="0" y="0" transform="translate(41.1 425.7) scale(0.92 1)" font-size="8.2" text-anchor="end" dominant-baseline="central" fill="#2a2a2a" style="stroke-width:0.18px">100</text>
<line x1="44.5" y1="440" x2="47.7" y2="440" stroke="#1a1a1a" stroke-width="1.12" />
<text x="0" y="0" transform="translate(41.1 440) scale(0.92 1)" font-size="8.2" text-anchor="end" dominant-baseline="central" fill="#2a2a2a" style="stroke-width:0.18px">80</text>
<line x1="44.5" y1="454.4" x2="47.7" y2="454.4" stroke="#1a1a1a" stroke-width="1.12" />
<text x="0" y="0" transform="translate(41.1 454.4) scale(0.92 1)" font-size="8.2" text-anchor="end" dominant-baseline="central" fill="#2a2a2a" style="stroke-width:0.18px">60</text>
<line x1="44.5" y1="468.6" x2="47.7" y2="468.6" stroke="#1a1a1a" stroke-width="1.12" />
<text x="0" y="0" transform="translate(41.1 468.6) scale(0.92 1)" font-size="8.2" text-anchor="end" dominant-baseline="central" fill="#2a2a2a" style="stroke-width:0.18px">40</text>
<line x1="44.5" y1="483" x2="47.7" y2="483" stroke="#1a1a1a" stroke-width="1.12" />
<text x="0" y="0" transform="translate(41.1 483) scale(0.92 1)" font-size="8.2" text-anchor="end" dominant-baseline="central" fill="#2a2a2a" style="stroke-width:0.18px">20</text>
<line x1="44.5" y1="497.3" x2="47.7" y2="497.3" stroke="#1a1a1a" stroke-width="1.12" />
<text x="0" y="0" transform="translate(41.1 497.3) scale(0.92 1)" font-size="8.2" text-anchor="end" dominant-baseline="central" fill="#2a2a2a" style="stroke-width:0.18px">0</text>
<line x1="64.5" y1="497.3" x2="64.5" y2="500.5" stroke="#1a1a1a" stroke-width="1.12" />
<line x1="101.8" y1="497.3" x2="101.8" y2="500.5" stroke="#1a1a1a" stroke-width="1.12" />
<circle cx="52.3" cy="445.8" r="1.62" fill="#c8157f"/>
<circle cx="54.4" cy="443.8" r="1.62" fill="#c8157f"/>
<circle cx="56.3" cy="441.7" r="1.62" fill="#c8157f"/>
<circle cx="55" cy="445" r="1.62" fill="#c8157f"/>
<line x1="64.5" y1="471.1" x2="64.5" y2="478.1" stroke="#1e3b7d" stroke-width="0.8" />
<line x1="62.5" y1="471.1" x2="66.5" y2="471.1" stroke="#1e3b7d" stroke-width="0.8" />
<line x1="62.5" y1="478.1" x2="66.5" y2="478.1" stroke="#1e3b7d" stroke-width="0.8" />
<rect x="63.15" y="464.55" width="2.7" height="2.7" fill="#1e3b7d"/>
<rect x="61.55" y="473.85" width="2.7" height="2.7" fill="#1e3b7d"/>
<rect x="64.85" y="473.05" width="2.7" height="2.7" fill="#1e3b7d"/>
<rect x="63.15" y="476.25" width="2.7" height="2.7" fill="#1e3b7d"/>
<rect x="63.15" y="480.35" width="2.7" height="2.7" fill="#1e3b7d"/>
<line x1="74.7" y1="485" x2="74.7" y2="494" stroke="#e38b16" stroke-width="0.8" />
<line x1="72.7" y1="485" x2="76.7" y2="485" stroke="#e38b16" stroke-width="0.8" />
<line x1="72.7" y1="494" x2="76.7" y2="494" stroke="#e38b16" stroke-width="0.8" />
<polygon points="72.7,481.72 71.16,484.66 74.24,484.66" fill="#e38b16"/>
<polygon points="77.3,480.82 75.76,483.76 78.84,483.76" fill="#e38b16"/>
<polygon points="74.3,485.72 72.76,488.66 75.84,488.66" fill="#e38b16"/>
<polygon points="72.7,492.82 71.16,495.76 74.24,495.76" fill="#e38b16"/>
<polygon points="76.8,492.82 75.26,495.76 78.34,495.76" fill="#e38b16"/>
<circle cx="92" cy="430.7" r="1.62" fill="#c8157f"/>
<circle cx="92" cy="434.3" r="1.62" fill="#c8157f"/>
<circle cx="89.9" cy="437.3" r="1.62" fill="#c8157f"/>
<circle cx="93.9" cy="437.3" r="1.62" fill="#c8157f"/>
<line x1="101.8" y1="462.6" x2="101.8" y2="473.2" stroke="#1e3b7d" stroke-width="0.8" />
<line x1="99.8" y1="462.6" x2="103.8" y2="462.6" stroke="#1e3b7d" stroke-width="0.8" />
<line x1="99.8" y1="473.2" x2="103.8" y2="473.2" stroke="#1e3b7d" stroke-width="0.8" />
<rect x="100.45" y="456.65" width="2.7" height="2.7" fill="#1e3b7d"/>
<rect x="100.45" y="460.75" width="2.7" height="2.7" fill="#1e3b7d"/>
<rect x="100.45" y="468.15" width="2.7" height="2.7" fill="#1e3b7d"/>
<rect x="98.35" y="473.05" width="2.7" height="2.7" fill="#1e3b7d"/>
<rect x="102.85" y="473.05" width="2.7" height="2.7" fill="#1e3b7d"/>
<line x1="111.9" y1="476" x2="111.9" y2="483.4" stroke="#e38b16" stroke-width="0.8" />
<line x1="109.9" y1="476" x2="113.9" y2="476" stroke="#e38b16" stroke-width="0.8" />
<line x1="109.9" y1="483.4" x2="113.9" y2="483.4" stroke="#e38b16" stroke-width="0.8" />
<polygon points="111.9,468.32 110.36,471.26 113.44,471.26" fill="#e38b16"/>
<polygon points="111.9,475.42 110.36,478.36 113.44,478.36" fill="#e38b16"/>
<polygon points="110.3,480.02 108.76,482.96 111.84,482.96" fill="#e38b16"/>
<polygon points="113.9,480.82 112.36,483.76 115.44,483.76" fill="#e38b16"/>
<polygon points="111.9,483.32 110.36,486.26 113.44,486.26" fill="#e38b16"/>
<polyline points="53.1,438.4 53.1,434.8 64.8,434.8 64.8,453.1" stroke="#1a1a1a" stroke-width="1.2" fill="none" />
<circle cx="54.77" cy="432.3" r="0.9" fill="#3a3a3a"/>
<circle cx="57.52" cy="432.3" r="0.9" fill="#3a3a3a"/>
<circle cx="60.27" cy="432.3" r="0.9" fill="#3a3a3a"/>
<circle cx="63.02" cy="432.3" r="0.9" fill="#3a3a3a"/>
<polyline points="53.1,425.3 53.1,422.4 76.3,422.4 76.3,472.7" stroke="#1a1a1a" stroke-width="1.2" fill="none" />
<circle cx="60.58" cy="419.7" r="0.9" fill="#3a3a3a"/>
<circle cx="63.33" cy="419.7" r="0.9" fill="#3a3a3a"/>
<circle cx="66.08" cy="419.7" r="0.9" fill="#3a3a3a"/>
<circle cx="68.83" cy="419.7" r="0.9" fill="#3a3a3a"/>
<polyline points="90.2,427.8 90.2,424.5 102.1,424.5 102.1,444.1" stroke="#1a1a1a" stroke-width="1.2" fill="none" />
<circle cx="91.97" cy="421.6" r="0.9" fill="#3a3a3a"/>
<circle cx="94.72" cy="421.6" r="0.9" fill="#3a3a3a"/>
<circle cx="97.47" cy="421.6" r="0.9" fill="#3a3a3a"/>
<circle cx="100.22" cy="421.6" r="0.9" fill="#3a3a3a"/>
<polyline points="90.2,416.3 90.2,411.4 112.4,411.4 112.4,453.1" stroke="#1a1a1a" stroke-width="1.2" fill="none" />
<circle cx="97.17" cy="408.9" r="0.9" fill="#3a3a3a"/>
<circle cx="99.92" cy="408.9" r="0.9" fill="#3a3a3a"/>
<circle cx="102.67" cy="408.9" r="0.9" fill="#3a3a3a"/>
<circle cx="105.42" cy="408.9" r="0.9" fill="#3a3a3a"/>
<text x="64.5" y="508" font-size="7.9" text-anchor="middle" dominant-baseline="central" fill="#2a2a2a" textLength="11.8" lengthAdjust="spacingAndGlyphs" style="stroke-width:0.2px">SPL</text>
<text x="101.8" y="508" font-size="7.9" text-anchor="middle" dominant-baseline="central" fill="#2a2a2a" textLength="15.6" lengthAdjust="spacingAndGlyphs" style="stroke-width:0.2px">MLN</text>
<text x="19.2" y="456.2" font-size="10.62" text-anchor="middle" dominant-baseline="central" fill="#222" textLength="83" lengthAdjust="spacingAndGlyphs" transform="rotate(-90 19.2 456.2)">%Gzmb<tspan font-size="7.65" dy="-3.19">+</tspan><tspan dy="3.19">&#8203;</tspan>CD107a<tspan font-size="7.65" dy="-3.19">+</tspan><tspan dy="3.19">&#8203;</tspan>CD8<tspan font-size="7.65" dy="-3.19">+</tspan><tspan dy="3.19">&#8203;</tspan> T</text>
<rect x="179.5" y="447.6" width="9.1" height="50.2" fill="#e09ac2" stroke="none" stroke-width="0"/>
<rect x="195" y="471.9" width="8.8" height="25.9" fill="#8a92ba" stroke="none" stroke-width="0"/>
<rect x="210.2" y="475.1" width="9.1" height="22.7" fill="#f3c98e" stroke="none" stroke-width="0"/>
<rect x="236" y="438.1" width="9.1" height="59.7" fill="#e09ac2" stroke="none" stroke-width="0"/>
<rect x="251.4" y="463" width="9.1" height="34.8" fill="#8a92ba" stroke="none" stroke-width="0"/>
<rect x="266.3" y="463" width="9.1" height="34.8" fill="#f3c98e" stroke="none" stroke-width="0"/>
<line x1="174" y1="423" x2="174" y2="498.43" stroke="#1a1a1a" stroke-width="1.25" />
<line x1="173.38" y1="497.8" x2="280.8" y2="497.8" stroke="#1a1a1a" stroke-width="1.25" />
<line x1="170.8" y1="426.5" x2="174" y2="426.5" stroke="#1a1a1a" stroke-width="1.12" />
<text x="0" y="0" transform="translate(167.4 426.5) scale(0.92 1)" font-size="8.2" text-anchor="end" dominant-baseline="central" fill="#2a2a2a" style="stroke-width:0.18px">1400</text>
<line x1="170.8" y1="444.3" x2="174" y2="444.3" stroke="#1a1a1a" stroke-width="1.12" />
<text x="0" y="0" transform="translate(167.4 444.3) scale(0.92 1)" font-size="8.2" text-anchor="end" dominant-baseline="central" fill="#2a2a2a" style="stroke-width:0.18px">1200</text>
<line x1="170.8" y1="462.3" x2="174" y2="462.3" stroke="#1a1a1a" stroke-width="1.12" />
<text x="0" y="0" transform="translate(167.4 462.3) scale(0.92 1)" font-size="8.2" text-anchor="end" dominant-baseline="central" fill="#2a2a2a" style="stroke-width:0.18px">1000</text>
<line x1="170.8" y1="480.1" x2="174" y2="480.1" stroke="#1a1a1a" stroke-width="1.12" />
<text x="0" y="0" transform="translate(167.4 480.1) scale(0.92 1)" font-size="8.2" text-anchor="end" dominant-baseline="central" fill="#2a2a2a" style="stroke-width:0.18px">800</text>
<line x1="170.8" y1="497.9" x2="174" y2="497.9" stroke="#1a1a1a" stroke-width="1.12" />
<text x="0" y="0" transform="translate(167.4 497.9) scale(0.92 1)" font-size="8.2" text-anchor="end" dominant-baseline="central" fill="#2a2a2a" style="stroke-width:0.18px">600</text>
<line x1="199.6" y1="497.8" x2="199.6" y2="501" stroke="#1a1a1a" stroke-width="1.12" />
<line x1="255.7" y1="497.8" x2="255.7" y2="501" stroke="#1a1a1a" stroke-width="1.12" />
<line x1="184.1" y1="443" x2="184.1" y2="451.2" stroke="#c8157f" stroke-width="0.8" />
<line x1="181.9" y1="443" x2="186.3" y2="443" stroke="#c8157f" stroke-width="0.8" />
<line x1="181.9" y1="451.2" x2="186.3" y2="451.2" stroke="#c8157f" stroke-width="0.8" />
<circle cx="184.4" cy="431.7" r="1.62" fill="#c8157f"/>
<circle cx="183.8" cy="441.3" r="1.62" fill="#c8157f"/>
<circle cx="180.6" cy="449.1" r="1.62" fill="#c8157f"/>
<circle cx="188" cy="449.1" r="1.62" fill="#c8157f"/>
<circle cx="184.4" cy="460.3" r="1.62" fill="#c8157f"/>
<line x1="199.4" y1="468.8" x2="199.4" y2="475.7" stroke="#1e3b7d" stroke-width="0.8" />
<line x1="197.2" y1="468.8" x2="201.6" y2="468.8" stroke="#1e3b7d" stroke-width="0.8" />
<line x1="197.2" y1="475.7" x2="201.6" y2="475.7" stroke="#1e3b7d" stroke-width="0.8" />
<rect x="194.4" y="465.2" width="2.81" height="2.81" fill="#1e3b7d"/>
<rect x="201.4" y="462.5" width="2.81" height="2.81" fill="#1e3b7d"/>
<rect x="198.2" y="468.4" width="2.81" height="2.81" fill="#1e3b7d"/>
<rect x="198.2" y="479" width="2.81" height="2.81" fill="#1e3b7d"/>
<line x1="214.6" y1="471.9" x2="214.6" y2="477.2" stroke="#e38b16" stroke-width="0.8" />
<line x1="212.4" y1="471.9" x2="216.8" y2="471.9" stroke="#e38b16" stroke-width="0.8" />
<line x1="212.4" y1="477.2" x2="216.8" y2="477.2" stroke="#e38b16" stroke-width="0.8" />
<polygon points="214.4,462.75 212.8,465.81 216,465.81" fill="#e38b16"/>
<polygon points="214.4,469.75 212.8,472.81 216,472.81" fill="#e38b16"/>
<polygon points="211.7,478.65 210.1,481.71 213.3,481.71" fill="#e38b16"/>
<polygon points="218.2,478.65 216.6,481.71 219.8,481.71" fill="#e38b16"/>
<line x1="240.6" y1="436" x2="240.6" y2="440.2" stroke="#c8157f" stroke-width="0.8" />
<line x1="238.4" y1="436" x2="242.8" y2="436" stroke="#c8157f" stroke-width="0.8" />
<line x1="238.4" y1="440.2" x2="242.8" y2="440.2" stroke="#c8157f" stroke-width="0.8" />
<circle cx="236.6" cy="432.8" r="1.62" fill="#c8157f"/>
<circle cx="244" cy="432.8" r="1.62" fill="#c8157f"/>
<circle cx="240.2" cy="435.5" r="1.62" fill="#c8157f"/>
<circle cx="237.3" cy="437.7" r="1.62" fill="#c8157f"/>
<circle cx="244" cy="438.1" r="1.62" fill="#c8157f"/>
<circle cx="240.9" cy="444.8" r="1.62" fill="#c8157f"/>
<line x1="255.8" y1="459.5" x2="255.8" y2="466.5" stroke="#1e3b7d" stroke-width="0.8" />
<line x1="253.6" y1="459.5" x2="258" y2="459.5" stroke="#1e3b7d" stroke-width="0.8" />
<line x1="253.6" y1="466.5" x2="258" y2="466.5" stroke="#1e3b7d" stroke-width="0.8" />
<rect x="250.7" y="456.1" width="2.81" height="2.81" fill="#1e3b7d"/>
<rect x="258.5" y="453.6" width="2.81" height="2.81" fill="#1e3b7d"/>
<rect x="253.6" y="459.9" width="2.81" height="2.81" fill="#1e3b7d"/>
<rect x="251.5" y="463.8" width="2.81" height="2.81" fill="#1e3b7d"/>
<rect x="253.6" y="470.5" width="2.81" height="2.81" fill="#1e3b7d"/>
<line x1="270.8" y1="459.5" x2="270.8" y2="466.5" stroke="#e38b16" stroke-width="0.8" />
<line x1="268.6" y1="459.5" x2="273" y2="459.5" stroke="#e38b16" stroke-width="0.8" />
<line x1="268.6" y1="466.5" x2="273" y2="466.5" stroke="#e38b16" stroke-width="0.8" />
<polygon points="270.5,452.15 268.9,455.21 272.1,455.21" fill="#e38b16"/>
<polygon points="270.5,457.45 268.9,460.51 272.1,460.51" fill="#e38b16"/>
<polygon points="268.4,465.55 266.8,468.61 270,468.61" fill="#e38b16"/>
<polygon points="274.1,465.55 272.5,468.61 275.7,468.61" fill="#e38b16"/>
<polygon points="270.5,461.25 268.9,464.31 272.1,464.31" fill="#e38b16"/>
<polyline points="180.2,429.6 180.2,426.4 199.2,426.4 199.2,436" stroke="#1a1a1a" stroke-width="1.2" fill="none" />
<circle cx="185.57" cy="423.7" r="0.9" fill="#3a3a3a"/>
<circle cx="188.32" cy="423.7" r="0.9" fill="#3a3a3a"/>
<circle cx="191.07" cy="423.7" r="0.9" fill="#3a3a3a"/>
<circle cx="193.82" cy="423.7" r="0.9" fill="#3a3a3a"/>
<polyline points="179.5,416.5 179.5,412.7 214.4,412.7 214.4,436" stroke="#1a1a1a" stroke-width="1.2" fill="none" />
<circle cx="192.88" cy="409.9" r="0.9" fill="#3a3a3a"/>
<circle cx="195.62" cy="409.9" r="0.9" fill="#3a3a3a"/>
<circle cx="198.38" cy="409.9" r="0.9" fill="#3a3a3a"/>
<circle cx="201.12" cy="409.9" r="0.9" fill="#3a3a3a"/>
<polyline points="237.7,429.6 237.7,427.1 255.7,427.1 255.7,440.2" stroke="#1a1a1a" stroke-width="1.2" fill="none" />
<circle cx="242.57" cy="424.3" r="0.9" fill="#3a3a3a"/>
<circle cx="245.32" cy="424.3" r="0.9" fill="#3a3a3a"/>
<circle cx="248.07" cy="424.3" r="0.9" fill="#3a3a3a"/>
<circle cx="250.82" cy="424.3" r="0.9" fill="#3a3a3a"/>
<polyline points="237.7,416.9 237.7,414.2 270.5,414.2 270.5,436" stroke="#1a1a1a" stroke-width="1.2" fill="none" />
<circle cx="249.97" cy="411.4" r="0.9" fill="#3a3a3a"/>
<circle cx="252.72" cy="411.4" r="0.9" fill="#3a3a3a"/>
<circle cx="255.47" cy="411.4" r="0.9" fill="#3a3a3a"/>
<circle cx="258.23" cy="411.4" r="0.9" fill="#3a3a3a"/>
<text x="199.6" y="509.6" font-size="7.9" text-anchor="middle" dominant-baseline="central" fill="#2a2a2a" textLength="11.8" lengthAdjust="spacingAndGlyphs" style="stroke-width:0.2px">SPL</text>
<text x="255.7" y="509.6" font-size="7.9" text-anchor="middle" dominant-baseline="central" fill="#2a2a2a" textLength="15.6" lengthAdjust="spacingAndGlyphs" style="stroke-width:0.2px">MLN</text>
<text x="141.9" y="460.5" font-size="10.62" text-anchor="middle" dominant-baseline="central" fill="#222" textLength="42.6" lengthAdjust="spacingAndGlyphs" transform="rotate(-90 141.9 460.5)">Perforin MFI</text>
<rect x="338.9" y="442.3" width="5.7" height="52.9" fill="#e09ac2" stroke="none" stroke-width="0"/>
<rect x="349.2" y="457.6" width="5.7" height="37.6" fill="#8a92ba" stroke="none" stroke-width="0"/>
<rect x="359.3" y="453.2" width="5.7" height="42" fill="#f3c98e" stroke="none" stroke-width="0"/>
<rect x="376.5" y="443.4" width="5.7" height="51.8" fill="#e09ac2" stroke="none" stroke-width="0"/>
<rect x="386.8" y="464.2" width="5.5" height="31" fill="#8a92ba" stroke="none" stroke-width="0"/>
<rect x="396.9" y="464.2" width="5.7" height="31" fill="#f3c98e" stroke="none" stroke-width="0"/>
<line x1="335.1" y1="421.3" x2="335.1" y2="495.82" stroke="#1a1a1a" stroke-width="1.25" />
<line x1="334.48" y1="495.2" x2="406.7" y2="495.2" stroke="#1a1a1a" stroke-width="1.25" />
<line x1="331.9" y1="424.3" x2="335.1" y2="424.3" stroke="#1a1a1a" stroke-width="1.12" />
<text x="0" y="0" transform="translate(328.5 424.3) scale(0.92 1)" font-size="8.2" text-anchor="end" dominant-baseline="central" fill="#2a2a2a" style="stroke-width:0.18px">100</text>
<line x1="331.9" y1="438.5" x2="335.1" y2="438.5" stroke="#1a1a1a" stroke-width="1.12" />
<text x="0" y="0" transform="translate(328.5 438.5) scale(0.92 1)" font-size="8.2" text-anchor="end" dominant-baseline="central" fill="#2a2a2a" style="stroke-width:0.18px">80</text>
<line x1="331.9" y1="452.9" x2="335.1" y2="452.9" stroke="#1a1a1a" stroke-width="1.12" />
<text x="0" y="0" transform="translate(328.5 452.9) scale(0.92 1)" font-size="8.2" text-anchor="end" dominant-baseline="central" fill="#2a2a2a" style="stroke-width:0.18px">60</text>
<line x1="331.9" y1="467.1" x2="335.1" y2="467.1" stroke="#1a1a1a" stroke-width="1.12" />
<text x="0" y="0" transform="translate(328.5 467.1) scale(0.92 1)" font-size="8.2" text-anchor="end" dominant-baseline="central" fill="#2a2a2a" style="stroke-width:0.18px">40</text>
<line x1="331.9" y1="481.3" x2="335.1" y2="481.3" stroke="#1a1a1a" stroke-width="1.12" />
<text x="0" y="0" transform="translate(328.5 481.3) scale(0.92 1)" font-size="8.2" text-anchor="end" dominant-baseline="central" fill="#2a2a2a" style="stroke-width:0.18px">20</text>
<line x1="331.9" y1="495.2" x2="335.1" y2="495.2" stroke="#1a1a1a" stroke-width="1.12" />
<text x="0" y="0" transform="translate(328.5 495.2) scale(0.92 1)" font-size="8.2" text-anchor="end" dominant-baseline="central" fill="#2a2a2a" style="stroke-width:0.18px">0</text>
<line x1="351.2" y1="495.2" x2="351.2" y2="498.4" stroke="#1a1a1a" stroke-width="1.12" />
<line x1="389.1" y1="495.2" x2="389.1" y2="498.4" stroke="#1a1a1a" stroke-width="1.12" />
<circle cx="339.4" cy="442.3" r="1.62" fill="#c8157f"/>
<circle cx="341.3" cy="440.6" r="1.62" fill="#c8157f"/>
<circle cx="343.3" cy="441.3" r="1.62" fill="#c8157f"/>
<circle cx="341.3" cy="446.7" r="1.62" fill="#c8157f"/>
<circle cx="340.5" cy="443.4" r="1.62" fill="#c8157f"/>
<line x1="352" y1="455" x2="352" y2="460.5" stroke="#1e3b7d" stroke-width="0.8" />
<line x1="350" y1="455" x2="354" y2="455" stroke="#1e3b7d" stroke-width="0.8" />
<line x1="350" y1="460.5" x2="354" y2="460.5" stroke="#1e3b7d" stroke-width="0.8" />
<rect x="348.95" y="449.45" width="2.7" height="2.7" fill="#1e3b7d"/>
<rect x="350.65" y="452.65" width="2.7" height="2.7" fill="#1e3b7d"/>
<rect x="348.15" y="455.65" width="2.7" height="2.7" fill="#1e3b7d"/>
<rect x="352.75" y="454.35" width="2.7" height="2.7" fill="#1e3b7d"/>
<rect x="348.95" y="459.25" width="2.7" height="2.7" fill="#1e3b7d"/>
<rect x="352.25" y="459.25" width="2.7" height="2.7" fill="#1e3b7d"/>
<rect x="348.95" y="461.65" width="2.7" height="2.7" fill="#1e3b7d"/>
<rect x="350.65" y="464.15" width="2.7" height="2.7" fill="#1e3b7d"/>
<line x1="362.2" y1="448" x2="362.2" y2="458" stroke="#e38b16" stroke-width="0.8" />
<line x1="360.2" y1="448" x2="364.2" y2="448" stroke="#e38b16" stroke-width="0.8" />
<line x1="360.2" y1="458" x2="364.2" y2="458" stroke="#e38b16" stroke-width="0.8" />
<polygon points="360.6,445.02 359.06,447.96 362.14,447.96" fill="#e38b16"/>
<polygon points="363.9,444.22 362.36,447.16 365.44,447.16" fill="#e38b16"/>
<polygon points="361.8,448.32 360.26,451.26 363.34,451.26" fill="#e38b16"/>
<polygon points="364.2,446.62 362.66,449.56 365.74,449.56" fill="#e38b16"/>
<polygon points="361,460.52 359.46,463.46 362.54,463.46" fill="#e38b16"/>
<polygon points="364.2,460.52 362.66,463.46 365.74,463.46" fill="#e38b16"/>
<circle cx="377" cy="442.3" r="1.62" fill="#c8157f"/>
<circle cx="378.9" cy="443.4" r="1.62" fill="#c8157f"/>
<circle cx="381.4" cy="443.9" r="1.62" fill="#c8157f"/>
<circle cx="377.3" cy="445.5" r="1.62" fill="#c8157f"/>
<line x1="389.6" y1="459.3" x2="389.6" y2="469" stroke="#1e3b7d" stroke-width="0.8" />
<line x1="387.6" y1="459.3" x2="391.6" y2="459.3" stroke="#1e3b7d" stroke-width="0.8" />
<line x1="387.6" y1="469" x2="391.6" y2="469" stroke="#1e3b7d" stroke-width="0.8" />
<rect x="385.75" y="453.05" width="2.7" height="2.7" fill="#1e3b7d"/>
<rect x="389.85" y="451.05" width="2.7" height="2.7" fill="#1e3b7d"/>
<rect x="386.55" y="467.35" width="2.7" height="2.7" fill="#1e3b7d"/>
<rect x="388.25" y="469.05" width="2.7" height="2.7" fill="#1e3b7d"/>
<rect x="386.25" y="469.85" width="2.7" height="2.7" fill="#1e3b7d"/>
<line x1="399.7" y1="458.1" x2="399.7" y2="470" stroke="#e38b16" stroke-width="0.8" />
<line x1="397.7" y1="458.1" x2="401.7" y2="458.1" stroke="#e38b16" stroke-width="0.8" />
<line x1="397.7" y1="470" x2="401.7" y2="470" stroke="#e38b16" stroke-width="0.8" />
<polygon points="399.4,447.82 397.86,450.76 400.94,450.76" fill="#e38b16"/>
<polygon points="399.4,452.02 397.86,454.96 400.94,454.96" fill="#e38b16"/>
<polygon points="398.6,469.52 397.06,472.46 400.14,472.46" fill="#e38b16"/>
<polygon points="401.5,470.32 399.96,473.26 403.04,473.26" fill="#e38b16"/>
<polyline points="340.5,436.4 340.5,433.1 352,433.1 352,436.4" stroke="#1a1a1a" stroke-width="1.2" fill="none" />
<circle cx="344.82" cy="430.2" r="0.9" fill="#3a3a3a"/>
<circle cx="347.57" cy="430.2" r="0.9" fill="#3a3a3a"/>
<polyline points="377.6,437.4 377.6,433.3 390.1,433.3 390.1,443.9" stroke="#1a1a1a" stroke-width="1.2" fill="none" />
<circle cx="381.15" cy="430.7" r="0.9" fill="#3a3a3a"/>
<circle cx="383.9" cy="430.7" r="0.9" fill="#3a3a3a"/>
<circle cx="386.65" cy="430.7" r="0.9" fill="#3a3a3a"/>
<polyline points="378.6,423.8 378.6,420.5 399.9,420.5 399.9,443.9" stroke="#1a1a1a" stroke-width="1.2" fill="none" />
<circle cx="386.45" cy="418.1" r="0.9" fill="#3a3a3a"/>
<circle cx="389.2" cy="418.1" r="0.9" fill="#3a3a3a"/>
<circle cx="391.95" cy="418.1" r="0.9" fill="#3a3a3a"/>
<text x="351.2" y="507.2" font-size="7.9" text-anchor="middle" dominant-baseline="central" fill="#2a2a2a" textLength="11.8" lengthAdjust="spacingAndGlyphs" style="stroke-width:0.2px">SPL</text>
<text x="389.1" y="507.2" font-size="7.9" text-anchor="middle" dominant-baseline="central" fill="#2a2a2a" textLength="15.6" lengthAdjust="spacingAndGlyphs" style="stroke-width:0.2px">MLN</text>
<text x="307" y="457.6" font-size="10.62" text-anchor="middle" dominant-baseline="central" fill="#222" textLength="75" lengthAdjust="spacingAndGlyphs" transform="rotate(-90 307 457.6)">%IFN-&#947;<tspan font-size="7.65" dy="-3.19">+</tspan><tspan dy="3.19">&#8203;</tspan>TNF&#945;<tspan font-size="7.65" dy="-3.19">-</tspan><tspan dy="3.19">&#8203;</tspan>CD8<tspan font-size="7.65" dy="-3.19">+</tspan><tspan dy="3.19">&#8203;</tspan> T</text>
<circle cx="423.7" cy="427.7" r="2.92" fill="#c8157f"/>
<text x="429.8" y="427.6" font-size="7.4" text-anchor="start" dominant-baseline="central" fill="#2a2a2a" textLength="50" lengthAdjust="spacingAndGlyphs" style="stroke-width:0.16px">Teff-CD39<tspan font-size="5.03" dy="-2.66">+</tspan><tspan dy="2.66">&#8203;</tspan>ly108<tspan font-size="5.03" dy="-2.66">+</tspan><tspan dy="2.66">&#8203;</tspan></text>
<rect x="421.35" y="438.55" width="5.29" height="5.29" fill="#1e3b7d"/>
<text x="429.8" y="441.2" font-size="7.4" text-anchor="start" dominant-baseline="central" fill="#2a2a2a" textLength="46" lengthAdjust="spacingAndGlyphs" style="stroke-width:0.16px">Tex-CD39<tspan font-size="5.03" dy="-2.66">+</tspan><tspan dy="2.66">&#8203;</tspan>ly108<tspan font-size="5.03" dy="-2.66">-</tspan><tspan dy="2.66">&#8203;</tspan></text>
<polygon points="424,452.49 421.15,457.93 426.85,457.93" fill="#e38b16"/>
<text x="429.8" y="455.4" font-size="7.4" text-anchor="start" dominant-baseline="central" fill="#2a2a2a" textLength="50" lengthAdjust="spacingAndGlyphs" style="stroke-width:0.16px">Tmp-CD39<tspan font-size="5.03" dy="-2.66">-</tspan><tspan dy="2.66">&#8203;</tspan>ly108<tspan font-size="5.03" dy="-2.66">+</tspan><tspan dy="2.66">&#8203;</tspan></text>
<text x="0" y="0" transform="translate(8.34 530.53) scale(0.79 1)" font-size="13.2" font-weight="bold" fill="#000" style="stroke:#000;stroke-width:0.45px">J</text>
<rect x="55.2" y="581.7" width="13.4" height="36.3" fill="#e09ac2" stroke="none" stroke-width="0"/>
<rect x="77.3" y="593.9" width="12.6" height="24.1" fill="#8a92ba" stroke="none" stroke-width="0"/>
<rect x="98" y="596.1" width="13.4" height="21.9" fill="#f3c98e" stroke="none" stroke-width="0"/>
<line x1="47.4" y1="543.3" x2="47.4" y2="618.62" stroke="#1a1a1a" stroke-width="1.25" />
<line x1="46.77" y1="618" x2="119.3" y2="618" stroke="#1a1a1a" stroke-width="1.25" />
<line x1="44.2" y1="546.5" x2="47.4" y2="546.5" stroke="#1a1a1a" stroke-width="1.12" />
<text x="0" y="0" transform="translate(40.8 546.5) scale(0.92 1)" font-size="8.2" text-anchor="end" dominant-baseline="central" fill="#2a2a2a" style="stroke-width:0.18px">3000</text>
<line x1="44.2" y1="564.5" x2="47.4" y2="564.5" stroke="#1a1a1a" stroke-width="1.12" />
<text x="0" y="0" transform="translate(40.8 564.5) scale(0.92 1)" font-size="8.2" text-anchor="end" dominant-baseline="central" fill="#2a2a2a" style="stroke-width:0.18px">2500</text>
<line x1="44.2" y1="582.2" x2="47.4" y2="582.2" stroke="#1a1a1a" stroke-width="1.12" />
<text x="0" y="0" transform="translate(40.8 582.2) scale(0.92 1)" font-size="8.2" text-anchor="end" dominant-baseline="central" fill="#2a2a2a" style="stroke-width:0.18px">2000</text>
<line x1="44.2" y1="600.2" x2="47.4" y2="600.2" stroke="#1a1a1a" stroke-width="1.12" />
<text x="0" y="0" transform="translate(40.8 600.2) scale(0.92 1)" font-size="8.2" text-anchor="end" dominant-baseline="central" fill="#2a2a2a" style="stroke-width:0.18px">1500</text>
<line x1="44.2" y1="618" x2="47.4" y2="618" stroke="#1a1a1a" stroke-width="1.12" />
<text x="0" y="0" transform="translate(40.8 618) scale(0.92 1)" font-size="8.2" text-anchor="end" dominant-baseline="central" fill="#2a2a2a" style="stroke-width:0.18px">1000</text>
<line x1="83.3" y1="618" x2="83.3" y2="621.2" stroke="#1a1a1a" stroke-width="1.12" />
<line x1="61.7" y1="574.7" x2="61.7" y2="582.8" stroke="#c8157f" stroke-width="0.8" />
<line x1="58.2" y1="574.7" x2="65.2" y2="574.7" stroke="#c8157f" stroke-width="0.8" />
<line x1="58.2" y1="582.8" x2="65.2" y2="582.8" stroke="#c8157f" stroke-width="0.8" />
<circle cx="61.7" cy="564.5" r="1.62" fill="#c8157f"/>
<circle cx="61.7" cy="579.2" r="1.62" fill="#c8157f"/>
<circle cx="56" cy="580.9" r="1.62" fill="#c8157f"/>
<circle cx="67.5" cy="580.5" r="1.62" fill="#c8157f"/>
<circle cx="61.7" cy="588.7" r="1.62" fill="#c8157f"/>
<line x1="83.3" y1="590.7" x2="83.3" y2="598" stroke="#1e3b7d" stroke-width="0.8" />
<line x1="80.3" y1="590.7" x2="86.3" y2="590.7" stroke="#1e3b7d" stroke-width="0.8" />
<line x1="80.3" y1="598" x2="86.3" y2="598" stroke="#1e3b7d" stroke-width="0.8" />
<rect x="81.9" y="585.2" width="2.81" height="2.81" fill="#1e3b7d"/>
<rect x="78.6" y="590.9" width="2.81" height="2.81" fill="#1e3b7d"/>
<rect x="84.4" y="589.3" width="2.81" height="2.81" fill="#1e3b7d"/>
<rect x="79.1" y="597.8" width="2.81" height="2.81" fill="#1e3b7d"/>
<rect x="85.2" y="596.6" width="2.81" height="2.81" fill="#1e3b7d"/>
<line x1="104.8" y1="592.3" x2="104.8" y2="600.2" stroke="#e38b16" stroke-width="0.8" />
<line x1="101.8" y1="592.3" x2="107.8" y2="592.3" stroke="#e38b16" stroke-width="0.8" />
<line x1="101.8" y1="600.2" x2="107.8" y2="600.2" stroke="#e38b16" stroke-width="0.8" />
<polygon points="104.6,583.25 103,586.31 106.2,586.31" fill="#e38b16"/>
<polygon points="101.8,593.05 100.2,596.11 103.4,596.11" fill="#e38b16"/>
<polygon points="107.3,593.05 105.7,596.11 108.9,596.11" fill="#e38b16"/>
<polygon points="105.1,597.05 103.5,600.11 106.7,600.11" fill="#e38b16"/>
<polygon points="105.1,602.85 103.5,605.91 106.7,605.91" fill="#e38b16"/>
<polyline points="62.1,562.9 62.1,559.3 82.8,559.3 82.8,578.4" stroke="#1a1a1a" stroke-width="1.2" fill="none" />
<circle cx="72.6" cy="556.7" r="0.9" fill="#3a3a3a"/>
<polyline points="60.4,553.9 60.4,549.5 105.1,549.5 105.1,578.4" stroke="#1a1a1a" stroke-width="1.2" fill="none" />
<circle cx="81.92" cy="547.3" r="0.9" fill="#3a3a3a"/>
<circle cx="84.67" cy="547.3" r="0.9" fill="#3a3a3a"/>
<text x="83.3" y="628.3" font-size="7.9" text-anchor="middle" dominant-baseline="central" fill="#2a2a2a" textLength="11.8" lengthAdjust="spacingAndGlyphs" style="stroke-width:0.2px">SPL</text>
<text x="14.8" y="580.5" font-size="10.62" text-anchor="middle" dominant-baseline="central" fill="#222" textLength="32.1" lengthAdjust="spacingAndGlyphs" transform="rotate(-90 14.8 580.5)">T-bet MFI</text>
<rect x="180" y="576.5" width="8.5" height="41.1" fill="#e09ac2" stroke="none" stroke-width="0"/>
<rect x="195" y="593.4" width="9.2" height="24.2" fill="#8a92ba" stroke="none" stroke-width="0"/>
<rect x="210.5" y="588.8" width="8.7" height="28.8" fill="#f3c98e" stroke="none" stroke-width="0"/>
<rect x="235.9" y="558.8" width="8.7" height="58.8" fill="#e09ac2" stroke="none" stroke-width="0"/>
<rect x="251.5" y="580.5" width="8.6" height="37.1" fill="#8a92ba" stroke="none" stroke-width="0"/>
<rect x="266.5" y="576.5" width="9.3" height="41.1" fill="#f3c98e" stroke="none" stroke-width="0"/>
<line x1="174.2" y1="543.1" x2="174.2" y2="618.23" stroke="#1a1a1a" stroke-width="1.25" />
<line x1="173.57" y1="617.6" x2="280.4" y2="617.6" stroke="#1a1a1a" stroke-width="1.25" />
<line x1="171" y1="546.5" x2="174.2" y2="546.5" stroke="#1a1a1a" stroke-width="1.12" />
<text x="0" y="0" transform="translate(167.6 546.5) scale(0.92 1)" font-size="8.2" text-anchor="end" dominant-baseline="central" fill="#2a2a2a" style="stroke-width:0.18px">1000</text>
<line x1="171" y1="560.8" x2="174.2" y2="560.8" stroke="#1a1a1a" stroke-width="1.12" />
<text x="0" y="0" transform="translate(167.6 560.8) scale(0.92 1)" font-size="8.2" text-anchor="end" dominant-baseline="central" fill="#2a2a2a" style="stroke-width:0.18px">800</text>
<line x1="171" y1="574.9" x2="174.2" y2="574.9" stroke="#1a1a1a" stroke-width="1.12" />
<text x="0" y="0" transform="translate(167.6 574.9) scale(0.92 1)" font-size="8.2" text-anchor="end" dominant-baseline="central" fill="#2a2a2a" style="stroke-width:0.18px">600</text>
<line x1="171" y1="589.2" x2="174.2" y2="589.2" stroke="#1a1a1a" stroke-width="1.12" />
<text x="0" y="0" transform="translate(167.6 589.2) scale(0.92 1)" font-size="8.2" text-anchor="end" dominant-baseline="central" fill="#2a2a2a" style="stroke-width:0.18px">400</text>
<line x1="171" y1="603.5" x2="174.2" y2="603.5" stroke="#1a1a1a" stroke-width="1.12" />
<text x="0" y="0" transform="translate(167.6 603.5) scale(0.92 1)" font-size="8.2" text-anchor="end" dominant-baseline="central" fill="#2a2a2a" style="stroke-width:0.18px">200</text>
<line x1="171" y1="617.6" x2="174.2" y2="617.6" stroke="#1a1a1a" stroke-width="1.12" />
<text x="0" y="0" transform="translate(167.6 617.6) scale(0.92 1)" font-size="8.2" text-anchor="end" dominant-baseline="central" fill="#2a2a2a" style="stroke-width:0.18px">0</text>
<line x1="199.6" y1="617.6" x2="199.6" y2="620.8" stroke="#1a1a1a" stroke-width="1.12" />
<line x1="255.5" y1="617.6" x2="255.5" y2="620.8" stroke="#1a1a1a" stroke-width="1.12" />
<line x1="184.2" y1="574.2" x2="184.2" y2="580.5" stroke="#c8157f" stroke-width="0.8" />
<line x1="181.8" y1="574.2" x2="186.6" y2="574.2" stroke="#c8157f" stroke-width="0.8" />
<line x1="181.8" y1="580.5" x2="186.6" y2="580.5" stroke="#c8157f" stroke-width="0.8" />
<circle cx="184.2" cy="569.6" r="1.62" fill="#c8157f"/>
<circle cx="180" cy="577.7" r="1.62" fill="#c8157f"/>
<circle cx="184.2" cy="577.2" r="1.62" fill="#c8157f"/>
<circle cx="188.1" cy="578.8" r="1.62" fill="#c8157f"/>
<circle cx="184.2" cy="580.5" r="1.62" fill="#c8157f"/>
<line x1="199.6" y1="591.5" x2="199.6" y2="595" stroke="#1e3b7d" stroke-width="0.8" />
<line x1="197.2" y1="591.5" x2="202" y2="591.5" stroke="#1e3b7d" stroke-width="0.8" />
<line x1="197.2" y1="595" x2="202" y2="595" stroke="#1e3b7d" stroke-width="0.8" />
<rect x="200.5" y="589.7" width="2.81" height="2.81" fill="#1e3b7d"/>
<rect x="195.9" y="592.4" width="2.81" height="2.81" fill="#1e3b7d"/>
<rect x="201.7" y="592.9" width="2.81" height="2.81" fill="#1e3b7d"/>
<rect x="198.2" y="592.4" width="2.81" height="2.81" fill="#1e3b7d"/>
<line x1="214.6" y1="585.8" x2="214.6" y2="592.7" stroke="#e38b16" stroke-width="0.8" />
<line x1="212.2" y1="585.8" x2="217" y2="585.8" stroke="#e38b16" stroke-width="0.8" />
<line x1="212.2" y1="592.7" x2="217" y2="592.7" stroke="#e38b16" stroke-width="0.8" />
<polygon points="214.6,579.45 213,582.51 216.2,582.51" fill="#e38b16"/>
<polygon points="214.6,587.95 213,591.01 216.2,591.01" fill="#e38b16"/>
<polygon points="214.6,593.25 213,596.31 216.2,596.31" fill="#e38b16"/>
<line x1="240" y1="555.1" x2="240" y2="562.7" stroke="#c8157f" stroke-width="0.8" />
<line x1="237.6" y1="555.1" x2="242.4" y2="555.1" stroke="#c8157f" stroke-width="0.8" />
<line x1="237.6" y1="562.7" x2="242.4" y2="562.7" stroke="#c8157f" stroke-width="0.8" />
<circle cx="240" cy="550" r="1.62" fill="#c8157f"/>
<circle cx="240" cy="559.7" r="1.62" fill="#c8157f"/>
<circle cx="240" cy="563.8" r="1.62" fill="#c8157f"/>
<line x1="255.8" y1="576.5" x2="255.8" y2="583.5" stroke="#1e3b7d" stroke-width="0.8" />
<line x1="253.4" y1="576.5" x2="258.2" y2="576.5" stroke="#1e3b7d" stroke-width="0.8" />
<line x1="253.4" y1="583.5" x2="258.2" y2="583.5" stroke="#1e3b7d" stroke-width="0.8" />
<rect x="254.8" y="570.5" width="2.81" height="2.81" fill="#1e3b7d"/>
<rect x="258.2" y="575.1" width="2.81" height="2.81" fill="#1e3b7d"/>
<rect x="251.3" y="577.4" width="2.81" height="2.81" fill="#1e3b7d"/>
<rect x="254.3" y="589" width="2.81" height="2.81" fill="#1e3b7d"/>
<line x1="271" y1="573.1" x2="271" y2="580.5" stroke="#e38b16" stroke-width="0.8" />
<line x1="268.6" y1="573.1" x2="273.4" y2="573.1" stroke="#e38b16" stroke-width="0.8" />
<line x1="268.6" y1="580.5" x2="273.4" y2="580.5" stroke="#e38b16" stroke-width="0.8" />
<polygon points="267.2,569.05 265.6,572.11 268.8,572.11" fill="#e38b16"/>
<polygon points="274.6,571.75 273,574.81 276.2,574.81" fill="#e38b16"/>
<polygon points="270.7,573.65 269.1,576.71 272.3,576.71" fill="#e38b16"/>
<polygon points="271.2,583.35 269.6,586.41 272.8,586.41" fill="#e38b16"/>
<polyline points="184.2,565.7 184.2,562.7 199.6,562.7 199.6,582.3" stroke="#1a1a1a" stroke-width="1.2" fill="none" />
<circle cx="190.53" cy="560.1" r="0.9" fill="#3a3a3a"/>
<circle cx="193.28" cy="560.1" r="0.9" fill="#3a3a3a"/>
<polyline points="184.2,553.5 184.2,548.8 215.3,548.8 215.3,575.4" stroke="#1a1a1a" stroke-width="1.2" fill="none" />
<circle cx="199.7" cy="545.8" r="0.9" fill="#3a3a3a"/>
<polyline points="241.2,547.2 241.2,542.4 255.5,542.4 255.5,573.5" stroke="#1a1a1a" stroke-width="1.2" fill="none" />
<circle cx="245.55" cy="540" r="0.9" fill="#3a3a3a"/>
<circle cx="248.3" cy="540" r="0.9" fill="#3a3a3a"/>
<circle cx="251.05" cy="540" r="0.9" fill="#3a3a3a"/>
<polyline points="241.2,532.7 241.2,526.9 270.7,526.9 270.7,566.2" stroke="#1a1a1a" stroke-width="1.2" fill="none" />
<circle cx="253.25" cy="524.3" r="0.9" fill="#3a3a3a"/>
<circle cx="256" cy="524.3" r="0.9" fill="#3a3a3a"/>
<circle cx="258.75" cy="524.3" r="0.9" fill="#3a3a3a"/>
<text x="199.6" y="628" font-size="7.9" text-anchor="middle" dominant-baseline="central" fill="#2a2a2a" textLength="11.8" lengthAdjust="spacingAndGlyphs" style="stroke-width:0.2px">SPL</text>
<text x="255.5" y="628" font-size="7.9" text-anchor="middle" dominant-baseline="central" fill="#2a2a2a" textLength="15.6" lengthAdjust="spacingAndGlyphs" style="stroke-width:0.2px">MLN</text>
<text x="143.2" y="582.6" font-size="10.62" text-anchor="middle" dominant-baseline="central" fill="#222" textLength="33.3" lengthAdjust="spacingAndGlyphs" transform="rotate(-90 143.2 582.6)">CD127 MFI</text>
<rect x="342.5" y="556.8" width="13" height="60" fill="#e09ac2" stroke="none" stroke-width="0"/>
<rect x="364.3" y="590" width="12.7" height="26.8" fill="#8a92ba" stroke="none" stroke-width="0"/>
<rect x="385.8" y="591.3" width="13" height="25.5" fill="#f3c98e" stroke="none" stroke-width="0"/>
<line x1="335" y1="542.5" x2="335" y2="617.42" stroke="#1a1a1a" stroke-width="1.25" />
<line x1="334.38" y1="616.8" x2="406.3" y2="616.8" stroke="#1a1a1a" stroke-width="1.25" />
<line x1="331.8" y1="545" x2="335" y2="545" stroke="#1a1a1a" stroke-width="1.12" />
<text x="0" y="0" transform="translate(328.4 545) scale(0.92 1)" font-size="8.2" text-anchor="end" dominant-baseline="central" fill="#2a2a2a" style="stroke-width:0.18px">80</text>
<line x1="331.8" y1="557" x2="335" y2="557" stroke="#1a1a1a" stroke-width="1.12" />
<text x="0" y="0" transform="translate(328.4 557) scale(0.92 1)" font-size="8.2" text-anchor="end" dominant-baseline="central" fill="#2a2a2a" style="stroke-width:0.18px">75</text>
<line x1="331.8" y1="569" x2="335" y2="569" stroke="#1a1a1a" stroke-width="1.12" />
<text x="0" y="0" transform="translate(328.4 569) scale(0.92 1)" font-size="8.2" text-anchor="end" dominant-baseline="central" fill="#2a2a2a" style="stroke-width:0.18px">70</text>
<line x1="331.8" y1="581" x2="335" y2="581" stroke="#1a1a1a" stroke-width="1.12" />
<text x="0" y="0" transform="translate(328.4 581) scale(0.92 1)" font-size="8.2" text-anchor="end" dominant-baseline="central" fill="#2a2a2a" style="stroke-width:0.18px">65</text>
<line x1="331.8" y1="593" x2="335" y2="593" stroke="#1a1a1a" stroke-width="1.12" />
<text x="0" y="0" transform="translate(328.4 593) scale(0.92 1)" font-size="8.2" text-anchor="end" dominant-baseline="central" fill="#2a2a2a" style="stroke-width:0.18px">60</text>
<line x1="331.8" y1="605" x2="335" y2="605" stroke="#1a1a1a" stroke-width="1.12" />
<text x="0" y="0" transform="translate(328.4 605) scale(0.92 1)" font-size="8.2" text-anchor="end" dominant-baseline="central" fill="#2a2a2a" style="stroke-width:0.18px">55</text>
<line x1="331.8" y1="616.8" x2="335" y2="616.8" stroke="#1a1a1a" stroke-width="1.12" />
<text x="0" y="0" transform="translate(328.4 616.8) scale(0.92 1)" font-size="8.2" text-anchor="end" dominant-baseline="central" fill="#2a2a2a" style="stroke-width:0.18px">50</text>
<line x1="370.5" y1="616.8" x2="370.5" y2="620" stroke="#1a1a1a" stroke-width="1.12" />
<line x1="349.2" y1="553.8" x2="349.2" y2="560" stroke="#c8157f" stroke-width="0.8" />
<line x1="346.2" y1="553.8" x2="352.2" y2="553.8" stroke="#c8157f" stroke-width="0.8" />
<line x1="346.2" y1="560" x2="352.2" y2="560" stroke="#c8157f" stroke-width="0.8" />
<circle cx="349.3" cy="550" r="1.62" fill="#c8157f"/>
<circle cx="346.3" cy="555" r="1.62" fill="#c8157f"/>
<circle cx="352.5" cy="555" r="1.62" fill="#c8157f"/>
<circle cx="348.8" cy="563.8" r="1.62" fill="#c8157f"/>
<circle cx="349.3" cy="557.5" r="1.62" fill="#c8157f"/>
<line x1="370.5" y1="582" x2="370.5" y2="596.3" stroke="#1e3b7d" stroke-width="0.8" />
<line x1="367.5" y1="582" x2="373.5" y2="582" stroke="#1e3b7d" stroke-width="0.8" />
<line x1="367.5" y1="596.3" x2="373.5" y2="596.3" stroke="#1e3b7d" stroke-width="0.8" />
<rect x="369.1" y="574.1" width="2.81" height="2.81" fill="#1e3b7d"/>
<rect x="369.1" y="581.1" width="2.81" height="2.81" fill="#1e3b7d"/>
<rect x="369.1" y="592.4" width="2.81" height="2.81" fill="#1e3b7d"/>
<rect x="369.1" y="601.6" width="2.81" height="2.81" fill="#1e3b7d"/>
<line x1="392.2" y1="587.5" x2="392.2" y2="594.5" stroke="#e38b16" stroke-width="0.8" />
<line x1="389.2" y1="587.5" x2="395.2" y2="587.5" stroke="#e38b16" stroke-width="0.8" />
<line x1="389.2" y1="594.5" x2="395.2" y2="594.5" stroke="#e38b16" stroke-width="0.8" />
<polygon points="392,581.25 390.4,584.31 393.6,584.31" fill="#e38b16"/>
<polygon points="389.5,589.55 387.9,592.61 391.1,592.61" fill="#e38b16"/>
<polygon points="393,589.55 391.4,592.61 394.6,592.61" fill="#e38b16"/>
<polygon points="392,591.25 390.4,594.31 393.6,594.31" fill="#e38b16"/>
<polyline points="351.3,545.8 351.3,543.3 371.3,543.3 371.3,565" stroke="#1a1a1a" stroke-width="1.2" fill="none" />
<circle cx="359.62" cy="540.4" r="0.9" fill="#3a3a3a"/>
<circle cx="362.38" cy="540.4" r="0.9" fill="#3a3a3a"/>
<polyline points="351.3,537.5 351.3,530.8 392,530.8 392,572.5" stroke="#1a1a1a" stroke-width="1.2" fill="none" />
<circle cx="369.25" cy="528.4" r="0.9" fill="#3a3a3a"/>
<circle cx="372" cy="528.4" r="0.9" fill="#3a3a3a"/>
<circle cx="374.75" cy="528.4" r="0.9" fill="#3a3a3a"/>
<text x="370.6" y="627.5" font-size="7.9" text-anchor="middle" dominant-baseline="central" fill="#2a2a2a" textLength="15.6" lengthAdjust="spacingAndGlyphs" style="stroke-width:0.2px">MLN</text>
<text x="310.6" y="579.8" font-size="10.62" text-anchor="middle" dominant-baseline="central" fill="#222" textLength="51.6" lengthAdjust="spacingAndGlyphs" transform="rotate(-90 310.6 579.8)">%Brdu<tspan font-size="7.65" dy="-3.19">+</tspan><tspan dy="3.19">&#8203;</tspan>CD8<tspan font-size="7.65" dy="-3.19">+</tspan><tspan dy="3.19">&#8203;</tspan>T</text>
<circle cx="423.4" cy="545.3" r="2.7" fill="#c8157f"/>
<text x="429.1" y="544.8" font-size="7.2" text-anchor="start" dominant-baseline="central" fill="#2a2a2a" textLength="9.8" lengthAdjust="spacingAndGlyphs" style="stroke-width:0.16px">Teff</text>
<rect x="421.22" y="553.12" width="4.75" height="4.75" fill="#1e3b7d"/>
<text x="429.1" y="555.2" font-size="7.2" text-anchor="start" dominant-baseline="central" fill="#2a2a2a" textLength="9.2" lengthAdjust="spacingAndGlyphs" style="stroke-width:0.16px">Tex</text>
<polygon points="423.6,563.05 420.99,568.04 426.21,568.04" fill="#e38b16"/>
<text x="429.1" y="564.9" font-size="7.2" text-anchor="start" dominant-baseline="central" fill="#2a2a2a" textLength="12.5" lengthAdjust="spacingAndGlyphs" style="stroke-width:0.16px">Tmp</text>
<text x="0" y="0" transform="translate(8.26 649.93) scale(1.06 1)" font-size="13.2" font-weight="bold" fill="#000" style="stroke:#000;stroke-width:0.45px">K</text>
<rect x="52.7" y="705.8" width="9.7" height="14.3" fill="#e09ac2" stroke="none" stroke-width="0"/>
<rect x="68.4" y="680.4" width="9.7" height="39.7" fill="#8a92ba" stroke="none" stroke-width="0"/>
<rect x="83.8" y="712" width="9.3" height="8.1" fill="#f3c98e" stroke="none" stroke-width="0"/>
<rect x="109.2" y="705.3" width="9.7" height="14.8" fill="#e09ac2" stroke="none" stroke-width="0"/>
<rect x="124.9" y="673" width="9.3" height="47.1" fill="#8a92ba" stroke="none" stroke-width="0"/>
<rect x="139.9" y="691.9" width="9.3" height="28.2" fill="#f3c98e" stroke="none" stroke-width="0"/>
<line x1="47.5" y1="645.1" x2="47.5" y2="720.73" stroke="#1a1a1a" stroke-width="1.25" />
<line x1="46.88" y1="720.1" x2="154.7" y2="720.1" stroke="#1a1a1a" stroke-width="1.25" />
<line x1="44.3" y1="648.5" x2="47.5" y2="648.5" stroke="#1a1a1a" stroke-width="1.12" />
<text x="0" y="0" transform="translate(40.9 648.5) scale(0.92 1)" font-size="8.2" text-anchor="end" dominant-baseline="central" fill="#2a2a2a" style="stroke-width:0.18px">6000</text>
<line x1="44.3" y1="672.3" x2="47.5" y2="672.3" stroke="#1a1a1a" stroke-width="1.12" />
<text x="0" y="0" transform="translate(40.9 672.3) scale(0.92 1)" font-size="8.2" text-anchor="end" dominant-baseline="central" fill="#2a2a2a" style="stroke-width:0.18px">4000</text>
<line x1="44.3" y1="696.1" x2="47.5" y2="696.1" stroke="#1a1a1a" stroke-width="1.12" />
<text x="0" y="0" transform="translate(40.9 696.1) scale(0.92 1)" font-size="8.2" text-anchor="end" dominant-baseline="central" fill="#2a2a2a" style="stroke-width:0.18px">2000</text>
<line x1="44.3" y1="720.1" x2="47.5" y2="720.1" stroke="#1a1a1a" stroke-width="1.12" />
<text x="0" y="0" transform="translate(40.9 720.1) scale(0.92 1)" font-size="8.2" text-anchor="end" dominant-baseline="central" fill="#2a2a2a" style="stroke-width:0.18px">0</text>
<line x1="73" y1="720.1" x2="73" y2="723.3" stroke="#1a1a1a" stroke-width="1.12" />
<line x1="129.5" y1="720.1" x2="129.5" y2="723.3" stroke="#1a1a1a" stroke-width="1.12" />
<line x1="57.5" y1="703" x2="57.5" y2="708.5" stroke="#c8157f" stroke-width="0.8" />
<line x1="55.1" y1="703" x2="59.9" y2="703" stroke="#c8157f" stroke-width="0.8" />
<line x1="55.1" y1="708.5" x2="59.9" y2="708.5" stroke="#c8157f" stroke-width="0.8" />
<circle cx="54.3" cy="701.8" r="1.62" fill="#c8157f"/>
<circle cx="57.8" cy="702.8" r="1.62" fill="#c8157f"/>
<circle cx="61.9" cy="703.5" r="1.62" fill="#c8157f"/>
<circle cx="54.3" cy="705.8" r="1.62" fill="#c8157f"/>
<circle cx="58.5" cy="709.2" r="1.62" fill="#c8157f"/>
<line x1="73.3" y1="677.5" x2="73.3" y2="683.5" stroke="#1e3b7d" stroke-width="0.8" />
<line x1="70.9" y1="677.5" x2="75.7" y2="677.5" stroke="#1e3b7d" stroke-width="0.8" />
<line x1="70.9" y1="683.5" x2="75.7" y2="683.5" stroke="#1e3b7d" stroke-width="0.8" />
<rect x="68.1" y="673.7" width="2.81" height="2.81" fill="#1e3b7d"/>
<rect x="75.5" y="673.7" width="2.81" height="2.81" fill="#1e3b7d"/>
<rect x="72.1" y="679.7" width="2.81" height="2.81" fill="#1e3b7d"/>
<rect x="68.1" y="683.6" width="2.81" height="2.81" fill="#1e3b7d"/>
<rect x="75.5" y="682.9" width="2.81" height="2.81" fill="#1e3b7d"/>
<rect x="72.1" y="676.7" width="2.81" height="2.81" fill="#1e3b7d"/>
<polygon points="85,707.45 83.4,710.51 86.6,710.51" fill="#e38b16"/>
<polygon points="88.5,708.65 86.9,711.71 90.1,711.71" fill="#e38b16"/>
<polygon points="91.9,709.75 90.3,712.81 93.5,712.81" fill="#e38b16"/>
<line x1="114" y1="701" x2="114" y2="706.5" stroke="#c8157f" stroke-width="0.8" />
<line x1="111.6" y1="701" x2="116.4" y2="701" stroke="#c8157f" stroke-width="0.8" />
<line x1="111.6" y1="706.5" x2="116.4" y2="706.5" stroke="#c8157f" stroke-width="0.8" />
<circle cx="113.9" cy="696.1" r="1.62" fill="#c8157f"/>
<circle cx="110.4" cy="703.5" r="1.62" fill="#c8157f"/>
<circle cx="114.3" cy="705.1" r="1.62" fill="#c8157f"/>
<circle cx="118" cy="704.6" r="1.62" fill="#c8157f"/>
<circle cx="113.9" cy="701.2" r="1.62" fill="#c8157f"/>
<line x1="129.5" y1="667.7" x2="129.5" y2="679.2" stroke="#1e3b7d" stroke-width="0.8" />
<line x1="127.1" y1="667.7" x2="131.9" y2="667.7" stroke="#1e3b7d" stroke-width="0.8" />
<line x1="127.1" y1="679.2" x2="131.9" y2="679.2" stroke="#1e3b7d" stroke-width="0.8" />
<rect x="128.1" y="658.2" width="2.81" height="2.81" fill="#1e3b7d"/>
<rect x="128.1" y="661.7" width="2.81" height="2.81" fill="#1e3b7d"/>
<rect x="128.1" y="672.8" width="2.81" height="2.81" fill="#1e3b7d"/>
<rect x="127.5" y="679" width="2.81" height="2.81" fill="#1e3b7d"/>
<rect x="128.1" y="684.8" width="2.81" height="2.81" fill="#1e3b7d"/>
<line x1="144.8" y1="684.3" x2="144.8" y2="696.5" stroke="#e38b16" stroke-width="0.8" />
<line x1="142.4" y1="684.3" x2="147.2" y2="684.3" stroke="#e38b16" stroke-width="0.8" />
<line x1="142.4" y1="696.5" x2="147.2" y2="696.5" stroke="#e38b16" stroke-width="0.8" />
<polygon points="145,679.35 143.4,682.41 146.6,682.41" fill="#e38b16"/>
<polygon points="145,683.95 143.4,687.01 146.6,687.01" fill="#e38b16"/>
<polygon points="141.5,693.65 139.9,696.71 143.1,696.71" fill="#e38b16"/>
<polygon points="148.5,699.45 146.9,702.51 150.1,702.51" fill="#e38b16"/>
<polygon points="141.5,699.45 139.9,702.51 143.1,702.51" fill="#e38b16"/>
<polyline points="57.3,688.5 57.3,665.8 73,665.8 73,669.5" stroke="#1a1a1a" stroke-width="1.2" fill="none" />
<circle cx="62.15" cy="663.4" r="0.9" fill="#3a3a3a"/>
<circle cx="64.9" cy="663.4" r="0.9" fill="#3a3a3a"/>
<circle cx="67.65" cy="663.4" r="0.9" fill="#3a3a3a"/>
<polyline points="113.9,683.8 113.9,653.4 129.5,653.4 129.5,657.3" stroke="#1a1a1a" stroke-width="1.2" fill="none" />
<circle cx="117.38" cy="650.8" r="0.9" fill="#3a3a3a"/>
<circle cx="120.12" cy="650.8" r="0.9" fill="#3a3a3a"/>
<circle cx="122.88" cy="650.8" r="0.9" fill="#3a3a3a"/>
<circle cx="125.62" cy="650.8" r="0.9" fill="#3a3a3a"/>
<text x="74" y="731.8" font-size="7.9" text-anchor="middle" dominant-baseline="central" fill="#2a2a2a" textLength="11.8" lengthAdjust="spacingAndGlyphs" style="stroke-width:0.2px">SPL</text>
<text x="129.3" y="731.8" font-size="7.9" text-anchor="middle" dominant-baseline="central" fill="#2a2a2a" textLength="15.6" lengthAdjust="spacingAndGlyphs" style="stroke-width:0.2px">MLN</text>
<text x="15.6" y="683" font-size="10.62" text-anchor="middle" dominant-baseline="central" fill="#222" textLength="33" lengthAdjust="spacingAndGlyphs" transform="rotate(-90 15.6 683)">Tim3 MFI</text>
<circle cx="164.3" cy="648.3" r="2.59" fill="#c8157f"/>
<text x="170.1" y="648" font-size="7" text-anchor="start" dominant-baseline="central" fill="#2a2a2a" textLength="9.6" lengthAdjust="spacingAndGlyphs" style="stroke-width:0.16px">Teff</text>
<rect x="161.82" y="656.12" width="4.97" height="4.97" fill="#1e3b7d"/>
<text x="170.1" y="658.3" font-size="7" text-anchor="start" dominant-baseline="central" fill="#2a2a2a" textLength="9.1" lengthAdjust="spacingAndGlyphs" style="stroke-width:0.16px">Tex</text>
<polygon points="164.3,666.25 161.69,671.24 166.91,671.24" fill="#e38b16"/>
<text x="170.1" y="668.4" font-size="7" text-anchor="start" dominant-baseline="central" fill="#2a2a2a" textLength="12" lengthAdjust="spacingAndGlyphs" style="stroke-width:0.16px">Tmp</text>
<text x="0" y="0" transform="translate(246.89 650.63) scale(0.8 1)" font-size="13.2" font-weight="bold" fill="#000" style="stroke:#000;stroke-width:0.45px">L</text>
<rect x="287.8" y="661.3" width="8" height="57" fill="#8a92ba" stroke="none" stroke-width="0"/>
<rect x="302.2" y="702" width="8.2" height="16.3" fill="#d48a7b" stroke="none" stroke-width="0"/>
<rect x="325.9" y="662" width="8" height="56.3" fill="#8a92ba" stroke="none" stroke-width="0"/>
<rect x="340.3" y="682" width="8.3" height="36.3" fill="#d48a7b" stroke="none" stroke-width="0"/>
<line x1="282" y1="644.5" x2="282" y2="718.92" stroke="#1a1a1a" stroke-width="1.25" />
<line x1="281.38" y1="718.3" x2="353.8" y2="718.3" stroke="#1a1a1a" stroke-width="1.25" />
<line x1="278.8" y1="646.8" x2="282" y2="646.8" stroke="#1a1a1a" stroke-width="1.12" />
<text x="0" y="0" transform="translate(275.4 646.8) scale(0.92 1)" font-size="8.2" text-anchor="end" dominant-baseline="central" fill="#2a2a2a" style="stroke-width:0.18px">50</text>
<line x1="278.8" y1="661.3" x2="282" y2="661.3" stroke="#1a1a1a" stroke-width="1.12" />
<text x="0" y="0" transform="translate(275.4 661.3) scale(0.92 1)" font-size="8.2" text-anchor="end" dominant-baseline="central" fill="#2a2a2a" style="stroke-width:0.18px">40</text>
<line x1="278.8" y1="675.5" x2="282" y2="675.5" stroke="#1a1a1a" stroke-width="1.12" />
<text x="0" y="0" transform="translate(275.4 675.5) scale(0.92 1)" font-size="8.2" text-anchor="end" dominant-baseline="central" fill="#2a2a2a" style="stroke-width:0.18px">30</text>
<line x1="278.8" y1="690" x2="282" y2="690" stroke="#1a1a1a" stroke-width="1.12" />
<text x="0" y="0" transform="translate(275.4 690) scale(0.92 1)" font-size="8.2" text-anchor="end" dominant-baseline="central" fill="#2a2a2a" style="stroke-width:0.18px">20</text>
<line x1="278.8" y1="704.3" x2="282" y2="704.3" stroke="#1a1a1a" stroke-width="1.12" />
<text x="0" y="0" transform="translate(275.4 704.3) scale(0.92 1)" font-size="8.2" text-anchor="end" dominant-baseline="central" fill="#2a2a2a" style="stroke-width:0.18px">10</text>
<line x1="278.8" y1="718.3" x2="282" y2="718.3" stroke="#1a1a1a" stroke-width="1.12" />
<text x="0" y="0" transform="translate(275.4 718.3) scale(0.92 1)" font-size="8.2" text-anchor="end" dominant-baseline="central" fill="#2a2a2a" style="stroke-width:0.18px">0</text>
<line x1="298.9" y1="718.3" x2="298.9" y2="721.5" stroke="#1a1a1a" stroke-width="1.12" />
<line x1="336.9" y1="718.3" x2="336.9" y2="721.5" stroke="#1a1a1a" stroke-width="1.12" />
<line x1="292" y1="658.5" x2="292" y2="663" stroke="#1e3b7d" stroke-width="0.8" />
<line x1="289.6" y1="658.5" x2="294.4" y2="658.5" stroke="#1e3b7d" stroke-width="0.8" />
<line x1="289.6" y1="663" x2="294.4" y2="663" stroke="#1e3b7d" stroke-width="0.8" />
<circle cx="292" cy="655.5" r="1.62" fill="#1e3b7d"/>
<circle cx="289.5" cy="660.8" r="1.62" fill="#1e3b7d"/>
<circle cx="295" cy="660.8" r="1.62" fill="#1e3b7d"/>
<circle cx="292" cy="658.8" r="1.62" fill="#1e3b7d"/>
<rect x="304.84" y="698.04" width="2.92" height="2.92" fill="#b00c2a"/>
<rect x="302.34" y="700.54" width="2.92" height="2.92" fill="#b00c2a"/>
<rect x="308.04" y="700.54" width="2.92" height="2.92" fill="#b00c2a"/>
<rect x="304.84" y="703.54" width="2.92" height="2.92" fill="#b00c2a"/>
<line x1="330" y1="658.3" x2="330" y2="664.5" stroke="#1e3b7d" stroke-width="0.8" />
<line x1="327.6" y1="658.3" x2="332.4" y2="658.3" stroke="#1e3b7d" stroke-width="0.8" />
<line x1="327.6" y1="664.5" x2="332.4" y2="664.5" stroke="#1e3b7d" stroke-width="0.8" />
<circle cx="329.5" cy="653.8" r="1.62" fill="#1e3b7d"/>
<circle cx="327" cy="663.8" r="1.62" fill="#1e3b7d"/>
<circle cx="333" cy="661.3" r="1.62" fill="#1e3b7d"/>
<circle cx="329.5" cy="660.8" r="1.62" fill="#1e3b7d"/>
<rect x="339.84" y="679.84" width="2.92" height="2.92" fill="#b00c2a"/>
<rect x="343.04" y="679.04" width="2.92" height="2.92" fill="#b00c2a"/>
<rect x="346.54" y="678.04" width="2.92" height="2.92" fill="#b00c2a"/>
<rect x="339.84" y="683.54" width="2.92" height="2.92" fill="#b00c2a"/>
<rect x="343.54" y="682.34" width="2.92" height="2.92" fill="#b00c2a"/>
<line x1="290.5" y1="648.8" x2="308" y2="648.8" stroke="#1a1a1a" stroke-width="1.25" />
<circle cx="295.18" cy="646.3" r="0.9" fill="#3a3a3a"/>
<circle cx="297.93" cy="646.3" r="0.9" fill="#3a3a3a"/>
<circle cx="300.68" cy="646.3" r="0.9" fill="#3a3a3a"/>
<circle cx="303.43" cy="646.3" r="0.9" fill="#3a3a3a"/>
<line x1="327" y1="648.3" x2="345.5" y2="648.3" stroke="#1a1a1a" stroke-width="1.25" />
<circle cx="332.18" cy="646.3" r="0.9" fill="#3a3a3a"/>
<circle cx="334.93" cy="646.3" r="0.9" fill="#3a3a3a"/>
<circle cx="337.68" cy="646.3" r="0.9" fill="#3a3a3a"/>
<circle cx="340.43" cy="646.3" r="0.9" fill="#3a3a3a"/>
<text x="299.4" y="729.5" font-size="7.9" text-anchor="middle" dominant-baseline="central" fill="#2a2a2a" textLength="11.8" lengthAdjust="spacingAndGlyphs" style="stroke-width:0.2px">SPL</text>
<text x="337.3" y="729.5" font-size="7.9" text-anchor="middle" dominant-baseline="central" fill="#2a2a2a" textLength="15.6" lengthAdjust="spacingAndGlyphs" style="stroke-width:0.2px">MLN</text>
<text x="257.7" y="681.8" font-size="10.62" text-anchor="middle" dominant-baseline="central" fill="#222" textLength="48.9" lengthAdjust="spacingAndGlyphs" transform="rotate(-90 257.7 681.8)">%IL-2<tspan font-size="7.65" dy="-3.19">+</tspan><tspan dy="3.19">&#8203;</tspan>CD4<tspan font-size="7.65" dy="-3.19">+</tspan><tspan dy="3.19">&#8203;</tspan> T</text>
<circle cx="363.1" cy="650.7" r="2.16" fill="#1e3b7d"/>
<text x="368.8" y="646.9" font-size="6.7" text-anchor="start" dominant-baseline="central" fill="#2a2a2a" textLength="22.5" lengthAdjust="spacingAndGlyphs" style="stroke-width:0.16px">anti-IL-2</text>
<text x="368.8" y="654.4" font-size="6.7" text-anchor="start" dominant-baseline="central" fill="#2a2a2a" textLength="33.5" lengthAdjust="spacingAndGlyphs" style="stroke-width:0.16px">(JES6-1A12)</text>
<rect x="360.82" y="662.12" width="4.75" height="4.75" fill="#b00c2a"/>
<text x="368.8" y="664.2" font-size="6.7" text-anchor="start" dominant-baseline="central" fill="#2a2a2a" textLength="28.3" lengthAdjust="spacingAndGlyphs" style="stroke-width:0.16px">Tacrolimus</text>
<rect x="0" y="0" width="520" height="1.35" fill="#000" stroke="none" stroke-width="0"/>
<rect x="0" y="0" width="1.3" height="743" fill="#000" stroke="none" stroke-width="0"/>
<rect x="518.5" y="0" width="1.5" height="743" fill="#000" stroke="none" stroke-width="0"/>
<rect x="0" y="741.4" width="520" height="1.6" fill="#000" stroke="none" stroke-width="0"/>
</svg>
</body></html>
